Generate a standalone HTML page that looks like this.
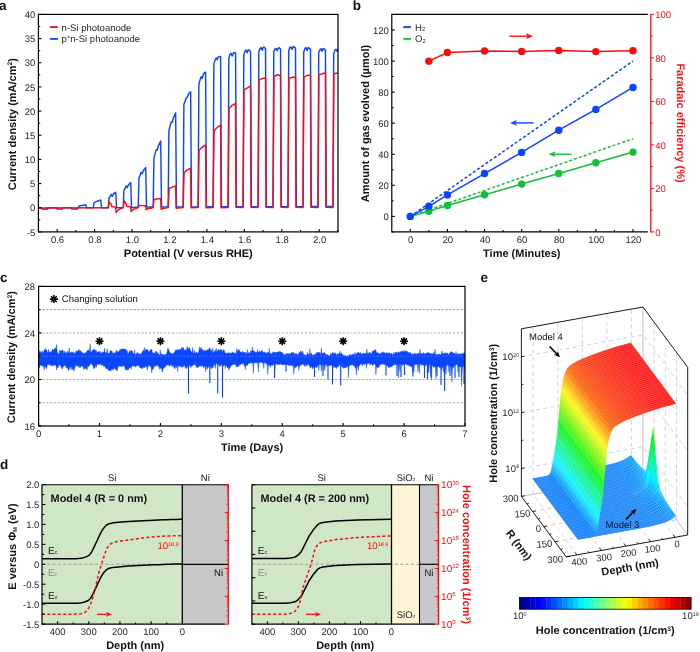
<!DOCTYPE html>
<html><head><meta charset="utf-8"><title>Figure</title>
<style>
html,body{margin:0;padding:0;background:#fff;}
body{width:700px;height:652px;overflow:hidden;font-family:"Liberation Sans",sans-serif;}
svg{display:block;font-family:"Liberation Sans",sans-serif;text-rendering:geometricPrecision;will-change:transform;}
</style></head><body>
<svg width="700" height="652" viewBox="0 0 700 652">
<rect x="0" y="0" width="700" height="652" fill="#fff"/>
<g id="panel-a">
<text x="-0.9" y="9.7" font-size="13.5" text-anchor="start" font-weight="bold" fill="#111">a</text>
<clipPath id="clipA"><rect x="38.4" y="14.4" width="299.6" height="217.5"/></clipPath>
<g clip-path="url(#clipA)" fill="none" stroke-linejoin="round" stroke-linecap="round">
<path d="M37.46 207.73 L41.21 207.73 L41.77 208.94 L47.76 208.94 L48.32 207.73 L56.19 207.73 L56.75 208.94 L62.74 208.94 L63.3 207.73 L71.17 207.73 L71.73 208.94 L77.72 208.94 L78.28 207.73 L78.28 207.73 L79.03 206.04 L80.16 205.75 L81.28 205.54 L82.4 205.35 L83.53 205.17 L84.65 205 L85.77 204.83 L86.62 207.73 L93.26 207.73 L94.01 202.9 L95.14 202.21 L96.26 201.7 L97.38 201.23 L98.51 200.8 L99.63 200.39 L100.75 200 L101.6 207.73 L108.24 207.73 L108.99 198.07 L110.12 196.68 L111.24 194.45 L112.36 196.43 L113.49 193.87 L114.61 193.05 L115.73 192.27 L116.58 207.73 L123.22 207.73 L123.97 190.33 L125.1 188.49 L126.22 185.91 L127.34 187.58 L128.47 184.74 L129.59 183.65 L130.71 182.6 L131.56 207.73 L138.2 206.99 L138.95 177.77 L140.08 175.35 L141.2 172.34 L142.32 173.63 L143.45 170.43 L144.57 168.99 L145.69 167.62 L146.54 206.99 L153.18 206.95 L153.93 157.95 L155.06 153.92 L156.18 149.72 L157.3 149.93 L158.43 145.72 L159.55 143.33 L160.67 141.03 L161.52 206.95 L168.16 206.91 L168.91 130.4 L170.04 126.25 L171.16 121.97 L172.28 122.1 L173.41 117.82 L174.53 115.36 L175.65 113 L176.5 206.91 L183.14 206.87 L183.89 104.24 L185.02 101.55 L186.14 98.03 L187.26 97.35 L188.39 94.3 L189.51 92.86 L190.63 91.83 L191.48 206.87 L198.12 206.83 L198.87 84.47 L200 80.07 L201.12 76.76 L202.24 78.39 L203.37 74.37 L204.49 72.72 L205.61 72.26 L206.46 206.83 L213.1 206.8 L213.85 64.14 L214.98 60.34 L216.1 57.96 L217.22 59.64 L218.35 56.87 L219.47 56.57 L220.59 56.62 L221.44 206.8 L228.08 206.76 L228.83 58.43 L229.96 54.26 L231.08 53.36 L232.2 55.89 L233.33 53 L234.45 52.54 L235.57 52.94 L236.42 206.76 L243.06 206.72 L243.81 54.89 L244.94 51.43 L246.06 49.97 L247.18 52.79 L248.31 49.81 L249.43 50.28 L250.55 51.4 L251.4 206.72 L258.04 206.68 L258.79 51.96 L259.92 48.53 L261.04 47.51 L262.16 50.24 L263.29 47.22 L264.41 47.34 L265.53 48.71 L266.38 206.68 L273.02 206.64 L273.77 51.76 L274.9 49.11 L276.02 48.41 L277.14 50.7 L278.27 48.12 L279.39 47.75 L280.51 49.18 L281.36 206.64 L288 206.6 L288.75 50.9 L289.88 47.33 L291 47.11 L292.12 49.43 L293.25 46.4 L294.37 47.14 L295.49 48 L296.34 206.6 L302.98 206.56 L303.73 52.15 L304.86 48.77 L305.98 47.53 L307.1 50.49 L308.23 47.58 L309.35 48.34 L310.47 49.22 L311.32 206.56 L317.96 206.53 L318.71 52.47 L319.84 49.84 L320.96 48.85 L322.08 51.15 L323.21 48.47 L324.33 49.12 L325.45 50.22 L326.3 206.53 L332.94 206.53 L333.69 54.06 L334.82 50.44 L335.94 49.19 L337.06 51.38 L338.19 48.88" stroke="#0a46ff" stroke-width="1.45" fill="none"/>
<path d="M37.46 207.97 L106.75 207.73 L108.24 207.73 L109.18 201.93 L110.49 203.38 L111.99 206.53 L115.55 207.25 L116.2 212.57 L117.98 210.15 L121.73 208.22 L123.22 207.49 L124.16 200.97 L125.47 202.66 L126.97 206.53 L130.53 206.77 L131.18 211.6 L132.96 209.67 L136.71 208.12 L138.2 207.49 L139.14 205.32 L140.45 205.47 L141.76 205.57 L143.07 205.65 L144.38 205.73 L145.69 205.8 L146.16 209.67 L147.94 208.7 L151.69 207.93 L153.18 207.49 L154.12 199.52 L155.43 199.2 L156.74 199.01 L158.05 198.84 L159.36 198.69 L160.67 198.55 L161.14 209.18 L162.92 208.46 L166.67 207.88 L168.16 207.49 L169.1 188.88 L170.41 187.94 L171.72 187.36 L173.03 186.86 L174.34 186.4 L175.65 185.98 L176.12 208.22 L177.9 207.97 L181.65 207.78 L183.14 207.49 L184.08 172.93 L185.39 171.37 L186.7 170.39 L188.01 169.55 L189.32 168.8 L190.63 168.1 L191.1 207.73 L198.12 207.49 L199.06 150.7 L200.37 148.82 L201.68 147.65 L202.99 146.64 L204.3 145.74 L205.61 144.9 L206.08 207.73 L213.1 207.49 L214.04 131.37 L215.35 129.33 L216.66 128.06 L217.97 126.97 L219.28 125.99 L220.59 125.08 L221.06 207.73 L228.08 207.49 L229.02 108.45 L230.33 107.32 L231.64 105.64 L232.95 104.98 L234.26 104.13 L235.57 103.36 L236.04 207.25 L243.06 207.49 L244 89.49 L245.31 89.13 L246.62 88.31 L247.93 87.56 L249.24 86.48 L250.55 86.9 L251.02 207.25 L258.04 207.49 L258.98 80.19 L260.29 79.45 L261.6 78.67 L262.91 78.41 L264.22 78.06 L265.53 78.46 L266 207.25 L273.02 207.49 L273.96 76.36 L275.27 75.96 L276.58 75.06 L277.89 74.72 L279.2 75.43 L280.51 75.19 L280.98 207.25 L288 207.49 L288.94 78.51 L290.25 78.04 L291.56 77.45 L292.87 77.08 L294.18 77.23 L295.49 77.33 L295.96 207.25 L302.98 207.49 L303.92 76.84 L305.23 76.43 L306.54 75.91 L307.85 75.21 L309.16 75.29 L310.47 75.28 L310.94 207.25 L317.96 207.49 L318.9 74.68 L320.21 74.14 L321.52 74.57 L322.83 73.34 L324.14 73.25 L325.45 72.93 L325.92 207.25 L332.94 207.49 L333.88 73.5 L335.19 73.5 L336.5 73.2 L337.81 73.3" stroke="#ff0a0a" stroke-width="1.45" fill="none"/>
</g>
<rect x="38.4" y="14.4" width="299.6" height="217.5" fill="none" stroke="#000" stroke-width="1.2"/>
<line x1="38.4" y1="231.9" x2="38.4" y2="230.1" stroke="#000" stroke-width="1.1"/>
<line x1="57.12" y1="231.9" x2="57.12" y2="228.9" stroke="#000" stroke-width="1.1"/>
<text x="57.52" y="242.7" font-size="9.5" text-anchor="middle" fill="#262626">0.6</text>
<line x1="75.85" y1="231.9" x2="75.85" y2="230.1" stroke="#000" stroke-width="1.1"/>
<line x1="94.58" y1="231.9" x2="94.58" y2="228.9" stroke="#000" stroke-width="1.1"/>
<text x="94.98" y="242.7" font-size="9.5" text-anchor="middle" fill="#262626">0.8</text>
<line x1="113.3" y1="231.9" x2="113.3" y2="230.1" stroke="#000" stroke-width="1.1"/>
<line x1="132.03" y1="231.9" x2="132.03" y2="228.9" stroke="#000" stroke-width="1.1"/>
<text x="132.43" y="242.7" font-size="9.5" text-anchor="middle" fill="#262626">1.0</text>
<line x1="150.75" y1="231.9" x2="150.75" y2="230.1" stroke="#000" stroke-width="1.1"/>
<line x1="169.48" y1="231.9" x2="169.48" y2="228.9" stroke="#000" stroke-width="1.1"/>
<text x="169.88" y="242.7" font-size="9.5" text-anchor="middle" fill="#262626">1.2</text>
<line x1="188.2" y1="231.9" x2="188.2" y2="230.1" stroke="#000" stroke-width="1.1"/>
<line x1="206.92" y1="231.9" x2="206.92" y2="228.9" stroke="#000" stroke-width="1.1"/>
<text x="207.32" y="242.7" font-size="9.5" text-anchor="middle" fill="#262626">1.4</text>
<line x1="225.65" y1="231.9" x2="225.65" y2="230.1" stroke="#000" stroke-width="1.1"/>
<line x1="244.38" y1="231.9" x2="244.38" y2="228.9" stroke="#000" stroke-width="1.1"/>
<text x="244.78" y="242.7" font-size="9.5" text-anchor="middle" fill="#262626">1.6</text>
<line x1="263.1" y1="231.9" x2="263.1" y2="230.1" stroke="#000" stroke-width="1.1"/>
<line x1="281.82" y1="231.9" x2="281.82" y2="228.9" stroke="#000" stroke-width="1.1"/>
<text x="282.22" y="242.7" font-size="9.5" text-anchor="middle" fill="#262626">1.8</text>
<line x1="300.55" y1="231.9" x2="300.55" y2="230.1" stroke="#000" stroke-width="1.1"/>
<line x1="319.27" y1="231.9" x2="319.27" y2="228.9" stroke="#000" stroke-width="1.1"/>
<text x="319.67" y="242.7" font-size="9.5" text-anchor="middle" fill="#262626">2.0</text>
<line x1="338" y1="231.9" x2="338" y2="230.1" stroke="#000" stroke-width="1.1"/>
<line x1="38.4" y1="231.9" x2="41.4" y2="231.9" stroke="#000" stroke-width="1.1"/>
<text x="35.4" y="235.6" font-size="9.5" text-anchor="end" fill="#262626">-5</text>
<line x1="38.4" y1="219.82" x2="40.2" y2="219.82" stroke="#000" stroke-width="1.1"/>
<line x1="38.4" y1="207.73" x2="41.4" y2="207.73" stroke="#000" stroke-width="1.1"/>
<text x="35.4" y="211.43" font-size="9.5" text-anchor="end" fill="#262626">0</text>
<line x1="38.4" y1="195.65" x2="40.2" y2="195.65" stroke="#000" stroke-width="1.1"/>
<line x1="38.4" y1="183.57" x2="41.4" y2="183.57" stroke="#000" stroke-width="1.1"/>
<text x="35.4" y="187.27" font-size="9.5" text-anchor="end" fill="#262626">5</text>
<line x1="38.4" y1="171.48" x2="40.2" y2="171.48" stroke="#000" stroke-width="1.1"/>
<line x1="38.4" y1="159.4" x2="41.4" y2="159.4" stroke="#000" stroke-width="1.1"/>
<text x="35.4" y="163.1" font-size="9.5" text-anchor="end" fill="#262626">10</text>
<line x1="38.4" y1="147.32" x2="40.2" y2="147.32" stroke="#000" stroke-width="1.1"/>
<line x1="38.4" y1="135.23" x2="41.4" y2="135.23" stroke="#000" stroke-width="1.1"/>
<text x="35.4" y="138.93" font-size="9.5" text-anchor="end" fill="#262626">15</text>
<line x1="38.4" y1="123.15" x2="40.2" y2="123.15" stroke="#000" stroke-width="1.1"/>
<line x1="38.4" y1="111.07" x2="41.4" y2="111.07" stroke="#000" stroke-width="1.1"/>
<text x="35.4" y="114.77" font-size="9.5" text-anchor="end" fill="#262626">20</text>
<line x1="38.4" y1="98.98" x2="40.2" y2="98.98" stroke="#000" stroke-width="1.1"/>
<line x1="38.4" y1="86.9" x2="41.4" y2="86.9" stroke="#000" stroke-width="1.1"/>
<text x="35.4" y="90.6" font-size="9.5" text-anchor="end" fill="#262626">25</text>
<line x1="38.4" y1="74.82" x2="40.2" y2="74.82" stroke="#000" stroke-width="1.1"/>
<line x1="38.4" y1="62.73" x2="41.4" y2="62.73" stroke="#000" stroke-width="1.1"/>
<text x="35.4" y="66.43" font-size="9.5" text-anchor="end" fill="#262626">30</text>
<line x1="38.4" y1="50.65" x2="40.2" y2="50.65" stroke="#000" stroke-width="1.1"/>
<line x1="38.4" y1="38.57" x2="41.4" y2="38.57" stroke="#000" stroke-width="1.1"/>
<text x="35.4" y="42.27" font-size="9.5" text-anchor="end" fill="#262626">35</text>
<line x1="38.4" y1="26.48" x2="40.2" y2="26.48" stroke="#000" stroke-width="1.1"/>
<line x1="38.4" y1="14.4" x2="41.4" y2="14.4" stroke="#000" stroke-width="1.1"/>
<text x="35.4" y="18.1" font-size="9.5" text-anchor="end" fill="#262626">40</text>
<text x="188.3" y="257.1" font-size="11" text-anchor="middle" font-weight="bold" fill="#111">Potential (V versus RHE)</text>
<text x="15.8" y="124.2" font-size="11" text-anchor="middle" font-weight="bold" fill="#111" transform="rotate(-90 15.8 124.2)">Current density (mA/cm<tspan font-size="60%" dy="-0.5em">2</tspan><tspan dy="0.30em">)</tspan></text>
<line x1="50.1" y1="27.1" x2="57.8" y2="27.1" stroke="#ff0a0a" stroke-width="1.9"/>
<line x1="50.1" y1="38.9" x2="57.8" y2="38.9" stroke="#0a46ff" stroke-width="1.9"/>
<text x="61.6" y="30.5" font-size="9.5" text-anchor="start" fill="#262626">n-Si photoanode</text>
<text x="61.6" y="42.3" font-size="9.5" text-anchor="start" fill="#262626">p<tspan font-size="62%" dy="-0.62em">+</tspan><tspan dy="0.385em">n-Si photoanode</tspan></text>
</g>
<g id="panel-b">
<text x="352.8" y="9.7" font-size="13.5" text-anchor="start" font-weight="bold" fill="#111">b</text>
<line x1="410.3" y1="216.4" x2="633" y2="61.07" stroke="#0a46ff" stroke-width="1.5" stroke-dasharray="3 2.1"/>
<line x1="410.3" y1="216.4" x2="633" y2="138.73" stroke="#12bf38" stroke-width="1.5" stroke-dasharray="3 2.1"/>
<path d="M410.3 216.4 L428.86 211.27 L447.42 205.53 L484.53 194.81 L521.65 184.09 L558.77 173.53 L595.88 162.81 L633 152.09" stroke="#12bf38" stroke-width="1.5" fill="none"/>
<circle cx="410.3" cy="216.4" r="3.7" fill="#12bf38"/>
<circle cx="428.86" cy="211.27" r="3.7" fill="#12bf38"/>
<circle cx="447.42" cy="205.53" r="3.7" fill="#12bf38"/>
<circle cx="484.53" cy="194.81" r="3.7" fill="#12bf38"/>
<circle cx="521.65" cy="184.09" r="3.7" fill="#12bf38"/>
<circle cx="558.77" cy="173.53" r="3.7" fill="#12bf38"/>
<circle cx="595.88" cy="162.81" r="3.7" fill="#12bf38"/>
<circle cx="633" cy="152.09" r="3.7" fill="#12bf38"/>
<path d="M410.3 216.4 L428.86 206.3 L447.42 194.96 L484.53 173.53 L521.65 152.4 L558.77 130.19 L595.88 109.38 L633 87.47" stroke="#0a46ff" stroke-width="1.5" fill="none"/>
<circle cx="410.3" cy="216.4" r="3.7" fill="#0a46ff"/>
<circle cx="428.86" cy="206.3" r="3.7" fill="#0a46ff"/>
<circle cx="447.42" cy="194.96" r="3.7" fill="#0a46ff"/>
<circle cx="484.53" cy="173.53" r="3.7" fill="#0a46ff"/>
<circle cx="521.65" cy="152.4" r="3.7" fill="#0a46ff"/>
<circle cx="558.77" cy="130.19" r="3.7" fill="#0a46ff"/>
<circle cx="595.88" cy="109.38" r="3.7" fill="#0a46ff"/>
<circle cx="633" cy="87.47" r="3.7" fill="#0a46ff"/>
<path d="M428.86 61.16 L447.42 52.46 L484.53 50.94 L521.65 51.38 L558.77 50.5 L595.88 51.59 L633 50.72" stroke="#ff0a0a" stroke-width="1.5" fill="none"/>
<circle cx="428.86" cy="61.16" r="3.7" fill="#ff0a0a"/>
<circle cx="447.42" cy="52.46" r="3.7" fill="#ff0a0a"/>
<circle cx="484.53" cy="50.94" r="3.7" fill="#ff0a0a"/>
<circle cx="521.65" cy="51.38" r="3.7" fill="#ff0a0a"/>
<circle cx="558.77" cy="50.5" r="3.7" fill="#ff0a0a"/>
<circle cx="595.88" cy="51.59" r="3.7" fill="#ff0a0a"/>
<circle cx="633" cy="50.72" r="3.7" fill="#ff0a0a"/>
<path d="M647.8 14.4 L391.8 14.4 L391.8 231.9 L647.8 231.9" stroke="#000" stroke-width="1.2" fill="none"/>
<line x1="650.8" y1="13.8" x2="650.8" y2="232.5" stroke="#ff0a0a" stroke-width="1.3"/>
<line x1="410.3" y1="231.9" x2="410.3" y2="228.9" stroke="#000" stroke-width="1.1"/>
<text x="410.7" y="242.7" font-size="9.5" text-anchor="middle" fill="#262626">0</text>
<line x1="428.86" y1="231.9" x2="428.86" y2="230.1" stroke="#000" stroke-width="1.1"/>
<line x1="447.42" y1="231.9" x2="447.42" y2="228.9" stroke="#000" stroke-width="1.1"/>
<text x="447.82" y="242.7" font-size="9.5" text-anchor="middle" fill="#262626">20</text>
<line x1="465.98" y1="231.9" x2="465.98" y2="230.1" stroke="#000" stroke-width="1.1"/>
<line x1="484.53" y1="231.9" x2="484.53" y2="228.9" stroke="#000" stroke-width="1.1"/>
<text x="484.93" y="242.7" font-size="9.5" text-anchor="middle" fill="#262626">40</text>
<line x1="503.09" y1="231.9" x2="503.09" y2="230.1" stroke="#000" stroke-width="1.1"/>
<line x1="521.65" y1="231.9" x2="521.65" y2="228.9" stroke="#000" stroke-width="1.1"/>
<text x="522.05" y="242.7" font-size="9.5" text-anchor="middle" fill="#262626">60</text>
<line x1="540.21" y1="231.9" x2="540.21" y2="230.1" stroke="#000" stroke-width="1.1"/>
<line x1="558.77" y1="231.9" x2="558.77" y2="228.9" stroke="#000" stroke-width="1.1"/>
<text x="559.17" y="242.7" font-size="9.5" text-anchor="middle" fill="#262626">80</text>
<line x1="577.33" y1="231.9" x2="577.33" y2="230.1" stroke="#000" stroke-width="1.1"/>
<line x1="595.88" y1="231.9" x2="595.88" y2="228.9" stroke="#000" stroke-width="1.1"/>
<text x="596.28" y="242.7" font-size="9.5" text-anchor="middle" fill="#262626">100</text>
<line x1="614.44" y1="231.9" x2="614.44" y2="230.1" stroke="#000" stroke-width="1.1"/>
<line x1="633" y1="231.9" x2="633" y2="228.9" stroke="#000" stroke-width="1.1"/>
<text x="633.4" y="242.7" font-size="9.5" text-anchor="middle" fill="#262626">120</text>
<line x1="391.8" y1="231.93" x2="393.6" y2="231.93" stroke="#000" stroke-width="1.1"/>
<line x1="391.8" y1="216.4" x2="394.8" y2="216.4" stroke="#000" stroke-width="1.1"/>
<text x="388.8" y="220.1" font-size="9.5" text-anchor="end" fill="#262626">0</text>
<line x1="391.8" y1="200.87" x2="393.6" y2="200.87" stroke="#000" stroke-width="1.1"/>
<line x1="391.8" y1="185.33" x2="394.8" y2="185.33" stroke="#000" stroke-width="1.1"/>
<text x="388.8" y="189.03" font-size="9.5" text-anchor="end" fill="#262626">20</text>
<line x1="391.8" y1="169.8" x2="393.6" y2="169.8" stroke="#000" stroke-width="1.1"/>
<line x1="391.8" y1="154.27" x2="394.8" y2="154.27" stroke="#000" stroke-width="1.1"/>
<text x="388.8" y="157.97" font-size="9.5" text-anchor="end" fill="#262626">40</text>
<line x1="391.8" y1="138.73" x2="393.6" y2="138.73" stroke="#000" stroke-width="1.1"/>
<line x1="391.8" y1="123.2" x2="394.8" y2="123.2" stroke="#000" stroke-width="1.1"/>
<text x="388.8" y="126.9" font-size="9.5" text-anchor="end" fill="#262626">60</text>
<line x1="391.8" y1="107.67" x2="393.6" y2="107.67" stroke="#000" stroke-width="1.1"/>
<line x1="391.8" y1="92.13" x2="394.8" y2="92.13" stroke="#000" stroke-width="1.1"/>
<text x="388.8" y="95.83" font-size="9.5" text-anchor="end" fill="#262626">80</text>
<line x1="391.8" y1="76.6" x2="393.6" y2="76.6" stroke="#000" stroke-width="1.1"/>
<line x1="391.8" y1="61.07" x2="394.8" y2="61.07" stroke="#000" stroke-width="1.1"/>
<text x="388.8" y="64.77" font-size="9.5" text-anchor="end" fill="#262626">100</text>
<line x1="391.8" y1="45.53" x2="393.6" y2="45.53" stroke="#000" stroke-width="1.1"/>
<line x1="391.8" y1="30" x2="394.8" y2="30" stroke="#000" stroke-width="1.1"/>
<text x="388.8" y="33.7" font-size="9.5" text-anchor="end" fill="#262626">120</text>
<line x1="391.8" y1="14.47" x2="393.6" y2="14.47" stroke="#000" stroke-width="1.1"/>
<line x1="650.8" y1="231.9" x2="654" y2="231.9" stroke="#ff0a0a" stroke-width="1"/>
<text x="655.3" y="235.6" font-size="9.5" text-anchor="start" fill="#ff0a0a">0</text>
<line x1="650.8" y1="210.15" x2="652.8" y2="210.15" stroke="#ff0a0a" stroke-width="1"/>
<line x1="650.8" y1="188.4" x2="654" y2="188.4" stroke="#ff0a0a" stroke-width="1"/>
<text x="655.3" y="192.1" font-size="9.5" text-anchor="start" fill="#ff0a0a">20</text>
<line x1="650.8" y1="166.65" x2="652.8" y2="166.65" stroke="#ff0a0a" stroke-width="1"/>
<line x1="650.8" y1="144.9" x2="654" y2="144.9" stroke="#ff0a0a" stroke-width="1"/>
<text x="655.3" y="148.6" font-size="9.5" text-anchor="start" fill="#ff0a0a">40</text>
<line x1="650.8" y1="123.15" x2="652.8" y2="123.15" stroke="#ff0a0a" stroke-width="1"/>
<line x1="650.8" y1="101.4" x2="654" y2="101.4" stroke="#ff0a0a" stroke-width="1"/>
<text x="655.3" y="105.1" font-size="9.5" text-anchor="start" fill="#ff0a0a">60</text>
<line x1="650.8" y1="79.65" x2="652.8" y2="79.65" stroke="#ff0a0a" stroke-width="1"/>
<line x1="650.8" y1="57.9" x2="654" y2="57.9" stroke="#ff0a0a" stroke-width="1"/>
<text x="655.3" y="61.6" font-size="9.5" text-anchor="start" fill="#ff0a0a">80</text>
<line x1="650.8" y1="36.15" x2="652.8" y2="36.15" stroke="#ff0a0a" stroke-width="1"/>
<line x1="650.8" y1="14.4" x2="654" y2="14.4" stroke="#ff0a0a" stroke-width="1"/>
<text x="655.3" y="18.1" font-size="9.5" text-anchor="start" fill="#ff0a0a">100</text>
<text x="521.8" y="257.1" font-size="11" text-anchor="middle" font-weight="bold" fill="#111">Time (Minutes)</text>
<text x="369.4" y="123.5" font-size="11" text-anchor="middle" font-weight="bold" fill="#111" transform="rotate(-90 369.4 123.5)">Amount of gas evolved (µmol)</text>
<text x="676.8" y="123" font-size="11" text-anchor="middle" font-weight="bold" fill="#ff0a0a" transform="rotate(90 676.8 123)">Faradaic efficiency (%)</text>
<line x1="403.3" y1="27.1" x2="410.9" y2="27.1" stroke="#0a46ff" stroke-width="1.9"/>
<line x1="403.3" y1="38.9" x2="410.9" y2="38.9" stroke="#12bf38" stroke-width="1.9"/>
<text x="415" y="30.6" font-size="9.5" text-anchor="start" fill="#262626">H<tspan font-size="60%" dy="0.1em">2</tspan></text>
<text x="415" y="42.4" font-size="9.5" text-anchor="start" fill="#262626">O<tspan font-size="60%" dy="0.1em">2</tspan></text>
<line x1="509.5" y1="36.2" x2="527.5" y2="36.2" stroke="#ff0a0a" stroke-width="1.4"/>
<path d="M533 36.2 L526 39.1 L527.6 36.2 L526 33.3Z" fill="#ff0a0a"/>
<line x1="533.5" y1="122.9" x2="515.5" y2="122.9" stroke="#0a46ff" stroke-width="1.4"/>
<path d="M510 122.9 L517 120 L515.4 122.9 L517 125.8Z" fill="#0a46ff"/>
<line x1="571.5" y1="154.2" x2="554" y2="154.2" stroke="#12bf38" stroke-width="1.4"/>
<path d="M548.5 154.2 L555.5 151.3 L553.9 154.2 L555.5 157.1Z" fill="#12bf38"/>
</g>
<g id="panel-c">
<text x="-0.1" y="281.6" font-size="13.5" text-anchor="start" font-weight="bold" fill="#111">c</text>
<line x1="38.6" y1="402.73" x2="465" y2="402.73" stroke="#adadad" stroke-width="1.1" stroke-dasharray="2.5 1.3"/>
<line x1="38.6" y1="379.47" x2="465" y2="379.47" stroke="#adadad" stroke-width="1.1" stroke-dasharray="2.5 1.3"/>
<line x1="38.6" y1="356.2" x2="465" y2="356.2" stroke="#adadad" stroke-width="1.1" stroke-dasharray="2.5 1.3"/>
<line x1="38.6" y1="332.93" x2="465" y2="332.93" stroke="#adadad" stroke-width="1.1" stroke-dasharray="2.5 1.3"/>
<line x1="38.6" y1="309.67" x2="465" y2="309.67" stroke="#adadad" stroke-width="1.1" stroke-dasharray="2.5 1.3"/>
<clipPath id="clipC"><rect x="38.6" y="286.4" width="426.4" height="139.6"/></clipPath>
<g clip-path="url(#clipC)">
<path d="M38.6 352.25 L39.1 352.05 L39.6 350.68 L40.1 351.36 L40.6 352.86 L41.1 351.58 L41.6 353.27 L42.1 352.79 L42.6 350.6 L43.1 353.07 L43.6 352.69 L44.11 350.41 L44.61 349.97 L45.11 348.48 L45.61 349.2 L46.11 350.56 L46.61 349.74 L47.11 351.77 L47.61 352.92 L48.11 351.61 L48.61 349.27 L49.11 352.28 L49.61 352.68 L50.11 351.5 L50.61 352.41 L51.11 351.79 L51.61 351.45 L52.11 349.42 L52.61 349.21 L53.11 350.26 L53.61 350.34 L54.11 349.36 L54.62 348.18 L55.12 348.38 L55.62 347.9 L56.12 348.39 L56.62 344.37 L57.12 351.93 L57.62 352.81 L58.12 353.4 L58.62 354 L59.12 353.67 L59.62 350.68 L60.12 350.72 L60.62 350.14 L61.12 351.31 L61.62 350.65 L62.12 350.42 L62.62 349.81 L63.12 350.26 L63.62 353.72 L64.12 352.43 L64.62 350.98 L65.12 352.11 L65.63 353.57 L66.13 353.38 L66.63 352.28 L67.13 350.93 L67.63 352.46 L68.13 352.92 L68.63 352.84 L69.13 347.9 L69.63 351.5 L70.13 352.84 L70.63 352.72 L71.13 352.95 L71.63 351.84 L72.13 352.64 L72.63 352.44 L73.13 351.74 L73.63 352.99 L74.13 352.53 L74.63 353.5 L75.13 353.43 L75.63 352.38 L76.14 350.73 L76.64 351.96 L77.14 351.03 L77.64 351.61 L78.14 350.56 L78.64 349.35 L79.14 349.83 L79.64 351.79 L80.14 350.12 L80.64 351.7 L81.14 352.48 L81.64 351.19 L82.14 352.06 L82.64 353.45 L83.14 352.89 L83.64 353.13 L84.14 353.7 L84.64 353.34 L85.14 353.56 L85.64 352.14 L86.14 353.56 L86.65 352 L87.15 350.89 L87.65 350.49 L88.15 349.38 L88.65 350.68 L89.15 351.36 L89.65 350.08 L90.15 343.77 L90.65 350.91 L91.15 352.23 L91.65 352.53 L92.15 350.78 L92.65 350.11 L93.15 349.76 L93.65 350.19 L94.15 349.41 L94.65 349.04 L95.15 349.87 L95.65 351.71 L96.15 349.86 L96.65 352.98 L97.15 351.45 L97.66 352.86 L98.16 352.01 L98.66 352 L99.16 351.33 L99.66 352.43 L100.16 351.28 L100.66 353.59 L101.16 353.78 L101.66 352.42 L102.16 352.66 L102.66 352.29 L103.16 352.1 L103.66 352.45 L104.16 351.21 L104.66 348.02 L105.16 353.27 L105.66 352.63 L106.16 352.86 L106.66 352.33 L107.16 348.51 L107.66 352.79 L108.17 353.75 L108.67 352.95 L109.17 354.07 L109.67 352.53 L110.17 350.26 L110.67 350.64 L111.17 350.95 L111.67 350.95 L112.17 351.57 L112.67 353.64 L113.17 352.57 L113.67 352.91 L114.17 352.98 L114.67 354.3 L115.17 352.4 L115.67 352.28 L116.17 350.28 L116.67 351.12 L117.17 350.97 L117.67 352.67 L118.17 351.82 L118.68 351.95 L119.18 350.72 L119.68 350.68 L120.18 349.41 L120.68 350.44 L121.18 348.63 L121.68 349.23 L122.18 348.88 L122.68 349.14 L123.18 349.03 L123.68 348.6 L124.18 349.36 L124.68 349.59 L125.18 348.99 L125.68 348.94 L126.18 349.83 L126.68 351.66 L127.18 350.63 L127.68 353.46 L128.18 353.89 L128.68 352.83 L129.18 352.06 L129.69 350.42 L130.19 351.34 L130.69 351.6 L131.19 350.3 L131.69 350.91 L132.19 350.48 L132.69 352.73 L133.19 352.96 L133.69 354.15 L134.19 353.28 L134.69 349.81 L135.19 354.83 L135.69 354.3 L136.19 353.95 L136.69 353.53 L137.19 352.02 L137.69 353.39 L138.19 354.09 L138.69 353.24 L139.19 354.09 L139.69 353.52 L140.2 354.46 L140.7 354.19 L141.2 353.58 L141.7 353.86 L142.2 351.57 L142.7 351.67 L143.2 350.65 L143.7 349.61 L144.2 352.55 L144.7 347.52 L145.2 349.49 L145.7 350.21 L146.2 349.86 L146.7 349.54 L147.2 349.35 L147.7 349.48 L148.2 350.96 L148.7 351.28 L149.2 351.91 L149.7 351.28 L150.2 349.77 L150.71 349.95 L151.21 349.52 L151.71 348.98 L152.21 351.73 L152.71 353.15 L153.21 353.14 L153.71 352.57 L154.21 353.38 L154.71 353.25 L155.21 353.45 L155.71 350.93 L156.21 351.08 L156.71 351.89 L157.21 353.86 L157.71 352.26 L158.21 353.95 L158.71 354.1 L159.21 355.12 L159.71 355.14 L160.21 349.53 L160.71 353.84 L161.22 354.22 L161.72 354.04 L162.22 353.8 L162.72 355.22 L163.22 355.11 L163.72 354.37 L164.22 354.76 L164.72 354.96 L165.22 354.69 L165.72 353.71 L166.22 354.46 L166.72 353.52 L167.22 351.01 L167.72 348.66 L168.22 348.3 L168.72 349.74 L169.22 351.28 L169.72 352.44 L170.22 352.35 L170.72 354.18 L171.22 353.07 L171.72 353.89 L172.23 353.78 L172.73 353.6 L173.23 353.73 L173.73 352.93 L174.23 352.24 L174.73 352.77 L175.23 350.68 L175.73 349.79 L176.23 350.55 L176.73 349.51 L177.23 349.47 L177.73 350.51 L178.23 350.32 L178.73 349.43 L179.23 350.13 L179.73 349.1 L180.23 350.07 L180.73 349.52 L181.23 348.38 L181.73 347.28 L182.23 348.28 L182.74 348.85 L183.24 347.05 L183.74 349 L184.24 349.87 L184.74 350.46 L185.24 349.43 L185.74 350.38 L186.24 350.4 L186.74 348.39 L187.24 346.41 L187.74 347.9 L188.24 348.59 L188.74 350.01 L189.24 347.58 L189.74 347.64 L190.24 350.21 L190.74 350.63 L191.24 352.05 L191.74 352.62 L192.24 351.35 L192.74 347.27 L193.25 353.66 L193.75 352.92 L194.25 352.75 L194.75 350.27 L195.25 352.95 L195.75 353.2 L196.25 352.6 L196.75 352.29 L197.25 352.58 L197.75 353.76 L198.25 353.24 L198.75 351.73 L199.25 346.68 L199.75 350.51 L200.25 349.07 L200.75 347.34 L201.25 347.7 L201.75 349.87 L202.25 349.71 L202.75 349.67 L203.25 351.35 L203.75 350.18 L204.26 351.66 L204.76 350.62 L205.26 349.67 L205.76 351.06 L206.26 351 L206.76 350.75 L207.26 350.08 L207.76 349.34 L208.26 349.41 L208.76 349.78 L209.26 348.67 L209.76 347.51 L210.26 348.63 L210.76 351.25 L211.26 349.69 L211.76 351.21 L212.26 353.84 L212.76 347.75 L213.26 352.21 L213.76 352.15 L214.26 351.15 L214.77 350.53 L215.27 351.69 L215.77 349.62 L216.27 348.24 L216.77 351.67 L217.27 351.25 L217.77 351.06 L218.27 349.17 L218.77 350.56 L219.27 349.69 L219.77 350.7 L220.27 350.45 L220.77 349.28 L221.27 349.22 L221.77 350.72 L222.27 350.67 L222.77 351.89 L223.27 350.12 L223.77 349.41 L224.27 350.6 L224.77 352.15 L225.28 353.07 L225.78 352.85 L226.28 353.24 L226.78 353.87 L227.28 353.62 L227.78 352.48 L228.28 352.77 L228.78 353.07 L229.28 352.52 L229.78 353.39 L230.28 353.12 L230.78 353.65 L231.28 352.83 L231.78 353.25 L232.28 351.86 L232.78 353.2 L233.28 352.61 L233.78 353.16 L234.28 352.62 L234.78 353.16 L235.28 353.53 L235.78 353.05 L236.29 353.82 L236.79 348.3 L237.29 351.85 L237.79 350.3 L238.29 349.71 L238.79 349.99 L239.29 349.63 L239.79 351.5 L240.29 351.77 L240.79 351.92 L241.29 352.3 L241.79 352.77 L242.29 351.48 L242.79 351.37 L243.29 352.5 L243.79 353.02 L244.29 352.36 L244.79 352.52 L245.29 352 L245.79 353.53 L246.29 353.9 L246.8 352.64 L247.3 349.28 L247.8 353.72 L248.3 352.9 L248.8 352.24 L249.3 353.33 L249.8 353.1 L250.3 352.51 L250.8 350.67 L251.3 351.58 L251.8 351.86 L252.3 346.76 L252.8 350.65 L253.3 350.31 L253.8 351.44 L254.3 351.75 L254.8 351.48 L255.3 351.98 L255.8 352.39 L256.3 352.6 L256.8 351.84 L257.31 351.93 L257.81 349.34 L258.31 352.57 L258.81 352.36 L259.31 351.74 L259.81 350.89 L260.31 351.88 L260.81 352.22 L261.31 351.12 L261.81 350.18 L262.31 350.81 L262.81 352.24 L263.31 352.6 L263.81 352.19 L264.31 351.91 L264.81 352.36 L265.31 352.68 L265.81 353.41 L266.31 352.64 L266.81 353.31 L267.31 352.16 L267.82 353 L268.32 352.59 L268.82 352.82 L269.32 348.23 L269.82 353.99 L270.32 352.87 L270.82 354.02 L271.32 353.91 L271.82 353.63 L272.32 352.82 L272.82 352.26 L273.32 352.29 L273.82 352.08 L274.32 352.59 L274.82 351.98 L275.32 352.18 L275.82 352.96 L276.32 352.85 L276.82 351.85 L277.32 352.29 L277.82 352.1 L278.32 351.62 L278.83 352.32 L279.33 351.33 L279.83 351.95 L280.33 351.83 L280.83 351.84 L281.33 352.27 L281.83 352.2 L282.33 352.48 L282.83 354.07 L283.33 353.29 L283.83 355.3 L284.33 355.06 L284.83 355.1 L285.33 354.25 L285.83 354.06 L286.33 354.16 L286.83 353.12 L287.33 353.96 L287.83 353.9 L288.33 353.9 L288.83 353.78 L289.34 354.04 L289.84 353.8 L290.34 353.87 L290.84 353.24 L291.34 352.94 L291.84 352.23 L292.34 352.95 L292.84 352.4 L293.34 352.37 L293.84 352.92 L294.34 353.57 L294.84 354.52 L295.34 354.13 L295.84 353.2 L296.34 354 L296.84 354.13 L297.34 353.89 L297.84 354.39 L298.34 354.65 L298.84 353.14 L299.34 352.67 L299.85 352.1 L300.35 351.7 L300.85 350.61 L301.35 352.55 L301.85 352.49 L302.35 352.86 L302.85 350.95 L303.35 354.03 L303.85 354.67 L304.35 354.47 L304.85 355.15 L305.35 355.4 L305.85 354.7 L306.35 355.43 L306.85 354.67 L307.35 352.28 L307.85 354.58 L308.35 354.02 L308.85 354.43 L309.35 354.75 L309.85 348.58 L310.35 353.13 L310.86 354.7 L311.36 352.96 L311.86 354.44 L312.36 355.18 L312.86 355.11 L313.36 355.28 L313.86 354.67 L314.36 354.56 L314.86 354.81 L315.36 354.5 L315.86 353.57 L316.36 354.01 L316.86 352.26 L317.36 352.07 L317.86 352.73 L318.36 352.14 L318.86 353.2 L319.36 353.15 L319.86 352.08 L320.36 353.73 L320.86 354.55 L321.37 347.94 L321.87 352.94 L322.37 353.69 L322.87 353.08 L323.37 353.02 L323.87 352.82 L324.37 352.43 L324.87 353.35 L325.37 353.66 L325.87 354.12 L326.37 354.82 L326.87 355.46 L327.37 354.43 L327.87 354.67 L328.37 355.51 L328.87 355.83 L329.37 355.62 L329.87 355.42 L330.37 355.32 L330.87 353.02 L331.37 354.75 L331.88 354.34 L332.38 353.33 L332.88 352.07 L333.38 353.06 L333.88 353.73 L334.38 353.54 L334.88 353.35 L335.38 352.51 L335.88 354.51 L336.38 355.14 L336.88 354.5 L337.38 353.65 L337.88 354.1 L338.38 354.21 L338.88 353.98 L339.38 353.91 L339.88 351.1 L340.38 354.28 L340.88 353.31 L341.38 352.85 L341.88 353.39 L342.38 354.81 L342.89 355.17 L343.39 354.86 L343.89 355.61 L344.39 355.54 L344.89 355.87 L345.39 355.5 L345.89 356.08 L346.39 356.22 L346.89 356.17 L347.39 356.05 L347.89 355.56 L348.39 356.16 L348.89 355.83 L349.39 354.57 L349.89 354.84 L350.39 354.72 L350.89 355.3 L351.39 354.72 L351.89 354.69 L352.39 354.4 L352.89 353.99 L353.4 354 L353.9 354.95 L354.4 355.09 L354.9 352.29 L355.4 354.84 L355.9 354.39 L356.4 353.24 L356.9 353.5 L357.4 353.47 L357.9 351.84 L358.4 352.64 L358.9 352.45 L359.4 353.04 L359.9 354.01 L360.4 352.23 L360.9 353.51 L361.4 354.11 L361.9 353.74 L362.4 353.63 L362.9 353.89 L363.4 353.3 L363.91 353.23 L364.41 353.54 L364.91 353.63 L365.41 353.28 L365.91 354.23 L366.41 352.87 L366.91 349.04 L367.41 353.41 L367.91 353.91 L368.41 353.47 L368.91 352.61 L369.41 352.36 L369.91 352.4 L370.41 353.37 L370.91 353.48 L371.41 353.64 L371.91 352.6 L372.41 351.43 L372.91 351.1 L373.41 350.98 L373.91 350.2 L374.42 350.81 L374.92 350.58 L375.42 349.33 L375.92 350.84 L376.42 352.43 L376.92 352.73 L377.42 352.61 L377.92 353.62 L378.42 352.85 L378.92 353.32 L379.42 353.74 L379.92 353.84 L380.42 353.75 L380.92 353.71 L381.42 352.76 L381.92 351.92 L382.42 352.59 L382.92 353.3 L383.42 352.58 L383.92 351.68 L384.42 352.85 L384.92 353.36 L385.43 353.53 L385.93 352.71 L386.43 353.01 L386.93 352.51 L387.43 353.71 L387.93 353.27 L388.43 352.71 L388.93 353.27 L389.43 352.75 L389.93 353.21 L390.43 354.81 L390.93 353.99 L391.43 353.01 L391.93 354.46 L392.43 354.25 L392.93 354.83 L393.43 353.78 L393.93 352.18 L394.43 353.69 L394.93 353.5 L395.43 352.28 L395.94 353.3 L396.44 352.07 L396.94 353.11 L397.44 353.55 L397.94 351.76 L398.44 351.53 L398.94 352.56 L399.44 352.56 L399.94 352.75 L400.44 351.72 L400.94 351.22 L401.44 352.12 L401.94 351.68 L402.44 351.55 L402.94 350.38 L403.44 351.54 L403.94 351.44 L404.44 351.38 L404.94 350.61 L405.44 351 L405.94 351.38 L406.45 351.22 L406.95 350.93 L407.45 351.79 L407.95 352.75 L408.45 352.34 L408.95 353.05 L409.45 352.57 L409.95 353.11 L410.45 352.6 L410.95 354.34 L411.45 354.45 L411.95 353.4 L412.45 354.07 L412.95 354.44 L413.45 354.57 L413.95 354.21 L414.45 352.92 L414.95 353.85 L415.45 353.83 L415.95 353.89 L416.45 354.44 L416.95 354.06 L417.46 353.06 L417.96 353.73 L418.46 353.22 L418.96 353.95 L419.46 353.53 L419.96 349 L420.46 353.73 L420.96 353.38 L421.46 353.75 L421.96 353.46 L422.46 353.83 L422.96 353.42 L423.46 352.51 L423.96 353.31 L424.46 353.78 L424.96 353.57 L425.46 353.73 L425.96 353.89 L426.46 352.74 L426.96 352.78 L427.46 352.63 L427.97 352.98 L428.47 352.79 L428.97 352.45 L429.47 353.1 L429.97 353.97 L430.47 353.98 L430.97 353.05 L431.47 353.9 L431.97 353.79 L432.47 354.18 L432.97 354.2 L433.47 352.63 L433.97 352.76 L434.47 354.16 L434.97 349.15 L435.47 354.65 L435.97 354.91 L436.47 354.22 L436.97 354.24 L437.47 354.66 L437.97 354.68 L438.48 353.82 L438.98 354.62 L439.48 354.36 L439.98 353.99 L440.48 354.45 L440.98 355.16 L441.48 353.81 L441.98 351.04 L442.48 353.31 L442.98 352.98 L443.48 353.54 L443.98 353.59 L444.48 353.63 L444.98 353.58 L445.48 352.33 L445.98 353.67 L446.48 353.56 L446.98 353.53 L447.48 352.79 L447.98 353.71 L448.48 354.69 L448.98 354.38 L449.49 353.54 L449.99 352.65 L450.49 352.14 L450.99 351.78 L451.49 351.7 L451.99 351.88 L452.49 352.97 L452.99 352.8 L453.49 353.18 L453.99 352.81 L454.49 353.31 L454.99 354.24 L455.49 354.55 L455.99 351.39 L456.49 354.57 L456.99 354.55 L457.49 353.3 L457.99 354.12 L458.49 354.29 L458.99 353.79 L459.49 353.9 L460 354.36 L460.5 354.1 L461 354.14 L461.5 353.83 L462 353.82 L462.5 352.99 L463 353.86 L463.5 353.89 L464 352.38 L464.5 353.53 L465 353.48 L465 371.46 L464.5 365.25 L464 366.37 L463.5 365.4 L463 366.88 L462.5 365.99 L462 375.52 L461.5 386.13 L461 366.45 L460.5 366.7 L460 366.65 L459.49 366.65 L458.99 366.9 L458.49 365.2 L457.99 372.32 L457.49 364.92 L456.99 364.42 L456.49 364.26 L455.99 364.95 L455.49 364.1 L454.99 365.7 L454.49 364.44 L453.99 366.25 L453.49 367.28 L452.99 367.91 L452.49 367.35 L451.99 382.11 L451.49 373.07 L450.99 366.69 L450.49 365.88 L449.99 366.09 L449.49 365.71 L448.98 372.38 L448.48 366.03 L447.98 364.46 L447.48 364.21 L446.98 365.93 L446.48 365.91 L445.98 374.57 L445.48 367.47 L444.98 365.2 L444.48 375.62 L443.98 366.59 L443.48 372.32 L442.98 367.74 L442.48 367.46 L441.98 367.17 L441.48 370.08 L440.98 367.74 L440.48 367.43 L439.98 368.05 L439.48 367.21 L438.98 367.28 L438.48 366.23 L437.97 366.03 L437.47 366.92 L436.97 367.04 L436.47 366.18 L435.97 378.86 L435.47 367.17 L434.97 366.98 L434.47 366.79 L433.97 366.72 L433.47 367.48 L432.97 366.41 L432.47 365.87 L431.97 364.65 L431.47 379.6 L430.97 376.04 L430.47 365.21 L429.97 364.11 L429.47 363.85 L428.97 371.1 L428.47 372.96 L427.97 364.29 L427.46 364.44 L426.96 365.67 L426.46 364.42 L425.96 364.35 L425.46 365.86 L424.96 364.45 L424.46 365.81 L423.96 364.89 L423.46 364.73 L422.96 365.62 L422.46 364.85 L421.96 364.59 L421.46 365.33 L420.96 364.18 L420.46 364.19 L419.96 363.74 L419.46 373.52 L418.96 363.45 L418.46 365.47 L417.96 371.95 L417.46 364.83 L416.95 364.22 L416.45 364.48 L415.95 364.92 L415.45 364.1 L414.95 364.71 L414.45 364.25 L413.95 372.18 L413.45 365.11 L412.95 365.62 L412.45 372.88 L411.95 366.42 L411.45 366.77 L410.95 366.54 L410.45 366.25 L409.95 366.57 L409.45 365.1 L408.95 365.43 L408.45 365.3 L407.95 365.77 L407.45 365.06 L406.95 364.43 L406.45 364.26 L405.94 364.11 L405.44 363.94 L404.94 364.23 L404.44 364.27 L403.94 364.32 L403.44 364.51 L402.94 364.47 L402.44 365.63 L401.94 363.74 L401.44 364.6 L400.94 363.97 L400.44 363.52 L399.94 371.39 L399.44 363.92 L398.94 364.65 L398.44 378.05 L397.94 365.01 L397.44 364.55 L396.94 363.92 L396.44 365.12 L395.94 363.72 L395.43 365.17 L394.93 363.51 L394.43 364.64 L393.93 364.06 L393.43 365.45 L392.93 364.95 L392.43 366 L391.93 366.42 L391.43 366.8 L390.93 367.32 L390.43 366.77 L389.93 366.48 L389.43 367.49 L388.93 367.28 L388.43 367.9 L387.93 365.54 L387.43 365.65 L386.93 366.25 L386.43 364.86 L385.93 365.16 L385.43 363.8 L384.92 365.13 L384.42 363.9 L383.92 363.59 L383.42 364.54 L382.92 364.44 L382.42 363.33 L381.92 363.59 L381.42 364.65 L380.92 364.44 L380.42 364.33 L379.92 364.49 L379.42 366.25 L378.92 367.14 L378.42 367.38 L377.92 367.56 L377.42 367.43 L376.92 367.25 L376.42 366.21 L375.92 374.51 L375.42 363.87 L374.92 364.57 L374.42 363.65 L373.91 364.43 L373.41 364.24 L372.91 365.73 L372.41 365.44 L371.91 364.47 L371.41 363.81 L370.91 363.82 L370.41 364.7 L369.91 365.1 L369.41 363.04 L368.91 363.28 L368.41 363.52 L367.91 363.67 L367.41 363.59 L366.91 363.49 L366.41 368.45 L365.91 363.98 L365.41 363.79 L364.91 363.43 L364.41 364.83 L363.91 363.83 L363.4 364.03 L362.9 364.52 L362.4 366.06 L361.9 364.55 L361.4 363.47 L360.9 363.91 L360.4 363.81 L359.9 365.42 L359.4 365.52 L358.9 364.87 L358.4 370.49 L357.9 365.98 L357.4 367.46 L356.9 366.55 L356.4 375.22 L355.9 367.97 L355.4 368.16 L354.9 366.94 L354.4 365.62 L353.9 365.42 L353.4 366.08 L352.89 365.07 L352.39 364.55 L351.89 364.54 L351.39 364.81 L350.89 365.45 L350.39 365.1 L349.89 365.49 L349.39 365.66 L348.89 365.96 L348.39 377.59 L347.89 365.57 L347.39 366.69 L346.89 365.88 L346.39 367.34 L345.89 367.25 L345.39 368.02 L344.89 368.09 L344.39 367.59 L343.89 368.43 L343.39 367.5 L342.89 367.3 L342.38 367.4 L341.88 365.29 L341.38 366.48 L340.88 365.24 L340.38 364.87 L339.88 364.62 L339.38 365 L338.88 365.65 L338.38 367.01 L337.88 366.58 L337.38 366.24 L336.88 367.39 L336.38 368.71 L335.88 367.61 L335.38 367.59 L334.88 366.96 L334.38 366.55 L333.88 367.82 L333.38 366.48 L332.88 365.02 L332.38 365.68 L331.88 365.5 L331.37 365.37 L330.87 364.9 L330.37 365.58 L329.87 365.81 L329.37 365.55 L328.87 364.7 L328.37 366.11 L327.87 366 L327.37 365.68 L326.87 366.3 L326.37 364.75 L325.87 364.36 L325.37 364.42 L324.87 370.37 L324.37 364.24 L323.87 370.02 L323.37 364.46 L322.87 364.56 L322.37 365 L321.87 364.6 L321.37 371.43 L320.86 364.48 L320.36 364.66 L319.86 364.25 L319.36 364.46 L318.86 370.6 L318.36 365.38 L317.86 365.49 L317.36 366.13 L316.86 368.02 L316.36 366.83 L315.86 366.75 L315.36 366.89 L314.86 367.83 L314.36 367.3 L313.86 366.99 L313.36 367.03 L312.86 368.95 L312.36 367.9 L311.86 367.19 L311.36 366.29 L310.86 367.5 L310.35 368.35 L309.85 366.22 L309.35 366.04 L308.85 365.12 L308.35 364.48 L307.85 364.11 L307.35 364.27 L306.85 366.39 L306.35 364.36 L305.85 366.22 L305.35 364.57 L304.85 364.59 L304.35 366.51 L303.85 363.96 L303.35 364.52 L302.85 364.3 L302.35 364.84 L301.85 364.51 L301.35 364.35 L300.85 365.6 L300.35 365.32 L299.85 365.38 L299.34 366.73 L298.84 370.35 L298.34 366.04 L297.84 365.69 L297.34 365.62 L296.84 366.35 L296.34 366.63 L295.84 367.5 L295.34 366.77 L294.84 368.51 L294.34 366 L293.84 373.98 L293.34 365.32 L292.84 365.63 L292.34 365.81 L291.84 365.65 L291.34 365.47 L290.84 365.45 L290.34 364.95 L289.84 364.96 L289.34 365.88 L288.83 365.73 L288.33 365.05 L287.83 364.9 L287.33 364.82 L286.83 364.49 L286.33 364.33 L285.83 364.59 L285.33 364.32 L284.83 364.68 L284.33 363.92 L283.83 365.18 L283.33 364.54 L282.83 364.51 L282.33 365.19 L281.83 364.14 L281.33 364.35 L280.83 364.44 L280.33 363.85 L279.83 363.99 L279.33 365.06 L278.83 363.96 L278.32 364.15 L277.82 364.51 L277.32 364.85 L276.82 364.16 L276.32 363.72 L275.82 363.91 L275.32 364.62 L274.82 369.66 L274.32 363.38 L273.82 363.62 L273.32 364.6 L272.82 365.98 L272.32 364.79 L271.82 365.24 L271.32 365.03 L270.82 365.35 L270.32 367.45 L269.82 365.82 L269.32 365.1 L268.82 364.78 L268.32 365.31 L267.82 374.46 L267.31 366.07 L266.81 364.2 L266.31 363.49 L265.81 363.27 L265.31 363.08 L264.81 362.39 L264.31 362.17 L263.81 368.59 L263.31 362.67 L262.81 363.53 L262.31 362.15 L261.81 362.03 L261.31 362.43 L260.81 362.14 L260.31 362.65 L259.81 362.33 L259.31 362.92 L258.81 361.98 L258.31 372.16 L257.81 364.06 L257.31 363.29 L256.8 362.45 L256.3 362.43 L255.8 363.31 L255.3 362.55 L254.8 362.9 L254.3 362.54 L253.8 363.21 L253.3 373.63 L252.8 362.96 L252.3 362.83 L251.8 363.34 L251.3 362.63 L250.8 362.57 L250.3 363.15 L249.8 363.1 L249.3 363.4 L248.8 363.26 L248.3 363.14 L247.8 365 L247.3 365.36 L246.8 364.92 L246.29 365.79 L245.79 365.05 L245.29 369.57 L244.79 364.04 L244.29 366.41 L243.79 363.72 L243.29 363.43 L242.79 363.15 L242.29 364 L241.79 363.8 L241.29 363.96 L240.79 364.41 L240.29 364.64 L239.79 363.87 L239.29 365.58 L238.79 364.75 L238.29 366.68 L237.79 366.49 L237.29 366.48 L236.79 367.12 L236.29 366.78 L235.78 365.09 L235.28 364.56 L234.78 363.87 L234.28 364.16 L233.78 364.81 L233.28 364.21 L232.78 364.67 L232.28 364.92 L231.78 365.35 L231.28 365.46 L230.78 366.03 L230.28 367.21 L229.78 368.18 L229.28 368.51 L228.78 370.42 L228.28 367.56 L227.78 367.15 L227.28 367.99 L226.78 366.1 L226.28 365.65 L225.78 364.83 L225.28 368.77 L224.77 365.02 L224.27 365.34 L223.77 365.8 L223.27 365.86 L222.77 366.77 L222.27 366.58 L221.77 364.8 L221.27 363.99 L220.77 365.95 L220.27 365.18 L219.77 366.38 L219.27 365.88 L218.77 364.09 L218.27 364.51 L217.77 364.4 L217.27 363.81 L216.77 363.25 L216.27 363.35 L215.77 364.74 L215.27 368.45 L214.77 364.42 L214.26 364.54 L213.76 364.88 L213.26 367.55 L212.76 366.24 L212.26 368.21 L211.76 368.24 L211.26 368.8 L210.76 367.41 L210.26 366.96 L209.76 366.44 L209.26 365.27 L208.76 366.07 L208.26 367.7 L207.76 366.91 L207.26 369.38 L206.76 366.75 L206.26 366.43 L205.76 371.88 L205.26 366.69 L204.76 366.29 L204.26 366.2 L203.75 367.69 L203.25 367 L202.75 366.19 L202.25 365.05 L201.75 366.3 L201.25 365.95 L200.75 365.51 L200.25 366.33 L199.75 366.17 L199.25 365.51 L198.75 366.96 L198.25 365.79 L197.75 367.66 L197.25 368.09 L196.75 366.22 L196.25 367.37 L195.75 365.89 L195.25 364.25 L194.75 363.98 L194.25 364.83 L193.75 365.09 L193.25 365.07 L192.74 365.1 L192.24 366.28 L191.74 366.23 L191.24 365.96 L190.74 367.77 L190.24 366.25 L189.74 365.7 L189.24 364.83 L188.74 364.62 L188.24 366.55 L187.74 366.83 L187.24 366.74 L186.74 368.79 L186.24 367.25 L185.74 366.94 L185.24 368.4 L184.74 365.5 L184.24 365.57 L183.74 364.92 L183.24 367.25 L182.74 366.47 L182.23 367.27 L181.73 366.15 L181.23 367.22 L180.73 366.91 L180.23 366.12 L179.73 366.26 L179.23 366.2 L178.73 365.42 L178.23 366.06 L177.73 371.75 L177.23 365.24 L176.73 367.81 L176.23 366.59 L175.73 365.51 L175.23 367.85 L174.73 369.14 L174.23 367.87 L173.73 367.21 L173.23 365.35 L172.73 365.36 L172.23 366.91 L171.72 365.1 L171.22 364.86 L170.72 365.29 L170.22 365.79 L169.72 365.53 L169.22 366.27 L168.72 365.54 L168.22 364.26 L167.72 365.05 L167.22 365.17 L166.72 365.35 L166.22 365.43 L165.72 365.85 L165.22 367.2 L164.72 367.36 L164.22 367.8 L163.72 368.54 L163.22 367.93 L162.72 370.6 L162.22 372.3 L161.72 368.78 L161.22 368.33 L160.71 367.74 L160.21 368.72 L159.71 369.32 L159.21 367.37 L158.71 366.86 L158.21 365.99 L157.71 365.31 L157.21 365.03 L156.71 365.4 L156.21 365.84 L155.71 365.56 L155.21 366.42 L154.71 365.11 L154.21 366.69 L153.71 367.52 L153.21 369.45 L152.71 368.98 L152.21 369.36 L151.71 372.88 L151.21 367.02 L150.71 366.95 L150.2 365.68 L149.7 366.09 L149.2 364.85 L148.7 364.78 L148.2 366.73 L147.7 366.67 L147.2 370.22 L146.7 367 L146.2 366.45 L145.7 366.49 L145.2 366.59 L144.7 366.93 L144.2 368.01 L143.7 366.27 L143.2 367.43 L142.7 367.9 L142.2 368.99 L141.7 368.21 L141.2 367.35 L140.7 368.15 L140.2 367.65 L139.69 367.42 L139.19 365.82 L138.69 365.32 L138.19 365.38 L137.69 365.95 L137.19 365.45 L136.69 365.59 L136.19 366.34 L135.69 367.18 L135.19 366.81 L134.69 365.84 L134.19 365.9 L133.69 366.58 L133.19 365.97 L132.69 365.68 L132.19 365.56 L131.69 366.62 L131.19 369.13 L130.69 367.71 L130.19 367.38 L129.69 367.96 L129.18 367.3 L128.68 369.95 L128.18 369.6 L127.68 369.72 L127.18 370.04 L126.68 370.29 L126.18 368.14 L125.68 369.94 L125.18 368.89 L124.68 366.21 L124.18 366.35 L123.68 365.32 L123.18 365.2 L122.68 366.65 L122.18 366.46 L121.68 366.21 L121.18 366.41 L120.68 366.31 L120.18 366.36 L119.68 365.86 L119.18 366.41 L118.68 366.4 L118.17 366.72 L117.67 368.6 L117.17 371.14 L116.67 369.38 L116.17 370.1 L115.67 369.08 L115.17 369.36 L114.67 367.95 L114.17 366.97 L113.67 369.95 L113.17 368.46 L112.67 370.1 L112.17 368.3 L111.67 368.91 L111.17 370.25 L110.67 371.45 L110.17 369.61 L109.67 370.47 L109.17 370.33 L108.67 370.56 L108.17 370.11 L107.66 369.09 L107.16 368.15 L106.66 367.98 L106.16 369.22 L105.66 367.45 L105.16 367.39 L104.66 365.9 L104.16 366.36 L103.66 366.39 L103.16 365.38 L102.66 364.6 L102.16 365.38 L101.66 363.71 L101.16 365.73 L100.66 363.86 L100.16 363.75 L99.66 364.3 L99.16 364.59 L98.66 364.16 L98.16 364.8 L97.66 364.18 L97.15 363.6 L96.65 366.11 L96.15 367.44 L95.65 365.06 L95.15 366.9 L94.65 368.32 L94.15 368.12 L93.65 368.61 L93.15 365.8 L92.65 363.73 L92.15 365.46 L91.65 364.35 L91.15 363.45 L90.65 363.85 L90.15 363.99 L89.65 365.52 L89.15 365.84 L88.65 366.84 L88.15 366.09 L87.65 365.74 L87.15 369.77 L86.65 369.5 L86.14 368.37 L85.64 368.83 L85.14 367.98 L84.64 369.12 L84.14 368.46 L83.64 369.49 L83.14 366.11 L82.64 366.39 L82.14 366 L81.64 365.79 L81.14 366.54 L80.64 367.4 L80.14 366.64 L79.64 367.82 L79.14 365.81 L78.64 366.27 L78.14 366.25 L77.64 366.25 L77.14 364.99 L76.64 365.74 L76.14 365.42 L75.63 365.46 L75.13 366.5 L74.63 368.43 L74.13 371.01 L73.63 370.02 L73.13 368.42 L72.63 370 L72.13 367.53 L71.63 367.12 L71.13 369.73 L70.63 367.5 L70.13 366.82 L69.63 367.76 L69.13 369.48 L68.63 370.57 L68.13 370.04 L67.63 368.17 L67.13 367.31 L66.63 368.34 L66.13 367.52 L65.63 366.15 L65.12 365.38 L64.62 365.43 L64.12 364.81 L63.62 366.67 L63.12 367.11 L62.62 367.57 L62.12 369.18 L61.62 368.55 L61.12 366.98 L60.62 365.81 L60.12 364.78 L59.62 365.54 L59.12 364.28 L58.62 364.91 L58.12 367.91 L57.62 367.14 L57.12 367.7 L56.62 370.22 L56.12 365.68 L55.62 365.37 L55.12 365.15 L54.62 365.27 L54.11 364.08 L53.61 366.05 L53.11 364.49 L52.61 366.11 L52.11 365.13 L51.61 365.86 L51.11 365.09 L50.61 364.98 L50.11 365.78 L49.61 363.96 L49.11 364.11 L48.61 364.47 L48.11 364.92 L47.61 364.11 L47.11 365.95 L46.61 368.59 L46.11 368.41 L45.61 367.04 L45.11 366.53 L44.61 366.84 L44.11 370.07 L43.6 366.07 L43.1 365.49 L42.6 366.57 L42.1 364.85 L41.6 365.89 L41.1 365.17 L40.6 364.95 L40.1 365.13 L39.6 367.26 L39.1 368.08 L38.6 368.13Z" fill="#0a46ff" stroke="#0a46ff" stroke-width="0.4" stroke-linejoin="round"/>
<line x1="188.5" y1="360" x2="188.5" y2="393.4" stroke="#0a46ff" stroke-width="1.15"/>
<line x1="209.8" y1="360" x2="209.8" y2="383" stroke="#0a46ff" stroke-width="1.15"/>
<line x1="217.7" y1="360" x2="217.7" y2="393.4" stroke="#0a46ff" stroke-width="1.15"/>
<line x1="222.5" y1="360" x2="222.5" y2="397.5" stroke="#0a46ff" stroke-width="1.15"/>
<line x1="274.6" y1="360" x2="274.6" y2="378" stroke="#0a46ff" stroke-width="1.15"/>
<line x1="286" y1="360" x2="286" y2="371.5" stroke="#0a46ff" stroke-width="1.15"/>
<line x1="314.5" y1="360" x2="314.5" y2="377" stroke="#0a46ff" stroke-width="1.15"/>
<line x1="323" y1="360" x2="323" y2="376" stroke="#0a46ff" stroke-width="1.15"/>
<line x1="328" y1="360" x2="328" y2="379.5" stroke="#0a46ff" stroke-width="1.15"/>
<line x1="332.5" y1="360" x2="332.5" y2="384.5" stroke="#0a46ff" stroke-width="1.15"/>
<line x1="340.7" y1="360" x2="340.7" y2="385.5" stroke="#0a46ff" stroke-width="1.15"/>
<line x1="386" y1="360" x2="386" y2="375.5" stroke="#0a46ff" stroke-width="1.15"/>
<line x1="397" y1="360" x2="397" y2="376" stroke="#0a46ff" stroke-width="1.15"/>
<line x1="401" y1="360" x2="401" y2="377" stroke="#0a46ff" stroke-width="1.15"/>
<line x1="404.5" y1="360" x2="404.5" y2="375" stroke="#0a46ff" stroke-width="1.15"/>
<line x1="413" y1="360" x2="413" y2="376.5" stroke="#0a46ff" stroke-width="1.15"/>
<line x1="424.5" y1="360" x2="424.5" y2="378" stroke="#0a46ff" stroke-width="1.15"/>
<line x1="427.5" y1="360" x2="427.5" y2="379" stroke="#0a46ff" stroke-width="1.15"/>
<line x1="431" y1="360" x2="431" y2="377.5" stroke="#0a46ff" stroke-width="1.15"/>
<line x1="437" y1="360" x2="437" y2="376" stroke="#0a46ff" stroke-width="1.15"/>
<line x1="441" y1="360" x2="441" y2="385" stroke="#0a46ff" stroke-width="1.15"/>
<line x1="444.6" y1="360" x2="444.6" y2="391" stroke="#0a46ff" stroke-width="1.15"/>
<line x1="450" y1="360" x2="450" y2="376" stroke="#0a46ff" stroke-width="1.15"/>
<line x1="455" y1="360" x2="455" y2="378" stroke="#0a46ff" stroke-width="1.15"/>
<line x1="459" y1="360" x2="459" y2="377" stroke="#0a46ff" stroke-width="1.15"/>
<line x1="464" y1="360" x2="464" y2="384" stroke="#0a46ff" stroke-width="1.15"/>
<line x1="38.6" y1="356.2" x2="465" y2="356.2" stroke="#c8d4ff" stroke-width="0.8" stroke-dasharray="2.5 1.3" stroke-opacity="0.35"/>
</g>
<path d="M95.51 341.2 L103.51 341.2M96.69 338.37 L102.34 344.03M99.51 337.2 L99.51 345.2M102.34 338.37 L96.69 344.03" stroke="#000" stroke-width="1.55" fill="none"/>
<circle cx="99.51" cy="341.2" r="1.9" fill="#000"/>
<path d="M156.43 341.2 L164.43 341.2M157.6 338.37 L163.26 344.03M160.43 337.2 L160.43 345.2M163.26 338.37 L157.6 344.03" stroke="#000" stroke-width="1.55" fill="none"/>
<circle cx="160.43" cy="341.2" r="1.9" fill="#000"/>
<path d="M217.34 341.2 L225.34 341.2M218.51 338.37 L224.17 344.03M221.34 337.2 L221.34 345.2M224.17 338.37 L218.51 344.03" stroke="#000" stroke-width="1.55" fill="none"/>
<circle cx="221.34" cy="341.2" r="1.9" fill="#000"/>
<path d="M278.26 341.2 L286.26 341.2M279.43 338.37 L285.09 344.03M282.26 337.2 L282.26 345.2M285.09 338.37 L279.43 344.03" stroke="#000" stroke-width="1.55" fill="none"/>
<circle cx="282.26" cy="341.2" r="1.9" fill="#000"/>
<path d="M339.17 341.2 L347.17 341.2M340.34 338.37 L346 344.03M343.17 337.2 L343.17 345.2M346 338.37 L340.34 344.03" stroke="#000" stroke-width="1.55" fill="none"/>
<circle cx="343.17" cy="341.2" r="1.9" fill="#000"/>
<path d="M400.09 341.2 L408.09 341.2M401.26 338.37 L406.91 344.03M404.09 337.2 L404.09 345.2M406.91 338.37 L401.26 344.03" stroke="#000" stroke-width="1.55" fill="none"/>
<circle cx="404.09" cy="341.2" r="1.9" fill="#000"/>
<path d="M49.9 299.1 L57.9 299.1M51.07 296.27 L56.73 301.93M53.9 295.1 L53.9 303.1M56.73 296.27 L51.07 301.93" stroke="#000" stroke-width="1.55" fill="none"/>
<circle cx="53.9" cy="299.1" r="1.9" fill="#000"/>
<text x="61.8" y="302.4" font-size="9.5" text-anchor="start" fill="#111">Changing solution</text>
<rect x="38.6" y="286.4" width="426.4" height="139.6" fill="none" stroke="#000" stroke-width="1.2"/>
<line x1="38.6" y1="426" x2="38.6" y2="423" stroke="#000" stroke-width="1.1"/>
<text x="38.6" y="437" font-size="9.5" text-anchor="middle" fill="#262626">0</text>
<line x1="69.06" y1="426" x2="69.06" y2="424.2" stroke="#000" stroke-width="1.1"/>
<line x1="99.51" y1="426" x2="99.51" y2="423" stroke="#000" stroke-width="1.1"/>
<text x="99.51" y="437" font-size="9.5" text-anchor="middle" fill="#262626">1</text>
<line x1="129.97" y1="426" x2="129.97" y2="424.2" stroke="#000" stroke-width="1.1"/>
<line x1="160.43" y1="426" x2="160.43" y2="423" stroke="#000" stroke-width="1.1"/>
<text x="160.43" y="437" font-size="9.5" text-anchor="middle" fill="#262626">2</text>
<line x1="190.89" y1="426" x2="190.89" y2="424.2" stroke="#000" stroke-width="1.1"/>
<line x1="221.34" y1="426" x2="221.34" y2="423" stroke="#000" stroke-width="1.1"/>
<text x="221.34" y="437" font-size="9.5" text-anchor="middle" fill="#262626">3</text>
<line x1="251.8" y1="426" x2="251.8" y2="424.2" stroke="#000" stroke-width="1.1"/>
<line x1="282.26" y1="426" x2="282.26" y2="423" stroke="#000" stroke-width="1.1"/>
<text x="282.26" y="437" font-size="9.5" text-anchor="middle" fill="#262626">4</text>
<line x1="312.71" y1="426" x2="312.71" y2="424.2" stroke="#000" stroke-width="1.1"/>
<line x1="343.17" y1="426" x2="343.17" y2="423" stroke="#000" stroke-width="1.1"/>
<text x="343.17" y="437" font-size="9.5" text-anchor="middle" fill="#262626">5</text>
<line x1="373.63" y1="426" x2="373.63" y2="424.2" stroke="#000" stroke-width="1.1"/>
<line x1="404.09" y1="426" x2="404.09" y2="423" stroke="#000" stroke-width="1.1"/>
<text x="404.09" y="437" font-size="9.5" text-anchor="middle" fill="#262626">6</text>
<line x1="434.54" y1="426" x2="434.54" y2="424.2" stroke="#000" stroke-width="1.1"/>
<line x1="465" y1="426" x2="465" y2="423" stroke="#000" stroke-width="1.1"/>
<text x="465" y="437" font-size="9.5" text-anchor="middle" fill="#262626">7</text>
<line x1="38.6" y1="426" x2="41.6" y2="426" stroke="#000" stroke-width="1.1"/>
<text x="35" y="429.7" font-size="9.5" text-anchor="end" fill="#262626">16</text>
<line x1="38.6" y1="402.73" x2="40.4" y2="402.73" stroke="#000" stroke-width="1.1"/>
<line x1="38.6" y1="379.47" x2="41.6" y2="379.47" stroke="#000" stroke-width="1.1"/>
<text x="35" y="383.17" font-size="9.5" text-anchor="end" fill="#262626">20</text>
<line x1="38.6" y1="356.2" x2="40.4" y2="356.2" stroke="#000" stroke-width="1.1"/>
<line x1="38.6" y1="332.93" x2="41.6" y2="332.93" stroke="#000" stroke-width="1.1"/>
<text x="35" y="336.63" font-size="9.5" text-anchor="end" fill="#262626">24</text>
<line x1="38.6" y1="309.67" x2="40.4" y2="309.67" stroke="#000" stroke-width="1.1"/>
<line x1="38.6" y1="286.4" x2="41.6" y2="286.4" stroke="#000" stroke-width="1.1"/>
<text x="35" y="290.1" font-size="9.5" text-anchor="end" fill="#262626">28</text>
<text x="252.1" y="451.1" font-size="11" text-anchor="middle" font-weight="bold" fill="#111">Time (Days)</text>
<text x="15.2" y="357.2" font-size="11" text-anchor="middle" font-weight="bold" fill="#111" transform="rotate(-90 15.2 357.2)">Current density (mA/cm<tspan font-size="60%" dy="-0.5em">2</tspan><tspan dy="0.30em">)</tspan></text>
</g>
<g id="panel-d">
<text x="-0.1" y="468.5" font-size="13.5" text-anchor="start" font-weight="bold" fill="#111">d</text>
<rect x="42" y="484.8" width="140.3" height="139.4" fill="#cfe7c6"/>
<rect x="182.3" y="484.8" width="46" height="139.4" fill="#c8c8c8"/>
<line x1="42" y1="564.3" x2="182.3" y2="564.3" stroke="#9b9b9b" stroke-width="1.1" stroke-dasharray="3 2.3"/>
<line x1="182.3" y1="564.3" x2="228.3" y2="564.3" stroke="#000" stroke-width="1.2"/>
<path d="M42 558.72 L44.05 558.72 L48.14 558.72 L54.28 558.72 L62.46 558.72 L68.89 558.71 L73.57 558.68 L76.49 558.63 L77.66 558.57 L78.83 558.47 L80 558.33 L81.17 558.15 L82.34 557.93 L83.51 557.65 L84.67 557.31 L85.84 556.9 L87.01 556.43 L88.05 555.9 L88.94 555.29 L89.7 554.61 L90.33 553.86 L90.93 553.03 L91.51 552.11 L92.08 551.1 L92.62 550 L93.19 548.86 L93.77 547.66 L94.38 546.42 L95 545.12 L95.63 543.8 L96.25 542.46 L96.87 541.09 L97.5 539.69 L98.12 538.32 L98.74 536.98 L99.37 535.66 L99.99 534.36 L100.59 533.17 L101.18 532.07 L101.74 531.08 L102.29 530.18 L102.86 529.32 L103.44 528.5 L104.04 527.71 L104.67 526.97 L105.29 526.29 L105.91 525.68 L106.54 525.14 L107.16 524.67 L107.86 524.27 L108.64 523.92 L109.5 523.63 L110.44 523.4 L111.37 523.19 L112.31 523 L113.24 522.83 L114.18 522.68 L115.79 522.49 L118.09 522.27 L121.07 522.01 L124.74 521.71 L128.79 521.42 L133.23 521.15 L138.07 520.89 L143.29 520.64 L148.37 520.41 L153.32 520.2 L158.14 520.01 L162.81 519.84 L167.1 519.7 L171 519.57 L174.51 519.47 L177.62 519.39 L179.96 519.33 L181.52 519.29 L182.3 519.27" stroke="#000" stroke-width="1.5" fill="none" stroke-linejoin="round"/>
<path d="M42 603.35 L44.05 603.35 L48.14 603.35 L54.28 603.35 L62.46 603.35 L68.89 603.34 L73.57 603.31 L76.49 603.26 L77.66 603.2 L78.83 603.1 L80 602.96 L81.17 602.79 L82.34 602.57 L83.51 602.28 L84.67 601.94 L85.84 601.53 L87.01 601.07 L88.05 600.53 L88.94 599.92 L89.7 599.24 L90.33 598.5 L90.93 597.66 L91.51 596.74 L92.08 595.73 L92.62 594.64 L93.19 593.49 L93.77 592.29 L94.38 591.05 L95 589.75 L95.63 588.43 L96.25 587.09 L96.87 585.72 L97.5 584.32 L98.12 582.95 L98.74 581.61 L99.37 580.29 L99.99 578.99 L100.59 577.8 L101.18 576.7 L101.74 575.71 L102.29 574.81 L102.86 573.95 L103.44 573.13 L104.04 572.34 L104.67 571.6 L105.29 570.92 L105.91 570.31 L106.54 569.77 L107.16 569.31 L107.86 568.9 L108.64 568.55 L109.5 568.26 L110.44 568.03 L111.37 567.82 L112.31 567.63 L113.24 567.46 L114.18 567.31 L115.79 567.13 L118.09 566.9 L121.07 566.64 L124.74 566.34 L128.79 566.06 L133.23 565.78 L138.07 565.52 L143.29 565.27 L148.37 565.04 L153.32 564.83 L158.14 564.64 L162.81 564.47 L167.1 564.33 L171 564.2 L174.51 564.1 L177.62 564.02 L179.96 563.96 L181.52 563.92 L182.3 563.9" stroke="#000" stroke-width="1.5" fill="none" stroke-linejoin="round"/>
<path d="M42 614.3 L44.31 614.3 L48.94 614.3 L55.88 614.3 L65.12 614.3 L72.38 614.22 L77.62 614.06 L80.88 613.81 L82.12 613.49 L83.28 613.08 L84.34 612.59 L85.31 612.03 L86.19 611.38 L87.08 610.42 L87.98 609.17 L88.91 607.62 L89.84 605.78 L90.78 603.58 L91.72 601.02 L92.66 598.12 L93.59 594.88 L94.53 591.34 L95.47 587.53 L96.41 583.44 L97.34 579.06 L98.22 575.27 L99.05 572.06 L99.82 569.42 L100.53 567.38 L101.34 564.94 L102.25 562.13 L103.25 558.94 L104.35 555.36 L105.38 552.34 L106.32 549.88 L107.2 547.97 L108 546.62 L108.88 545.47 L109.84 544.51 L110.89 543.74 L112.01 543.16 L113.31 542.65 L114.79 542.2 L116.44 541.81 L118.26 541.49 L120.19 541.16 L122.23 540.84 L124.38 540.51 L126.62 540.19 L129.56 539.78 L133.19 539.28 L137.5 538.69 L142.5 538.01 L147.19 537.44 L151.56 536.98 L155.62 536.62 L159.38 536.38 L163.27 536.16 L167.31 535.99 L171.49 535.85 L175.81 535.75 L179.06 535.68 L181.22 535.62 L182.3 535.6" stroke="#ff0a0a" stroke-width="1.5" fill="none" stroke-dasharray="3 2.3" stroke-linejoin="round"/>
<line x1="42" y1="484.8" x2="228.3" y2="484.8" stroke="#000" stroke-width="1.1"/>
<line x1="42" y1="624.2" x2="224.9" y2="624.2" stroke="#000" stroke-width="1.2"/>
<line x1="42" y1="484.4" x2="42" y2="624.8" stroke="#000" stroke-width="1.2"/>
<line x1="182.3" y1="484.8" x2="182.3" y2="624.2" stroke="#000" stroke-width="1.3"/>
<line x1="228.3" y1="484.4" x2="228.3" y2="624.6" stroke="#ff0a0a" stroke-width="1.3"/>
<line x1="224.7" y1="624.2" x2="228.3" y2="624.2" stroke="#ff0a0a" stroke-width="1"/>
<line x1="225.9" y1="615.81" x2="228.3" y2="615.81" stroke="#ff0a0a" stroke-width="0.6"/>
<line x1="226.6" y1="610.9" x2="228.3" y2="610.9" stroke="#ff0a0a" stroke-width="0.6"/>
<line x1="226.6" y1="607.41" x2="228.3" y2="607.41" stroke="#ff0a0a" stroke-width="0.6"/>
<line x1="226.6" y1="604.71" x2="228.3" y2="604.71" stroke="#ff0a0a" stroke-width="0.6"/>
<line x1="226.6" y1="602.51" x2="228.3" y2="602.51" stroke="#ff0a0a" stroke-width="0.6"/>
<line x1="226.6" y1="600.64" x2="228.3" y2="600.64" stroke="#ff0a0a" stroke-width="0.6"/>
<line x1="226.6" y1="599.02" x2="228.3" y2="599.02" stroke="#ff0a0a" stroke-width="0.6"/>
<line x1="226.6" y1="597.6" x2="228.3" y2="597.6" stroke="#ff0a0a" stroke-width="0.6"/>
<line x1="224.7" y1="596.32" x2="228.3" y2="596.32" stroke="#ff0a0a" stroke-width="1"/>
<line x1="225.9" y1="587.93" x2="228.3" y2="587.93" stroke="#ff0a0a" stroke-width="0.6"/>
<line x1="226.6" y1="583.02" x2="228.3" y2="583.02" stroke="#ff0a0a" stroke-width="0.6"/>
<line x1="226.6" y1="579.53" x2="228.3" y2="579.53" stroke="#ff0a0a" stroke-width="0.6"/>
<line x1="226.6" y1="576.83" x2="228.3" y2="576.83" stroke="#ff0a0a" stroke-width="0.6"/>
<line x1="226.6" y1="574.63" x2="228.3" y2="574.63" stroke="#ff0a0a" stroke-width="0.6"/>
<line x1="226.6" y1="572.76" x2="228.3" y2="572.76" stroke="#ff0a0a" stroke-width="0.6"/>
<line x1="226.6" y1="571.14" x2="228.3" y2="571.14" stroke="#ff0a0a" stroke-width="0.6"/>
<line x1="226.6" y1="569.72" x2="228.3" y2="569.72" stroke="#ff0a0a" stroke-width="0.6"/>
<line x1="224.7" y1="568.44" x2="228.3" y2="568.44" stroke="#ff0a0a" stroke-width="1"/>
<line x1="225.9" y1="560.05" x2="228.3" y2="560.05" stroke="#ff0a0a" stroke-width="0.6"/>
<line x1="226.6" y1="555.14" x2="228.3" y2="555.14" stroke="#ff0a0a" stroke-width="0.6"/>
<line x1="226.6" y1="551.65" x2="228.3" y2="551.65" stroke="#ff0a0a" stroke-width="0.6"/>
<line x1="226.6" y1="548.95" x2="228.3" y2="548.95" stroke="#ff0a0a" stroke-width="0.6"/>
<line x1="226.6" y1="546.75" x2="228.3" y2="546.75" stroke="#ff0a0a" stroke-width="0.6"/>
<line x1="226.6" y1="544.88" x2="228.3" y2="544.88" stroke="#ff0a0a" stroke-width="0.6"/>
<line x1="226.6" y1="543.26" x2="228.3" y2="543.26" stroke="#ff0a0a" stroke-width="0.6"/>
<line x1="226.6" y1="541.84" x2="228.3" y2="541.84" stroke="#ff0a0a" stroke-width="0.6"/>
<line x1="224.7" y1="540.56" x2="228.3" y2="540.56" stroke="#ff0a0a" stroke-width="1"/>
<line x1="225.9" y1="532.17" x2="228.3" y2="532.17" stroke="#ff0a0a" stroke-width="0.6"/>
<line x1="226.6" y1="527.26" x2="228.3" y2="527.26" stroke="#ff0a0a" stroke-width="0.6"/>
<line x1="226.6" y1="523.77" x2="228.3" y2="523.77" stroke="#ff0a0a" stroke-width="0.6"/>
<line x1="226.6" y1="521.07" x2="228.3" y2="521.07" stroke="#ff0a0a" stroke-width="0.6"/>
<line x1="226.6" y1="518.87" x2="228.3" y2="518.87" stroke="#ff0a0a" stroke-width="0.6"/>
<line x1="226.6" y1="517" x2="228.3" y2="517" stroke="#ff0a0a" stroke-width="0.6"/>
<line x1="226.6" y1="515.38" x2="228.3" y2="515.38" stroke="#ff0a0a" stroke-width="0.6"/>
<line x1="226.6" y1="513.96" x2="228.3" y2="513.96" stroke="#ff0a0a" stroke-width="0.6"/>
<line x1="224.7" y1="512.68" x2="228.3" y2="512.68" stroke="#ff0a0a" stroke-width="1"/>
<line x1="225.9" y1="504.29" x2="228.3" y2="504.29" stroke="#ff0a0a" stroke-width="0.6"/>
<line x1="226.6" y1="499.38" x2="228.3" y2="499.38" stroke="#ff0a0a" stroke-width="0.6"/>
<line x1="226.6" y1="495.89" x2="228.3" y2="495.89" stroke="#ff0a0a" stroke-width="0.6"/>
<line x1="226.6" y1="493.19" x2="228.3" y2="493.19" stroke="#ff0a0a" stroke-width="0.6"/>
<line x1="226.6" y1="490.99" x2="228.3" y2="490.99" stroke="#ff0a0a" stroke-width="0.6"/>
<line x1="226.6" y1="489.12" x2="228.3" y2="489.12" stroke="#ff0a0a" stroke-width="0.6"/>
<line x1="226.6" y1="487.5" x2="228.3" y2="487.5" stroke="#ff0a0a" stroke-width="0.6"/>
<line x1="226.6" y1="486.08" x2="228.3" y2="486.08" stroke="#ff0a0a" stroke-width="0.6"/>
<line x1="224.7" y1="484.8" x2="228.3" y2="484.8" stroke="#ff0a0a" stroke-width="1"/>
<text x="182.3" y="634.6" font-size="9.5" text-anchor="middle" fill="#262626">0</text>
<line x1="166.71" y1="624.2" x2="166.71" y2="622.4" stroke="#000" stroke-width="1.1"/>
<line x1="151.12" y1="624.2" x2="151.12" y2="621.2" stroke="#000" stroke-width="1.1"/>
<text x="151.12" y="634.6" font-size="9.5" text-anchor="middle" fill="#262626">100</text>
<line x1="135.53" y1="624.2" x2="135.53" y2="622.4" stroke="#000" stroke-width="1.1"/>
<line x1="119.94" y1="624.2" x2="119.94" y2="621.2" stroke="#000" stroke-width="1.1"/>
<text x="119.94" y="634.6" font-size="9.5" text-anchor="middle" fill="#262626">200</text>
<line x1="104.36" y1="624.2" x2="104.36" y2="622.4" stroke="#000" stroke-width="1.1"/>
<line x1="88.77" y1="624.2" x2="88.77" y2="621.2" stroke="#000" stroke-width="1.1"/>
<text x="88.77" y="634.6" font-size="9.5" text-anchor="middle" fill="#262626">300</text>
<line x1="73.18" y1="624.2" x2="73.18" y2="622.4" stroke="#000" stroke-width="1.1"/>
<line x1="57.59" y1="624.2" x2="57.59" y2="621.2" stroke="#000" stroke-width="1.1"/>
<text x="57.59" y="634.6" font-size="9.5" text-anchor="middle" fill="#262626">400</text>
<line x1="42" y1="484.6" x2="45.4" y2="484.6" stroke="#000" stroke-width="1.1"/>
<line x1="42" y1="504.52" x2="45.4" y2="504.52" stroke="#000" stroke-width="1.1"/>
<line x1="42" y1="524.45" x2="45.4" y2="524.45" stroke="#000" stroke-width="1.1"/>
<line x1="42" y1="544.38" x2="45.4" y2="544.38" stroke="#000" stroke-width="1.1"/>
<line x1="42" y1="564.3" x2="45.4" y2="564.3" stroke="#000" stroke-width="1.1"/>
<line x1="42" y1="584.22" x2="45.4" y2="584.22" stroke="#000" stroke-width="1.1"/>
<line x1="42" y1="604.15" x2="45.4" y2="604.15" stroke="#000" stroke-width="1.1"/>
<line x1="42" y1="624.07" x2="45.4" y2="624.07" stroke="#000" stroke-width="1.1"/>
<line x1="42" y1="494.56" x2="44.2" y2="494.56" stroke="#000" stroke-width="1.1"/>
<line x1="42" y1="514.49" x2="44.2" y2="514.49" stroke="#000" stroke-width="1.1"/>
<line x1="42" y1="534.41" x2="44.2" y2="534.41" stroke="#000" stroke-width="1.1"/>
<line x1="42" y1="554.34" x2="44.2" y2="554.34" stroke="#000" stroke-width="1.1"/>
<line x1="42" y1="574.26" x2="44.2" y2="574.26" stroke="#000" stroke-width="1.1"/>
<line x1="42" y1="594.19" x2="44.2" y2="594.19" stroke="#000" stroke-width="1.1"/>
<line x1="42" y1="614.11" x2="44.2" y2="614.11" stroke="#000" stroke-width="1.1"/>
<text x="39.4" y="488.3" font-size="9.5" text-anchor="end" fill="#262626">2.0</text>
<text x="39.4" y="508.22" font-size="9.5" text-anchor="end" fill="#262626">1.5</text>
<text x="39.4" y="528.15" font-size="9.5" text-anchor="end" fill="#262626">1.0</text>
<text x="39.4" y="548.08" font-size="9.5" text-anchor="end" fill="#262626">0.5</text>
<text x="39.4" y="568" font-size="9.5" text-anchor="end" fill="#262626">0</text>
<text x="39.4" y="587.92" font-size="9.5" text-anchor="end" fill="#262626">-0.5</text>
<text x="39.4" y="607.85" font-size="9.5" text-anchor="end" fill="#262626">-1.0</text>
<text x="39.4" y="627.77" font-size="9.5" text-anchor="end" fill="#262626">-1.5</text>
<text x="50.6" y="502.1" font-size="10.9" text-anchor="start" font-weight="bold" fill="#111">Model 4 (R = 0 nm)</text>
<text x="47.9" y="553.8" font-size="10" text-anchor="start" fill="#111">E<tspan font-size="56%" dy="0.05em">c</tspan></text>
<text x="47.9" y="575.5" font-size="10" text-anchor="start" fill="#8f8f8f">E<tspan font-size="46%" dy="0.05em">F</tspan></text>
<text x="47.9" y="598.9" font-size="10" text-anchor="start" fill="#111">E<tspan font-size="56%" dy="0.05em">v</tspan></text>
<text x="157.4" y="549.3" font-size="9.6" text-anchor="start" fill="#ff0a0a">10<tspan font-size="57%" dy="-0.62em">18.9</tspan></text>
<line x1="97" y1="614.3" x2="107.5" y2="614.3" stroke="#ff0a0a" stroke-width="1.3"/>
<path d="M112 614.3 L106 616.7 L107.6 614.3 L106 611.9Z" fill="#ff0a0a"/>
<text x="112.15" y="480.5" font-size="9.5" text-anchor="middle" fill="#111">Si</text>
<text x="135.15" y="649.3" font-size="11" text-anchor="middle" font-weight="bold" fill="#111">Depth (nm)</text>
<text x="205.3" y="480.5" font-size="9.5" text-anchor="middle" fill="#111">Ni</text>
<text x="218.6" y="576.3" font-size="9.5" text-anchor="middle" fill="#111">Ni</text>
<rect x="251.9" y="484.8" width="139.6" height="139.4" fill="#cfe7c6"/>
<rect x="391.5" y="484.8" width="28" height="139.4" fill="#fff5d9"/>
<rect x="419.5" y="484.8" width="19" height="139.4" fill="#c8c8c8"/>
<line x1="251.9" y1="564.3" x2="419.5" y2="564.3" stroke="#9b9b9b" stroke-width="1.1" stroke-dasharray="3 2.3"/>
<line x1="419.5" y1="564.3" x2="438.5" y2="564.3" stroke="#000" stroke-width="1.2"/>
<path d="M251.9 558.6 L285.4 558.52 L290.5 558.04 L295 557.13 L298.3 554.94 L301.4 551.43 L308.9 536.4 L313.5 529.63 L317.5 524.85 L319.8 523.25 L322.9 522.46 L335.7 520.98 L357.1 519.95 L391.5 519.31" stroke="#000" stroke-width="1.5" fill="none" stroke-linejoin="round"/>
<path d="M251.9 603.23 L285.4 603.15 L290.5 602.68 L295 601.76 L298.3 599.57 L301.4 596.06 L308.9 581.04 L313.5 574.26 L317.5 569.48 L319.8 567.89 L322.9 567.09 L335.7 565.62 L357.1 564.58 L391.5 563.94" stroke="#000" stroke-width="1.5" fill="none" stroke-linejoin="round"/>
<path d="M251.9 614.3 L285.4 614.2 L291 613.3 L295 611.4 L297.6 608 L299.7 602.9 L303.6 585.7 L311.1 564.3 L314.3 551.4 L315.8 547.6 L317.5 545 L319.8 543 L322.9 541.8 L335.7 539.6 L357.1 537.5 L391.5 535.9" stroke="#ff0a0a" stroke-width="1.5" fill="none" stroke-dasharray="3 2.3" stroke-linejoin="round"/>
<line x1="251.9" y1="484.8" x2="438.5" y2="484.8" stroke="#000" stroke-width="1.1"/>
<line x1="251.9" y1="624.2" x2="435.1" y2="624.2" stroke="#000" stroke-width="1.2"/>
<line x1="251.9" y1="484.4" x2="251.9" y2="624.8" stroke="#000" stroke-width="1.2"/>
<line x1="391.5" y1="484.8" x2="391.5" y2="624.2" stroke="#000" stroke-width="1.3"/>
<line x1="419.5" y1="484.8" x2="419.5" y2="624.2" stroke="#000" stroke-width="1.1"/>
<line x1="438.5" y1="484.4" x2="438.5" y2="624.6" stroke="#ff0a0a" stroke-width="1.3"/>
<line x1="434.9" y1="624.2" x2="438.5" y2="624.2" stroke="#ff0a0a" stroke-width="1"/>
<line x1="436.1" y1="615.81" x2="438.5" y2="615.81" stroke="#ff0a0a" stroke-width="0.6"/>
<line x1="436.8" y1="610.9" x2="438.5" y2="610.9" stroke="#ff0a0a" stroke-width="0.6"/>
<line x1="436.8" y1="607.41" x2="438.5" y2="607.41" stroke="#ff0a0a" stroke-width="0.6"/>
<line x1="436.8" y1="604.71" x2="438.5" y2="604.71" stroke="#ff0a0a" stroke-width="0.6"/>
<line x1="436.8" y1="602.51" x2="438.5" y2="602.51" stroke="#ff0a0a" stroke-width="0.6"/>
<line x1="436.8" y1="600.64" x2="438.5" y2="600.64" stroke="#ff0a0a" stroke-width="0.6"/>
<line x1="436.8" y1="599.02" x2="438.5" y2="599.02" stroke="#ff0a0a" stroke-width="0.6"/>
<line x1="436.8" y1="597.6" x2="438.5" y2="597.6" stroke="#ff0a0a" stroke-width="0.6"/>
<line x1="434.9" y1="596.32" x2="438.5" y2="596.32" stroke="#ff0a0a" stroke-width="1"/>
<line x1="436.1" y1="587.93" x2="438.5" y2="587.93" stroke="#ff0a0a" stroke-width="0.6"/>
<line x1="436.8" y1="583.02" x2="438.5" y2="583.02" stroke="#ff0a0a" stroke-width="0.6"/>
<line x1="436.8" y1="579.53" x2="438.5" y2="579.53" stroke="#ff0a0a" stroke-width="0.6"/>
<line x1="436.8" y1="576.83" x2="438.5" y2="576.83" stroke="#ff0a0a" stroke-width="0.6"/>
<line x1="436.8" y1="574.63" x2="438.5" y2="574.63" stroke="#ff0a0a" stroke-width="0.6"/>
<line x1="436.8" y1="572.76" x2="438.5" y2="572.76" stroke="#ff0a0a" stroke-width="0.6"/>
<line x1="436.8" y1="571.14" x2="438.5" y2="571.14" stroke="#ff0a0a" stroke-width="0.6"/>
<line x1="436.8" y1="569.72" x2="438.5" y2="569.72" stroke="#ff0a0a" stroke-width="0.6"/>
<line x1="434.9" y1="568.44" x2="438.5" y2="568.44" stroke="#ff0a0a" stroke-width="1"/>
<line x1="436.1" y1="560.05" x2="438.5" y2="560.05" stroke="#ff0a0a" stroke-width="0.6"/>
<line x1="436.8" y1="555.14" x2="438.5" y2="555.14" stroke="#ff0a0a" stroke-width="0.6"/>
<line x1="436.8" y1="551.65" x2="438.5" y2="551.65" stroke="#ff0a0a" stroke-width="0.6"/>
<line x1="436.8" y1="548.95" x2="438.5" y2="548.95" stroke="#ff0a0a" stroke-width="0.6"/>
<line x1="436.8" y1="546.75" x2="438.5" y2="546.75" stroke="#ff0a0a" stroke-width="0.6"/>
<line x1="436.8" y1="544.88" x2="438.5" y2="544.88" stroke="#ff0a0a" stroke-width="0.6"/>
<line x1="436.8" y1="543.26" x2="438.5" y2="543.26" stroke="#ff0a0a" stroke-width="0.6"/>
<line x1="436.8" y1="541.84" x2="438.5" y2="541.84" stroke="#ff0a0a" stroke-width="0.6"/>
<line x1="434.9" y1="540.56" x2="438.5" y2="540.56" stroke="#ff0a0a" stroke-width="1"/>
<line x1="436.1" y1="532.17" x2="438.5" y2="532.17" stroke="#ff0a0a" stroke-width="0.6"/>
<line x1="436.8" y1="527.26" x2="438.5" y2="527.26" stroke="#ff0a0a" stroke-width="0.6"/>
<line x1="436.8" y1="523.77" x2="438.5" y2="523.77" stroke="#ff0a0a" stroke-width="0.6"/>
<line x1="436.8" y1="521.07" x2="438.5" y2="521.07" stroke="#ff0a0a" stroke-width="0.6"/>
<line x1="436.8" y1="518.87" x2="438.5" y2="518.87" stroke="#ff0a0a" stroke-width="0.6"/>
<line x1="436.8" y1="517" x2="438.5" y2="517" stroke="#ff0a0a" stroke-width="0.6"/>
<line x1="436.8" y1="515.38" x2="438.5" y2="515.38" stroke="#ff0a0a" stroke-width="0.6"/>
<line x1="436.8" y1="513.96" x2="438.5" y2="513.96" stroke="#ff0a0a" stroke-width="0.6"/>
<line x1="434.9" y1="512.68" x2="438.5" y2="512.68" stroke="#ff0a0a" stroke-width="1"/>
<line x1="436.1" y1="504.29" x2="438.5" y2="504.29" stroke="#ff0a0a" stroke-width="0.6"/>
<line x1="436.8" y1="499.38" x2="438.5" y2="499.38" stroke="#ff0a0a" stroke-width="0.6"/>
<line x1="436.8" y1="495.89" x2="438.5" y2="495.89" stroke="#ff0a0a" stroke-width="0.6"/>
<line x1="436.8" y1="493.19" x2="438.5" y2="493.19" stroke="#ff0a0a" stroke-width="0.6"/>
<line x1="436.8" y1="490.99" x2="438.5" y2="490.99" stroke="#ff0a0a" stroke-width="0.6"/>
<line x1="436.8" y1="489.12" x2="438.5" y2="489.12" stroke="#ff0a0a" stroke-width="0.6"/>
<line x1="436.8" y1="487.5" x2="438.5" y2="487.5" stroke="#ff0a0a" stroke-width="0.6"/>
<line x1="436.8" y1="486.08" x2="438.5" y2="486.08" stroke="#ff0a0a" stroke-width="0.6"/>
<line x1="434.9" y1="484.8" x2="438.5" y2="484.8" stroke="#ff0a0a" stroke-width="1"/>
<text x="391.5" y="634.6" font-size="9.5" text-anchor="middle" fill="#262626">0</text>
<line x1="375.99" y1="624.2" x2="375.99" y2="622.4" stroke="#000" stroke-width="1.1"/>
<line x1="360.48" y1="624.2" x2="360.48" y2="621.2" stroke="#000" stroke-width="1.1"/>
<text x="360.48" y="634.6" font-size="9.5" text-anchor="middle" fill="#262626">100</text>
<line x1="344.97" y1="624.2" x2="344.97" y2="622.4" stroke="#000" stroke-width="1.1"/>
<line x1="329.46" y1="624.2" x2="329.46" y2="621.2" stroke="#000" stroke-width="1.1"/>
<text x="329.46" y="634.6" font-size="9.5" text-anchor="middle" fill="#262626">200</text>
<line x1="313.94" y1="624.2" x2="313.94" y2="622.4" stroke="#000" stroke-width="1.1"/>
<line x1="298.43" y1="624.2" x2="298.43" y2="621.2" stroke="#000" stroke-width="1.1"/>
<text x="298.43" y="634.6" font-size="9.5" text-anchor="middle" fill="#262626">300</text>
<line x1="282.92" y1="624.2" x2="282.92" y2="622.4" stroke="#000" stroke-width="1.1"/>
<line x1="267.41" y1="624.2" x2="267.41" y2="621.2" stroke="#000" stroke-width="1.1"/>
<text x="267.41" y="634.6" font-size="9.5" text-anchor="middle" fill="#262626">400</text>
<line x1="251.9" y1="484.8" x2="255.3" y2="484.8" stroke="#000" stroke-width="1.1"/>
<line x1="251.9" y1="508.03" x2="255.3" y2="508.03" stroke="#000" stroke-width="1.1"/>
<line x1="251.9" y1="531.27" x2="255.3" y2="531.27" stroke="#000" stroke-width="1.1"/>
<line x1="251.9" y1="554.5" x2="255.3" y2="554.5" stroke="#000" stroke-width="1.1"/>
<line x1="251.9" y1="577.73" x2="255.3" y2="577.73" stroke="#000" stroke-width="1.1"/>
<line x1="251.9" y1="600.97" x2="255.3" y2="600.97" stroke="#000" stroke-width="1.1"/>
<line x1="251.9" y1="624.2" x2="255.3" y2="624.2" stroke="#000" stroke-width="1.1"/>
<text x="260.5" y="502.1" font-size="10.9" text-anchor="start" font-weight="bold" fill="#111">Model 4 (R = 200 nm)</text>
<text x="257.8" y="553.8" font-size="10" text-anchor="start" fill="#111">E<tspan font-size="56%" dy="0.05em">c</tspan></text>
<text x="257.8" y="575.5" font-size="10" text-anchor="start" fill="#8f8f8f">E<tspan font-size="46%" dy="0.05em">F</tspan></text>
<text x="257.8" y="598.9" font-size="10" text-anchor="start" fill="#111">E<tspan font-size="56%" dy="0.05em">v</tspan></text>
<text x="367" y="549.3" font-size="9.6" text-anchor="start" fill="#ff0a0a">10<tspan font-size="57%" dy="-0.62em">18.9</tspan></text>
<line x1="306" y1="614.3" x2="316.5" y2="614.3" stroke="#ff0a0a" stroke-width="1.3"/>
<path d="M321 614.3 L315 616.7 L316.6 614.3 L315 611.9Z" fill="#ff0a0a"/>
<text x="321.7" y="480.5" font-size="9.5" text-anchor="middle" fill="#111">Si</text>
<text x="345.2" y="649.3" font-size="11" text-anchor="middle" font-weight="bold" fill="#111">Depth (nm)</text>
<text x="406" y="480.5" font-size="9.5" text-anchor="middle" fill="#111">SiO<tspan font-size="50%" dy="0.05em">2</tspan></text>
<text x="428.9" y="480.5" font-size="9.5" text-anchor="middle" fill="#111">Ni</text>
<text x="428.9" y="576.3" font-size="9.5" text-anchor="middle" fill="#111">Ni</text>
<text x="406" y="617.6" font-size="9.5" text-anchor="middle" fill="#111">SiO<tspan font-size="50%" dy="0.05em">2</tspan></text>
<text x="441.1" y="627.8" font-size="10" text-anchor="start" fill="#ff0a0a">10<tspan font-size="60%" dy="-0.62em">0</tspan></text>
<text x="441.1" y="599.92" font-size="10" text-anchor="start" fill="#ff0a0a">10<tspan font-size="60%" dy="-0.62em">6</tspan></text>
<text x="441.1" y="572.04" font-size="10" text-anchor="start" fill="#ff0a0a">10<tspan font-size="60%" dy="-0.62em">12</tspan></text>
<text x="441.1" y="544.16" font-size="10" text-anchor="start" fill="#ff0a0a">10<tspan font-size="60%" dy="-0.62em">18</tspan></text>
<text x="441.1" y="516.28" font-size="10" text-anchor="start" fill="#ff0a0a">10<tspan font-size="60%" dy="-0.62em">24</tspan></text>
<text x="441.1" y="488.4" font-size="10" text-anchor="start" fill="#ff0a0a">10<tspan font-size="60%" dy="-0.62em">30</tspan></text>
<text x="462.6" y="554.5" font-size="11" text-anchor="middle" font-weight="bold" fill="#ff0a0a" transform="rotate(90 462.6 554.5)">Hole concentration (1/cm<tspan font-size="60%" dy="-0.5em">3</tspan><tspan dy="0.30em">)</tspan></text>
<text x="16.3" y="546.5" font-size="11" text-anchor="middle" font-weight="bold" fill="#111" transform="rotate(-90 16.3 546.5)">E versus Φ<tspan font-size="50%" dy="0.08em">M</tspan><tspan dy="-0.04em"> (eV)</tspan></text>
</g>
<g id="panel-e">
<text x="480.5" y="281.8" font-size="13.5" text-anchor="start" font-weight="bold" fill="#111">e</text>
<line x1="521.4" y1="496.4" x2="642.9" y2="474.6" stroke="#8e8e8e" stroke-width="0.55"/>
<line x1="642.9" y1="474.6" x2="687.7" y2="535" stroke="#8e8e8e" stroke-width="0.55"/>
<line x1="642.9" y1="474.6" x2="642.9" y2="307" stroke="#8e8e8e" stroke-width="0.55"/>
<line x1="533.2" y1="494.28" x2="533.2" y2="326.68" stroke="#c2c2c2" stroke-width="0.7" stroke-dasharray="4.2 3.2"/>
<line x1="576.8" y1="554.9" x2="533.2" y2="494.28" stroke="#c2c2c2" stroke-width="0.7" stroke-dasharray="4.2 3.2"/>
<line x1="557.75" y1="489.88" x2="557.75" y2="322.28" stroke="#c2c2c2" stroke-width="0.7" stroke-dasharray="4.2 3.2"/>
<line x1="601.35" y1="550.49" x2="557.75" y2="489.88" stroke="#c2c2c2" stroke-width="0.7" stroke-dasharray="4.2 3.2"/>
<line x1="582.3" y1="485.47" x2="582.3" y2="317.87" stroke="#c2c2c2" stroke-width="0.7" stroke-dasharray="4.2 3.2"/>
<line x1="625.9" y1="546.09" x2="582.3" y2="485.47" stroke="#c2c2c2" stroke-width="0.7" stroke-dasharray="4.2 3.2"/>
<line x1="606.85" y1="481.07" x2="606.85" y2="313.47" stroke="#c2c2c2" stroke-width="0.7" stroke-dasharray="4.2 3.2"/>
<line x1="650.45" y1="541.68" x2="606.85" y2="481.07" stroke="#c2c2c2" stroke-width="0.7" stroke-dasharray="4.2 3.2"/>
<line x1="631.4" y1="476.66" x2="631.4" y2="309.06" stroke="#c2c2c2" stroke-width="0.7" stroke-dasharray="4.2 3.2"/>
<line x1="675" y1="537.28" x2="631.4" y2="476.66" stroke="#c2c2c2" stroke-width="0.7" stroke-dasharray="4.2 3.2"/>
<line x1="676.5" y1="519.9" x2="676.5" y2="352.3" stroke="#c2c2c2" stroke-width="0.7" stroke-dasharray="4.2 3.2"/>
<line x1="555" y1="541.7" x2="676.5" y2="519.9" stroke="#c2c2c2" stroke-width="0.7" stroke-dasharray="4.2 3.2"/>
<line x1="665.3" y1="504.8" x2="665.3" y2="337.2" stroke="#c2c2c2" stroke-width="0.7" stroke-dasharray="4.2 3.2"/>
<line x1="543.8" y1="526.6" x2="665.3" y2="504.8" stroke="#c2c2c2" stroke-width="0.7" stroke-dasharray="4.2 3.2"/>
<line x1="654.1" y1="489.7" x2="654.1" y2="322.1" stroke="#c2c2c2" stroke-width="0.7" stroke-dasharray="4.2 3.2"/>
<line x1="532.6" y1="511.5" x2="654.1" y2="489.7" stroke="#c2c2c2" stroke-width="0.7" stroke-dasharray="4.2 3.2"/>
<path d="M521.4 468.47 L642.9 446.67 L687.7 507.07" stroke="#c2c2c2" stroke-width="0.7" fill="none" stroke-dasharray="4.2 3.2"/>
<path d="M521.4 412.6 L642.9 390.8 L687.7 451.2" stroke="#c2c2c2" stroke-width="0.7" fill="none" stroke-dasharray="4.2 3.2"/>
<path d="M521.4 356.73 L642.9 334.93 L687.7 395.33" stroke="#c2c2c2" stroke-width="0.7" fill="none" stroke-dasharray="4.2 3.2"/>
<path d="M630.64 455.61 L630.8 455.47 L675.6 515.87 L675.44 516.01Z" fill="#05a3fc" stroke="#05a3fc" stroke-width="0.7"/>
<path d="M629.52 456.53 L630.64 455.61 L675.44 516.01 L674.32 516.93Z" fill="#05a0fc" stroke="#05a0fc" stroke-width="0.7"/>
<path d="M628.4 457.35 L629.52 456.53 L674.32 516.93 L673.2 517.75Z" fill="#059bfc" stroke="#059bfc" stroke-width="0.7"/>
<path d="M627.28 458.1 L628.4 457.35 L673.2 517.75 L672.08 518.5Z" fill="#0597fc" stroke="#0597fc" stroke-width="0.7"/>
<path d="M626.16 458.79 L627.28 458.1 L672.08 518.5 L670.96 519.19Z" fill="#0593fc" stroke="#0593fc" stroke-width="0.7"/>
<path d="M625.04 459.41 L626.16 458.79 L670.96 519.19 L669.84 519.81Z" fill="#058ffc" stroke="#058ffc" stroke-width="0.7"/>
<path d="M623.92 459.98 L625.04 459.41 L669.84 519.81 L668.72 520.38Z" fill="#058cfc" stroke="#058cfc" stroke-width="0.7"/>
<path d="M622.8 460.5 L623.92 459.98 L668.72 520.38 L667.6 520.9Z" fill="#058afc" stroke="#058afc" stroke-width="0.7"/>
<path d="M621.68 460.99 L622.8 460.5 L667.6 520.9 L666.48 521.39Z" fill="#0588fc" stroke="#0588fc" stroke-width="0.7"/>
<path d="M620.56 461.44 L621.68 460.99 L666.48 521.39 L665.36 521.84Z" fill="#0586fc" stroke="#0586fc" stroke-width="0.7"/>
<path d="M619.44 461.86 L620.56 461.44 L665.36 521.84 L664.24 522.26Z" fill="#0584fc" stroke="#0584fc" stroke-width="0.7"/>
<path d="M618.32 462.25 L619.44 461.86 L664.24 522.26 L663.12 522.65Z" fill="#0582fc" stroke="#0582fc" stroke-width="0.7"/>
<path d="M617.2 462.62 L618.32 462.25 L663.12 522.65 L662 523.02Z" fill="#0581fc" stroke="#0581fc" stroke-width="0.7"/>
<path d="M616.08 462.97 L617.2 462.62 L662 523.02 L660.88 523.37Z" fill="#0580fc" stroke="#0580fc" stroke-width="0.7"/>
<path d="M614.96 463.3 L616.08 462.97 L660.88 523.37 L659.76 523.7Z" fill="#057ffc" stroke="#057ffc" stroke-width="0.7"/>
<path d="M613.84 463.61 L614.96 463.3 L659.76 523.7 L658.64 524.01Z" fill="#057efc" stroke="#057efc" stroke-width="0.7"/>
<path d="M612.72 463.91 L613.84 463.61 L658.64 524.01 L657.52 524.31Z" fill="#057dfc" stroke="#057dfc" stroke-width="0.7"/>
<path d="M611.6 464.2 L612.72 463.91 L657.52 524.31 L656.4 524.6Z" fill="#057cfc" stroke="#057cfc" stroke-width="0.7"/>
<path d="M610.48 464.48 L611.6 464.2 L656.4 524.6 L655.28 524.88Z" fill="#057cfc" stroke="#057cfc" stroke-width="0.7"/>
<path d="M609.36 464.74 L610.48 464.48 L655.28 524.88 L654.16 525.14Z" fill="#057bfc" stroke="#057bfc" stroke-width="0.7"/>
<path d="M608.24 465 L609.36 464.74 L654.16 525.14 L653.04 525.4Z" fill="#057bfc" stroke="#057bfc" stroke-width="0.7"/>
<path d="M607.12 465.26 L608.24 465 L653.04 525.4 L651.92 525.66Z" fill="#057afc" stroke="#057afc" stroke-width="0.7"/>
<path d="M606 465.5 L607.12 465.26 L651.92 525.66 L650.8 525.9Z" fill="#057afc" stroke="#057afc" stroke-width="0.7"/>
<path d="M604.88 465.74 L606 465.5 L650.8 525.9 L649.68 526.14Z" fill="#057afc" stroke="#057afc" stroke-width="0.7"/>
<path d="M603.76 465.98 L604.88 465.74 L649.68 526.14 L648.56 526.38Z" fill="#0579fc" stroke="#0579fc" stroke-width="0.7"/>
<path d="M602.64 466.21 L603.76 465.98 L648.56 526.38 L647.44 526.61Z" fill="#0579fc" stroke="#0579fc" stroke-width="0.7"/>
<path d="M601.52 466.44 L602.64 466.21 L647.44 526.61 L646.32 526.84Z" fill="#0579fc" stroke="#0579fc" stroke-width="0.7"/>
<path d="M600.4 466.66 L601.52 466.44 L646.32 526.84 L645.2 527.06Z" fill="#0579fc" stroke="#0579fc" stroke-width="0.7"/>
<path d="M599.28 466.88 L600.4 466.66 L645.2 527.06 L644.08 527.28Z" fill="#0579fc" stroke="#0579fc" stroke-width="0.7"/>
<path d="M598.16 467.1 L599.28 466.88 L644.08 527.28 L642.96 527.5Z" fill="#0578fc" stroke="#0578fc" stroke-width="0.7"/>
<path d="M597.04 467.32 L598.16 467.1 L642.96 527.5 L641.84 527.72Z" fill="#0578fc" stroke="#0578fc" stroke-width="0.7"/>
<path d="M595.92 467.53 L597.04 467.32 L641.84 527.72 L640.72 527.93Z" fill="#0578fc" stroke="#0578fc" stroke-width="0.7"/>
<path d="M594.8 467.74 L595.92 467.53 L640.72 527.93 L639.6 528.14Z" fill="#0578fc" stroke="#0578fc" stroke-width="0.7"/>
<path d="M593.68 467.96 L594.8 467.74 L639.6 528.14 L638.48 528.36Z" fill="#0578fc" stroke="#0578fc" stroke-width="0.7"/>
<path d="M592.56 468.17 L593.68 467.96 L638.48 528.36 L637.36 528.57Z" fill="#0578fc" stroke="#0578fc" stroke-width="0.7"/>
<path d="M591.44 468.38 L592.56 468.17 L637.36 528.57 L636.24 528.78Z" fill="#0578fc" stroke="#0578fc" stroke-width="0.7"/>
<path d="M590.32 468.58 L591.44 468.38 L636.24 528.78 L635.12 528.98Z" fill="#0578fc" stroke="#0578fc" stroke-width="0.7"/>
<path d="M589.2 468.79 L590.32 468.58 L635.12 528.98 L634 529.19Z" fill="#0578fc" stroke="#0578fc" stroke-width="0.7"/>
<path d="M588.08 469 L589.2 468.79 L634 529.19 L632.88 529.4Z" fill="#0578fc" stroke="#0578fc" stroke-width="0.7"/>
<path d="M586.96 469.2 L588.08 469 L632.88 529.4 L631.76 529.6Z" fill="#0578fc" stroke="#0578fc" stroke-width="0.7"/>
<path d="M585.84 469.41 L586.96 469.2 L631.76 529.6 L630.64 529.81Z" fill="#0578fc" stroke="#0578fc" stroke-width="0.7"/>
<path d="M584.72 469.61 L585.84 469.41 L630.64 529.81 L629.52 530.01Z" fill="#0578fc" stroke="#0578fc" stroke-width="0.7"/>
<path d="M583.6 469.82 L584.72 469.61 L629.52 530.01 L628.4 530.22Z" fill="#0578fc" stroke="#0578fc" stroke-width="0.7"/>
<path d="M582.48 470.02 L583.6 469.82 L628.4 530.22 L627.28 530.42Z" fill="#0578fc" stroke="#0578fc" stroke-width="0.7"/>
<path d="M581.36 470.22 L582.48 470.02 L627.28 530.42 L626.16 530.62Z" fill="#0578fc" stroke="#0578fc" stroke-width="0.7"/>
<path d="M580.24 470.43 L581.36 470.22 L626.16 530.62 L625.04 530.83Z" fill="#0578fc" stroke="#0578fc" stroke-width="0.7"/>
<path d="M579.12 470.63 L580.24 470.43 L625.04 530.83 L623.92 531.03Z" fill="#0578fc" stroke="#0578fc" stroke-width="0.7"/>
<path d="M578 470.83 L579.12 470.63 L623.92 531.03 L622.8 531.23Z" fill="#0578fc" stroke="#0578fc" stroke-width="0.7"/>
<path d="M576.88 471.04 L578 470.83 L622.8 531.23 L621.68 531.44Z" fill="#0578fc" stroke="#0578fc" stroke-width="0.7"/>
<path d="M575.76 471.24 L576.88 471.04 L621.68 531.44 L620.56 531.64Z" fill="#0578fc" stroke="#0578fc" stroke-width="0.7"/>
<path d="M574.64 471.44 L575.76 471.24 L620.56 531.64 L619.44 531.84Z" fill="#0577fc" stroke="#0577fc" stroke-width="0.7"/>
<path d="M573.52 471.64 L574.64 471.44 L619.44 531.84 L618.32 532.04Z" fill="#0577fc" stroke="#0577fc" stroke-width="0.7"/>
<path d="M572.4 471.84 L573.52 471.64 L618.32 532.04 L617.2 532.24Z" fill="#0577fc" stroke="#0577fc" stroke-width="0.7"/>
<path d="M571.28 472.04 L572.4 471.84 L617.2 532.24 L616.08 532.44Z" fill="#0577fc" stroke="#0577fc" stroke-width="0.7"/>
<path d="M570.16 472.25 L571.28 472.04 L616.08 532.44 L614.96 532.65Z" fill="#0577fc" stroke="#0577fc" stroke-width="0.7"/>
<path d="M569.04 472.45 L570.16 472.25 L614.96 532.65 L613.84 532.85Z" fill="#0577fc" stroke="#0577fc" stroke-width="0.7"/>
<path d="M567.92 472.65 L569.04 472.45 L613.84 532.85 L612.72 533.05Z" fill="#0577fc" stroke="#0577fc" stroke-width="0.7"/>
<path d="M566.8 472.85 L567.92 472.65 L612.72 533.05 L611.6 533.25Z" fill="#0577fc" stroke="#0577fc" stroke-width="0.7"/>
<path d="M565.68 473.05 L566.8 472.85 L611.6 533.25 L610.48 533.45Z" fill="#0577fc" stroke="#0577fc" stroke-width="0.7"/>
<path d="M564.56 473.25 L565.68 473.05 L610.48 533.45 L609.36 533.65Z" fill="#0577fc" stroke="#0577fc" stroke-width="0.7"/>
<path d="M563.44 473.45 L564.56 473.25 L609.36 533.65 L608.24 533.85Z" fill="#0577fc" stroke="#0577fc" stroke-width="0.7"/>
<path d="M562.32 473.66 L563.44 473.45 L608.24 533.85 L607.12 534.06Z" fill="#0577fc" stroke="#0577fc" stroke-width="0.7"/>
<path d="M561.2 473.86 L562.32 473.66 L607.12 534.06 L606 534.26Z" fill="#0577fc" stroke="#0577fc" stroke-width="0.7"/>
<path d="M560.08 474.06 L561.2 473.86 L606 534.26 L604.88 534.46Z" fill="#0577fc" stroke="#0577fc" stroke-width="0.7"/>
<path d="M558.96 474.26 L560.08 474.06 L604.88 534.46 L603.76 534.66Z" fill="#0577fc" stroke="#0577fc" stroke-width="0.7"/>
<path d="M557.84 474.46 L558.96 474.26 L603.76 534.66 L602.64 534.86Z" fill="#0577fc" stroke="#0577fc" stroke-width="0.7"/>
<path d="M556.72 474.66 L557.84 474.46 L602.64 534.86 L601.52 535.06Z" fill="#0577fc" stroke="#0577fc" stroke-width="0.7"/>
<path d="M555.6 474.86 L556.72 474.66 L601.52 535.06 L600.4 535.26Z" fill="#0577fc" stroke="#0577fc" stroke-width="0.7"/>
<path d="M554.48 475.06 L555.6 474.86 L600.4 535.26 L599.28 535.46Z" fill="#0577fc" stroke="#0577fc" stroke-width="0.7"/>
<path d="M553.36 475.26 L554.48 475.06 L599.28 535.46 L598.16 535.66Z" fill="#0577fc" stroke="#0577fc" stroke-width="0.7"/>
<path d="M552.24 475.47 L553.36 475.26 L598.16 535.66 L597.04 535.87Z" fill="#0577fc" stroke="#0577fc" stroke-width="0.7"/>
<path d="M551.12 475.67 L552.24 475.47 L597.04 535.87 L595.92 536.07Z" fill="#0577fc" stroke="#0577fc" stroke-width="0.7"/>
<path d="M550 475.87 L551.12 475.67 L595.92 536.07 L594.8 536.27Z" fill="#0577fc" stroke="#0577fc" stroke-width="0.7"/>
<path d="M548.88 476.07 L550 475.87 L594.8 536.27 L593.68 536.47Z" fill="#0577fc" stroke="#0577fc" stroke-width="0.7"/>
<path d="M547.76 476.27 L548.88 476.07 L593.68 536.47 L592.56 536.67Z" fill="#0577fc" stroke="#0577fc" stroke-width="0.7"/>
<path d="M546.64 476.47 L547.76 476.27 L592.56 536.67 L591.44 536.87Z" fill="#0577fc" stroke="#0577fc" stroke-width="0.7"/>
<path d="M545.52 476.67 L546.64 476.47 L591.44 536.87 L590.32 537.07Z" fill="#0577fc" stroke="#0577fc" stroke-width="0.7"/>
<path d="M544.4 476.87 L545.52 476.67 L590.32 537.07 L589.2 537.27Z" fill="#0577fc" stroke="#0577fc" stroke-width="0.7"/>
<path d="M543.28 477.07 L544.4 476.87 L589.2 537.27 L588.08 537.47Z" fill="#0577fc" stroke="#0577fc" stroke-width="0.7"/>
<path d="M542.16 477.27 L543.28 477.07 L588.08 537.47 L586.96 537.67Z" fill="#0577fc" stroke="#0577fc" stroke-width="0.7"/>
<path d="M541.04 477.48 L542.16 477.27 L586.96 537.67 L585.84 537.88Z" fill="#0577fc" stroke="#0577fc" stroke-width="0.7"/>
<path d="M539.92 477.68 L541.04 477.48 L585.84 537.88 L584.72 538.08Z" fill="#0577fc" stroke="#0577fc" stroke-width="0.7"/>
<path d="M538.8 477.88 L539.92 477.68 L584.72 538.08 L583.6 538.28Z" fill="#0577fc" stroke="#0577fc" stroke-width="0.7"/>
<path d="M537.68 478.08 L538.8 477.88 L583.6 538.28 L582.48 538.48Z" fill="#0577fc" stroke="#0577fc" stroke-width="0.7"/>
<path d="M536.56 478.28 L537.68 478.08 L582.48 538.48 L581.36 538.68Z" fill="#0577fc" stroke="#0577fc" stroke-width="0.7"/>
<path d="M535.44 478.48 L536.56 478.28 L581.36 538.68 L580.24 538.88Z" fill="#0577fc" stroke="#0577fc" stroke-width="0.7"/>
<path d="M534.32 478.68 L535.44 478.48 L580.24 538.88 L579.12 539.08Z" fill="#0577fc" stroke="#0577fc" stroke-width="0.7"/>
<path d="M533.2 478.88 L534.32 478.68 L579.12 539.08 L578 539.28Z" fill="#0577fc" stroke="#0577fc" stroke-width="0.7"/>
<defs><path id="pf3" d="M578 539.28 L579.6 539 L581.2 538.71 L582.8 538.42 L584.4 538.13 L586 537.85 L587.6 537.56 L589.2 537.27 L590.8 536.99 L592.4 536.7 L594 536.41 L595.6 536.12 L597.2 535.84 L598.8 535.55 L600.4 535.26 L602 534.98 L603.6 534.69 L605.2 534.4 L606.8 534.11 L608.4 533.83 L610 533.54 L611.6 533.25 L613.2 532.96 L614.8 532.68 L616.4 532.39 L618 532.1 L619.6 531.81 L621.2 531.52 L622.8 531.23 L624.4 530.94 L626 530.65 L627.6 530.36 L629.2 530.07 L630.8 529.78 L632.4 529.49 L634 529.19 L635.6 528.89 L637.2 528.6 L638.8 528.3 L640.4 527.99 L642 527.69 L643.6 527.38 L645.2 527.06 L646.8 526.74 L648.4 526.41 L650 526.07 L651.6 525.73 L653.2 525.37 L654.8 524.99 L656.4 524.6 L658 524.18 L659.6 523.74 L661.2 523.27 L662.8 522.76 L664.4 522.2 L666 521.59 L667.6 520.9 L669.2 520.14 L670.8 519.28 L672.4 518.3 L674 517.17 L675.6 515.87"/></defs>
<g stroke="#fff" stroke-opacity="0.42" stroke-width="0.5" fill="none">
<use href="#pf3" transform="translate(-0 -0)"/>
<use href="#pf3" transform="translate(-1.18 -1.59)"/>
<use href="#pf3" transform="translate(-2.36 -3.18)"/>
<use href="#pf3" transform="translate(-3.54 -4.77)"/>
<use href="#pf3" transform="translate(-4.72 -6.36)"/>
<use href="#pf3" transform="translate(-5.89 -7.95)"/>
<use href="#pf3" transform="translate(-7.07 -9.54)"/>
<use href="#pf3" transform="translate(-8.25 -11.13)"/>
<use href="#pf3" transform="translate(-9.43 -12.72)"/>
<use href="#pf3" transform="translate(-10.61 -14.31)"/>
<use href="#pf3" transform="translate(-11.79 -15.89)"/>
<use href="#pf3" transform="translate(-12.97 -17.48)"/>
<use href="#pf3" transform="translate(-14.15 -19.07)"/>
<use href="#pf3" transform="translate(-15.33 -20.66)"/>
<use href="#pf3" transform="translate(-16.51 -22.25)"/>
<use href="#pf3" transform="translate(-17.68 -23.84)"/>
<use href="#pf3" transform="translate(-18.86 -25.43)"/>
<use href="#pf3" transform="translate(-20.04 -27.02)"/>
<use href="#pf3" transform="translate(-21.22 -28.61)"/>
<use href="#pf3" transform="translate(-22.4 -30.2)"/>
<use href="#pf3" transform="translate(-23.58 -31.79)"/>
<use href="#pf3" transform="translate(-24.76 -33.38)"/>
<use href="#pf3" transform="translate(-25.94 -34.97)"/>
<use href="#pf3" transform="translate(-27.12 -36.56)"/>
<use href="#pf3" transform="translate(-28.29 -38.15)"/>
<use href="#pf3" transform="translate(-29.47 -39.74)"/>
<use href="#pf3" transform="translate(-30.65 -41.33)"/>
<use href="#pf3" transform="translate(-31.83 -42.92)"/>
<use href="#pf3" transform="translate(-33.01 -44.51)"/>
<use href="#pf3" transform="translate(-34.19 -46.09)"/>
<use href="#pf3" transform="translate(-35.37 -47.68)"/>
<use href="#pf3" transform="translate(-36.55 -49.27)"/>
<use href="#pf3" transform="translate(-37.73 -50.86)"/>
<use href="#pf3" transform="translate(-38.91 -52.45)"/>
<use href="#pf3" transform="translate(-40.08 -54.04)"/>
<use href="#pf3" transform="translate(-41.26 -55.63)"/>
<use href="#pf3" transform="translate(-42.44 -57.22)"/>
<use href="#pf3" transform="translate(-43.62 -58.81)"/>
<use href="#pf3" transform="translate(-44.8 -60.4)"/>
<path d="M578 539.28 L533.2 478.88M579.99 538.93 L535.19 478.53M581.98 538.57 L537.18 478.17M583.98 538.21 L539.18 477.81M585.97 537.85 L541.17 477.45M587.96 537.5 L543.16 477.1M589.95 537.14 L545.15 476.74M591.94 536.78 L547.14 476.38M593.93 536.42 L549.13 476.02M595.93 536.07 L551.13 475.67M597.92 535.71 L553.12 475.31M599.91 535.35 L555.11 474.95M601.9 534.99 L557.1 474.59M603.89 534.64 L559.09 474.24M605.89 534.28 L561.09 473.88M607.88 533.92 L563.08 473.52M609.87 533.56 L565.07 473.16M611.86 533.2 L567.06 472.8M613.85 532.85 L569.05 472.45M615.84 532.49 L571.04 472.09M617.84 532.13 L573.04 471.73M619.83 531.77 L575.03 471.37M621.82 531.41 L577.02 471.01M623.81 531.05 L579.01 470.65M625.8 530.69 L581 470.29M627.8 530.33 L583 469.93M629.79 529.96 L584.99 469.56M631.78 529.6 L586.98 469.2M633.77 529.23 L588.97 468.83M635.76 528.86 L590.96 468.46M637.76 528.49 L592.96 468.09M639.75 528.12 L594.95 467.72M641.74 527.74 L596.94 467.34M643.73 527.35 L598.93 466.95M645.72 526.96 L600.92 466.56M647.71 526.55 L602.91 466.15M649.71 526.14 L604.91 465.74M651.7 525.71 L606.9 465.31M653.69 525.25 L608.89 464.85M655.68 524.78 L610.88 464.38M657.67 524.27 L612.87 463.87M659.67 523.73 L614.87 463.33M661.66 523.13 L616.86 462.73M663.65 522.47 L618.85 462.07M665.64 521.73 L620.84 461.33M667.63 520.89 L622.83 460.49M669.62 519.92 L624.82 459.52M671.62 518.79 L626.82 458.39M673.61 517.46 L628.81 457.06M675.6 515.87 L630.8 455.47" stroke-opacity="0.3"/>
</g>
<g stroke-width="0.35" stroke-linejoin="round">
<path d="M635.28 460.69 L634.66 461.29 L636.49 463.47 L637.12 462.85Z" fill="#05a9fc" stroke="#fff" stroke-opacity="0.42"/>
<path d="M634.66 461.29 L633.69 462.13 L635.52 464.35 L636.49 463.47Z" fill="#05a4fc" stroke="#fff" stroke-opacity="0.42"/>
<path d="M633.69 462.13 L632.53 463.04 L634.37 465.29 L635.52 464.35Z" fill="#059ffc" stroke="#fff" stroke-opacity="0.42"/>
<path d="M632.53 463.04 L631.23 463.96 L633.06 466.23 L634.37 465.29Z" fill="#059afc" stroke="#fff" stroke-opacity="0.42"/>
<path d="M631.23 463.96 L629.8 464.84 L631.64 467.14 L633.06 466.23Z" fill="#0595fc" stroke="#fff" stroke-opacity="0.42"/>
<path d="M629.8 464.84 L628.27 465.68 L630.11 468 L631.64 467.14Z" fill="#0590fc" stroke="#fff" stroke-opacity="0.42"/>
<path d="M628.27 465.68 L626.65 466.47 L628.49 468.82 L630.11 468Z" fill="#058cfc" stroke="#fff" stroke-opacity="0.42"/>
<path d="M626.65 466.47 L624.94 467.22 L626.78 469.59 L628.49 468.82Z" fill="#0589fc" stroke="#fff" stroke-opacity="0.42"/>
<path d="M624.94 467.22 L623.16 467.91 L625 470.3 L626.78 469.59Z" fill="#0586fc" stroke="#fff" stroke-opacity="0.42"/>
<path d="M637.12 462.85 L636.49 463.47 L638.27 465.48 L638.9 464.83Z" fill="#05acfc" stroke="#fff" stroke-opacity="0.42"/>
<path d="M636.49 463.47 L635.52 464.35 L637.31 466.4 L638.27 465.48Z" fill="#05a7fc" stroke="#fff" stroke-opacity="0.42"/>
<path d="M635.52 464.35 L634.37 465.29 L636.15 467.38 L637.31 466.4Z" fill="#05a1fc" stroke="#fff" stroke-opacity="0.42"/>
<path d="M634.37 465.29 L633.06 466.23 L634.84 468.36 L636.15 467.38Z" fill="#059cfc" stroke="#fff" stroke-opacity="0.42"/>
<path d="M633.06 466.23 L631.64 467.14 L633.42 469.31 L634.84 468.36Z" fill="#0597fc" stroke="#fff" stroke-opacity="0.42"/>
<path d="M631.64 467.14 L630.11 468 L631.89 470.21 L633.42 469.31Z" fill="#0592fc" stroke="#fff" stroke-opacity="0.42"/>
<path d="M630.11 468 L628.49 468.82 L630.27 471.06 L631.89 470.21Z" fill="#058efc" stroke="#fff" stroke-opacity="0.42"/>
<path d="M628.49 468.82 L626.78 469.59 L628.56 471.86 L630.27 471.06Z" fill="#058afc" stroke="#fff" stroke-opacity="0.42"/>
<path d="M626.78 469.59 L625 470.3 L626.78 472.6 L628.56 471.86Z" fill="#0586fc" stroke="#fff" stroke-opacity="0.42"/>
<path d="M625 470.3 L623.15 470.97 L624.93 473.29 L626.78 472.6Z" fill="#0584fc" stroke="#fff" stroke-opacity="0.42"/>
<path d="M638.9 464.83 L638.27 465.48 L640 467.29 L640.62 466.6Z" fill="#05affc" stroke="#fff" stroke-opacity="0.42"/>
<path d="M638.27 465.48 L637.31 466.4 L639.03 468.26 L640 467.29Z" fill="#05aafc" stroke="#fff" stroke-opacity="0.42"/>
<path d="M637.31 466.4 L636.15 467.38 L637.88 469.3 L639.03 468.26Z" fill="#05a4fc" stroke="#fff" stroke-opacity="0.42"/>
<path d="M636.15 467.38 L634.84 468.36 L636.57 470.33 L637.88 469.3Z" fill="#059efc" stroke="#fff" stroke-opacity="0.42"/>
<path d="M634.84 468.36 L633.42 469.31 L635.15 471.33 L636.57 470.33Z" fill="#0599fc" stroke="#fff" stroke-opacity="0.42"/>
<path d="M633.42 469.31 L631.89 470.21 L633.62 472.28 L635.15 471.33Z" fill="#0594fc" stroke="#fff" stroke-opacity="0.42"/>
<path d="M631.89 470.21 L630.27 471.06 L631.99 473.18 L633.62 472.28Z" fill="#058ffc" stroke="#fff" stroke-opacity="0.42"/>
<path d="M630.27 471.06 L628.56 471.86 L630.29 474.02 L631.99 473.18Z" fill="#058bfc" stroke="#fff" stroke-opacity="0.42"/>
<path d="M628.56 471.86 L626.78 472.6 L628.51 474.8 L630.29 474.02Z" fill="#0587fc" stroke="#fff" stroke-opacity="0.42"/>
<path d="M626.78 472.6 L624.93 473.29 L626.66 475.52 L628.51 474.8Z" fill="#0584fc" stroke="#fff" stroke-opacity="0.42"/>
<path d="M640.62 466.6 L640 467.29 L641.67 468.86 L642.29 468.11Z" fill="#05b4fc" stroke="#fff" stroke-opacity="0.42"/>
<path d="M640 467.29 L639.03 468.26 L640.7 469.9 L641.67 468.86Z" fill="#05aefc" stroke="#fff" stroke-opacity="0.42"/>
<path d="M639.03 468.26 L637.88 469.3 L639.54 471.01 L640.7 469.9Z" fill="#05a8fc" stroke="#fff" stroke-opacity="0.42"/>
<path d="M637.88 469.3 L636.57 470.33 L638.24 472.12 L639.54 471.01Z" fill="#05a2fc" stroke="#fff" stroke-opacity="0.42"/>
<path d="M636.57 470.33 L635.15 471.33 L636.81 473.19 L638.24 472.12Z" fill="#059cfc" stroke="#fff" stroke-opacity="0.42"/>
<path d="M635.15 471.33 L633.62 472.28 L635.28 474.21 L636.81 473.19Z" fill="#0596fc" stroke="#fff" stroke-opacity="0.42"/>
<path d="M633.62 472.28 L631.99 473.18 L633.66 475.17 L635.28 474.21Z" fill="#0591fc" stroke="#fff" stroke-opacity="0.42"/>
<path d="M631.99 473.18 L630.29 474.02 L631.96 476.07 L633.66 475.17Z" fill="#058dfc" stroke="#fff" stroke-opacity="0.42"/>
<path d="M630.29 474.02 L628.51 474.8 L630.18 476.9 L631.96 476.07Z" fill="#0589fc" stroke="#fff" stroke-opacity="0.42"/>
<path d="M628.51 474.8 L626.66 475.52 L628.32 477.66 L630.18 476.9Z" fill="#0585fc" stroke="#fff" stroke-opacity="0.42"/>
<path d="M626.66 475.52 L624.74 476.2 L626.41 478.37 L628.32 477.66Z" fill="#0582fc" stroke="#fff" stroke-opacity="0.42"/>
<path d="M642.29 468.11 L641.67 468.86 L643.27 470.14 L643.9 469.33Z" fill="#05bafc" stroke="#fff" stroke-opacity="0.42"/>
<path d="M641.67 468.86 L640.7 469.9 L642.31 471.28 L643.27 470.14Z" fill="#05b4fc" stroke="#fff" stroke-opacity="0.42"/>
<path d="M640.7 469.9 L639.54 471.01 L641.15 472.49 L642.31 471.28Z" fill="#05adfc" stroke="#fff" stroke-opacity="0.42"/>
<path d="M639.54 471.01 L638.24 472.12 L639.84 473.7 L641.15 472.49Z" fill="#05a6fc" stroke="#fff" stroke-opacity="0.42"/>
<path d="M638.24 472.12 L636.81 473.19 L638.42 474.87 L639.84 473.7Z" fill="#059ffc" stroke="#fff" stroke-opacity="0.42"/>
<path d="M636.81 473.19 L635.28 474.21 L636.89 475.99 L638.42 474.87Z" fill="#0599fc" stroke="#fff" stroke-opacity="0.42"/>
<path d="M635.28 474.21 L633.66 475.17 L635.27 477.04 L636.89 475.99Z" fill="#0593fc" stroke="#fff" stroke-opacity="0.42"/>
<path d="M633.66 475.17 L631.96 476.07 L633.56 478 L635.27 477.04Z" fill="#058efc" stroke="#fff" stroke-opacity="0.42"/>
<path d="M631.96 476.07 L630.18 476.9 L631.78 478.89 L633.56 478Z" fill="#058afc" stroke="#fff" stroke-opacity="0.42"/>
<path d="M630.18 476.9 L628.32 477.66 L629.93 479.7 L631.78 478.89Z" fill="#0586fc" stroke="#fff" stroke-opacity="0.42"/>
<path d="M628.32 477.66 L626.41 478.37 L628.01 480.44 L629.93 479.7Z" fill="#0583fc" stroke="#fff" stroke-opacity="0.42"/>
<path d="M626.41 478.37 L624.43 479.02 L626.03 481.12 L628.01 480.44Z" fill="#0581fc" stroke="#fff" stroke-opacity="0.42"/>
<path d="M643.9 469.33 L643.27 470.14 L644.81 471.1 L645.43 470.21Z" fill="#05c1fc" stroke="#fff" stroke-opacity="0.42"/>
<path d="M643.27 470.14 L642.31 471.28 L643.84 472.36 L644.81 471.1Z" fill="#05bbfc" stroke="#fff" stroke-opacity="0.42"/>
<path d="M642.31 471.28 L641.15 472.49 L642.68 473.71 L643.84 472.36Z" fill="#05b3fc" stroke="#fff" stroke-opacity="0.42"/>
<path d="M641.15 472.49 L639.84 473.7 L641.38 475.05 L642.68 473.71Z" fill="#05abfc" stroke="#fff" stroke-opacity="0.42"/>
<path d="M639.84 473.7 L638.42 474.87 L639.95 476.36 L641.38 475.05Z" fill="#05a4fc" stroke="#fff" stroke-opacity="0.42"/>
<path d="M638.42 474.87 L636.89 475.99 L638.42 477.61 L639.95 476.36Z" fill="#059dfc" stroke="#fff" stroke-opacity="0.42"/>
<path d="M636.89 475.99 L635.27 477.04 L636.8 478.77 L638.42 477.61Z" fill="#0596fc" stroke="#fff" stroke-opacity="0.42"/>
<path d="M635.27 477.04 L633.56 478 L635.1 479.82 L636.8 478.77Z" fill="#0590fc" stroke="#fff" stroke-opacity="0.42"/>
<path d="M633.56 478 L631.78 478.89 L633.31 480.78 L635.1 479.82Z" fill="#058cfc" stroke="#fff" stroke-opacity="0.42"/>
<path d="M631.78 478.89 L629.93 479.7 L631.46 481.65 L633.31 480.78Z" fill="#0587fc" stroke="#fff" stroke-opacity="0.42"/>
<path d="M629.93 479.7 L628.01 480.44 L629.54 482.43 L631.46 481.65Z" fill="#0584fc" stroke="#fff" stroke-opacity="0.42"/>
<path d="M628.01 480.44 L626.03 481.12 L627.56 483.13 L629.54 482.43Z" fill="#0581fc" stroke="#fff" stroke-opacity="0.42"/>
<path d="M645.43 470.21 L644.81 471.1 L646.27 471.69 L646.89 470.69Z" fill="#05cbfc" stroke="#fff" stroke-opacity="0.42"/>
<path d="M644.81 471.1 L643.84 472.36 L645.3 473.1 L646.27 471.69Z" fill="#05c4fc" stroke="#fff" stroke-opacity="0.42"/>
<path d="M643.84 472.36 L642.68 473.71 L644.14 474.63 L645.3 473.1Z" fill="#05bbfc" stroke="#fff" stroke-opacity="0.42"/>
<path d="M642.68 473.71 L641.38 475.05 L642.84 476.17 L644.14 474.63Z" fill="#05b2fc" stroke="#fff" stroke-opacity="0.42"/>
<path d="M641.38 475.05 L639.95 476.36 L641.41 477.67 L642.84 476.17Z" fill="#05a9fc" stroke="#fff" stroke-opacity="0.42"/>
<path d="M639.95 476.36 L638.42 477.61 L639.88 479.07 L641.41 477.67Z" fill="#05a1fc" stroke="#fff" stroke-opacity="0.42"/>
<path d="M638.42 477.61 L636.8 478.77 L638.26 480.37 L639.88 479.07Z" fill="#0599fc" stroke="#fff" stroke-opacity="0.42"/>
<path d="M636.8 478.77 L635.1 479.82 L636.55 481.53 L638.26 480.37Z" fill="#0593fc" stroke="#fff" stroke-opacity="0.42"/>
<path d="M635.1 479.82 L633.31 480.78 L634.77 482.57 L636.55 481.53Z" fill="#058dfc" stroke="#fff" stroke-opacity="0.42"/>
<path d="M633.31 480.78 L631.46 481.65 L632.92 483.49 L634.77 482.57Z" fill="#0589fc" stroke="#fff" stroke-opacity="0.42"/>
<path d="M631.46 481.65 L629.54 482.43 L631 484.31 L632.92 483.49Z" fill="#0585fc" stroke="#fff" stroke-opacity="0.42"/>
<path d="M629.54 482.43 L627.56 483.13 L629.02 485.04 L631 484.31Z" fill="#0582fc" stroke="#fff" stroke-opacity="0.42"/>
<path d="M646.89 470.69 L646.27 471.69 L647.64 470.31 L648.27 468.96Z" fill="#05ddfc" stroke="#05ddfc"/>
<path d="M646.27 471.69 L645.3 473.1 L646.68 473.14 L647.64 470.31Z" fill="#05d2fc" stroke="#05d2fc"/>
<path d="M645.3 473.1 L644.14 474.63 L645.52 475.26 L646.68 473.14Z" fill="#05c5fc" stroke="#fff" stroke-opacity="0.42"/>
<path d="M644.14 474.63 L642.84 476.17 L644.21 477.06 L645.52 475.26Z" fill="#05b9fc" stroke="#fff" stroke-opacity="0.42"/>
<path d="M642.84 476.17 L641.41 477.67 L642.79 478.79 L644.21 477.06Z" fill="#05affc" stroke="#fff" stroke-opacity="0.42"/>
<path d="M641.41 477.67 L639.88 479.07 L641.26 480.41 L642.79 478.79Z" fill="#05a5fc" stroke="#fff" stroke-opacity="0.42"/>
<path d="M639.88 479.07 L638.26 480.37 L639.64 481.86 L641.26 480.41Z" fill="#059cfc" stroke="#fff" stroke-opacity="0.42"/>
<path d="M638.26 480.37 L636.55 481.53 L637.93 483.14 L639.64 481.86Z" fill="#0595fc" stroke="#fff" stroke-opacity="0.42"/>
<path d="M636.55 481.53 L634.77 482.57 L636.15 484.26 L637.93 483.14Z" fill="#058ffc" stroke="#fff" stroke-opacity="0.42"/>
<path d="M634.77 482.57 L632.92 483.49 L634.3 485.24 L636.15 484.26Z" fill="#058afc" stroke="#fff" stroke-opacity="0.42"/>
<path d="M632.92 483.49 L631 484.31 L632.38 486.1 L634.3 485.24Z" fill="#0585fc" stroke="#fff" stroke-opacity="0.42"/>
<path d="M631 484.31 L629.02 485.04 L630.4 486.85 L632.38 486.1Z" fill="#0582fc" stroke="#fff" stroke-opacity="0.42"/>
<path d="M629.02 485.04 L626.98 485.7 L628.36 487.53 L630.4 486.85Z" fill="#0580fc" stroke="#fff" stroke-opacity="0.42"/>
<path d="M648.27 468.96 L647.64 470.31 L648.93 460.98 L649.55 459.4Z" fill="#05f4e4" stroke="#05f4e4"/>
<path d="M647.64 470.31 L646.68 473.14 L647.96 464.47 L648.93 460.98Z" fill="#05f4f5" stroke="#05f4f5"/>
<path d="M646.68 473.14 L645.52 475.26 L646.8 470.03 L647.96 464.47Z" fill="#05ebfc" stroke="#05ebfc"/>
<path d="M645.52 475.26 L644.21 477.06 L645.5 477.47 L646.8 470.03Z" fill="#05cdfc" stroke="#05cdfc"/>
<path d="M644.21 477.06 L642.79 478.79 L644.07 479.79 L645.5 477.47Z" fill="#05b6fc" stroke="#fff" stroke-opacity="0.42"/>
<path d="M642.79 478.79 L641.26 480.41 L642.54 481.63 L644.07 479.79Z" fill="#05aafc" stroke="#fff" stroke-opacity="0.42"/>
<path d="M641.26 480.41 L639.64 481.86 L640.92 483.25 L642.54 481.63Z" fill="#05a0fc" stroke="#fff" stroke-opacity="0.42"/>
<path d="M639.64 481.86 L637.93 483.14 L639.21 484.65 L640.92 483.25Z" fill="#0597fc" stroke="#fff" stroke-opacity="0.42"/>
<path d="M637.93 483.14 L636.15 484.26 L637.43 485.85 L639.21 484.65Z" fill="#0590fc" stroke="#fff" stroke-opacity="0.42"/>
<path d="M636.15 484.26 L634.3 485.24 L635.58 486.87 L637.43 485.85Z" fill="#058bfc" stroke="#fff" stroke-opacity="0.42"/>
<path d="M634.3 485.24 L632.38 486.1 L633.66 487.76 L635.58 486.87Z" fill="#0586fc" stroke="#fff" stroke-opacity="0.42"/>
<path d="M632.38 486.1 L630.4 486.85 L631.68 488.54 L633.66 487.76Z" fill="#0583fc" stroke="#fff" stroke-opacity="0.42"/>
<path d="M630.4 486.85 L628.36 487.53 L629.64 489.23 L631.68 488.54Z" fill="#0580fc" stroke="#fff" stroke-opacity="0.42"/>
<path d="M649.55 459.4 L648.93 460.98 L650.1 452.08 L650.72 450.16Z" fill="#05f493" stroke="#05f493"/>
<path d="M648.93 460.98 L647.96 464.47 L649.13 456.6 L650.1 452.08Z" fill="#05f4a7" stroke="#05f4a7"/>
<path d="M647.96 464.47 L646.8 470.03 L647.98 463.69 L649.13 456.6Z" fill="#05f4cd" stroke="#05f4cd"/>
<path d="M646.8 470.03 L645.5 477.47 L646.67 472.67 L647.98 463.69Z" fill="#05f7fc" stroke="#05f7fc"/>
<path d="M645.5 477.47 L644.07 479.79 L645.24 480.7 L646.67 472.67Z" fill="#05c7fc" stroke="#05c7fc"/>
<path d="M644.07 479.79 L642.54 481.63 L643.72 482.77 L645.24 480.7Z" fill="#05aefc" stroke="#fff" stroke-opacity="0.42"/>
<path d="M642.54 481.63 L640.92 483.25 L642.09 484.55 L643.72 482.77Z" fill="#05a3fc" stroke="#fff" stroke-opacity="0.42"/>
<path d="M640.92 483.25 L639.21 484.65 L640.39 486.05 L642.09 484.55Z" fill="#0599fc" stroke="#fff" stroke-opacity="0.42"/>
<path d="M639.21 484.65 L637.43 485.85 L638.61 487.31 L640.39 486.05Z" fill="#0591fc" stroke="#fff" stroke-opacity="0.42"/>
<path d="M637.43 485.85 L635.58 486.87 L636.76 488.38 L638.61 487.31Z" fill="#058bfc" stroke="#fff" stroke-opacity="0.42"/>
<path d="M635.58 486.87 L633.66 487.76 L634.84 489.3 L636.76 488.38Z" fill="#0587fc" stroke="#fff" stroke-opacity="0.42"/>
<path d="M633.66 487.76 L631.68 488.54 L632.86 490.1 L634.84 489.3Z" fill="#0583fc" stroke="#fff" stroke-opacity="0.42"/>
<path d="M631.68 488.54 L629.64 489.23 L630.82 490.8 L632.86 490.1Z" fill="#0580fc" stroke="#fff" stroke-opacity="0.42"/>
<path d="M650.72 450.16 L650.1 452.08 L651.14 443.97 L651.77 441.48Z" fill="#05f447" stroke="#05f447"/>
<path d="M650.1 452.08 L649.13 456.6 L650.18 450.21 L651.14 443.97Z" fill="#05f462" stroke="#05f462"/>
<path d="M649.13 456.6 L647.98 463.69 L649.02 459.24 L650.18 450.21Z" fill="#05f493" stroke="#05f493"/>
<path d="M647.98 463.69 L646.67 472.67 L647.71 469.74 L649.02 459.24Z" fill="#05f4d3" stroke="#05f4d3"/>
<path d="M646.67 472.67 L645.24 480.7 L646.29 481 L647.71 469.74Z" fill="#05defc" stroke="#05defc"/>
<path d="M645.24 480.7 L643.72 482.77 L644.76 483.84 L646.29 481Z" fill="#05b3fc" stroke="#fff" stroke-opacity="0.42"/>
<path d="M643.72 482.77 L642.09 484.55 L643.14 485.74 L644.76 483.84Z" fill="#05a5fc" stroke="#fff" stroke-opacity="0.42"/>
<path d="M642.09 484.55 L640.39 486.05 L641.43 487.32 L643.14 485.74Z" fill="#059bfc" stroke="#fff" stroke-opacity="0.42"/>
<path d="M640.39 486.05 L638.61 487.31 L639.65 488.63 L641.43 487.32Z" fill="#0592fc" stroke="#fff" stroke-opacity="0.42"/>
<path d="M638.61 487.31 L636.76 488.38 L637.8 489.74 L639.65 488.63Z" fill="#058cfc" stroke="#fff" stroke-opacity="0.42"/>
<path d="M636.76 488.38 L634.84 489.3 L635.88 490.68 L637.8 489.74Z" fill="#0587fc" stroke="#fff" stroke-opacity="0.42"/>
<path d="M634.84 489.3 L632.86 490.1 L633.9 491.48 L635.88 490.68Z" fill="#0583fc" stroke="#fff" stroke-opacity="0.42"/>
<path d="M632.86 490.1 L630.82 490.8 L631.86 492.19 L633.9 491.48Z" fill="#0580fc" stroke="#fff" stroke-opacity="0.42"/>
<path d="M651.77 441.48 L651.14 443.97 L652.01 437.65 L652.64 433.84Z" fill="#05f405" stroke="#05f405"/>
<path d="M651.14 443.97 L650.18 450.21 L651.05 446.47 L652.01 437.65Z" fill="#05f42b" stroke="#05f42b"/>
<path d="M650.18 450.21 L649.02 459.24 L649.89 457.21 L651.05 446.47Z" fill="#05f46a" stroke="#05f46a"/>
<path d="M649.02 459.24 L647.71 469.74 L648.58 468.71 L649.89 457.21Z" fill="#05f4b6" stroke="#05f4b6"/>
<path d="M647.71 469.74 L646.29 481 L647.16 480.58 L648.58 468.71Z" fill="#05effc" stroke="#05effc"/>
<path d="M646.29 481 L644.76 483.84 L645.63 484.79 L647.16 480.58Z" fill="#05b9fc" stroke="#fff" stroke-opacity="0.42"/>
<path d="M644.76 483.84 L643.14 485.74 L644.01 486.77 L645.63 484.79Z" fill="#05a7fc" stroke="#fff" stroke-opacity="0.42"/>
<path d="M643.14 485.74 L641.43 487.32 L642.3 488.4 L644.01 486.77Z" fill="#059cfc" stroke="#fff" stroke-opacity="0.42"/>
<path d="M641.43 487.32 L639.65 488.63 L640.52 489.75 L642.3 488.4Z" fill="#0593fc" stroke="#fff" stroke-opacity="0.42"/>
<path d="M639.65 488.63 L637.8 489.74 L638.67 490.88 L640.52 489.75Z" fill="#058cfc" stroke="#fff" stroke-opacity="0.42"/>
<path d="M637.8 489.74 L635.88 490.68 L636.75 491.83 L638.67 490.88Z" fill="#0587fc" stroke="#fff" stroke-opacity="0.42"/>
<path d="M635.88 490.68 L633.9 491.48 L634.77 492.64 L636.75 491.83Z" fill="#0583fc" stroke="#fff" stroke-opacity="0.42"/>
<path d="M633.9 491.48 L631.86 492.19 L632.73 493.36 L634.77 492.64Z" fill="#0580fc" stroke="#fff" stroke-opacity="0.42"/>
<path d="M652.64 433.84 L652.01 437.65 L652.58 435.67 L653.2 428.67Z" fill="#34f405" stroke="#34f405"/>
<path d="M652.01 437.65 L651.05 446.47 L651.61 445.83 L652.58 435.67Z" fill="#05f40c" stroke="#05f40c"/>
<path d="M651.05 446.47 L649.89 457.21 L650.45 457.1 L651.61 445.83Z" fill="#05f457" stroke="#05f457"/>
<path d="M649.89 457.21 L648.58 468.71 L649.15 468.88 L650.45 457.1Z" fill="#05f4aa" stroke="#05f4aa"/>
<path d="M648.58 468.71 L647.16 480.58 L647.72 480.93 L649.15 468.88Z" fill="#05f8fc" stroke="#05f8fc"/>
<path d="M647.16 480.58 L645.63 484.79 L646.19 485.43 L647.72 480.93Z" fill="#05bdfc" stroke="#fff" stroke-opacity="0.42"/>
<path d="M645.63 484.79 L644.01 486.77 L644.57 487.45 L646.19 485.43Z" fill="#05a8fc" stroke="#fff" stroke-opacity="0.42"/>
<path d="M644.01 486.77 L642.3 488.4 L642.86 489.12 L644.57 487.45Z" fill="#059cfc" stroke="#fff" stroke-opacity="0.42"/>
<path d="M642.3 488.4 L640.52 489.75 L641.08 490.48 L642.86 489.12Z" fill="#0594fc" stroke="#fff" stroke-opacity="0.42"/>
<path d="M640.52 489.75 L638.67 490.88 L639.23 491.62 L641.08 490.48Z" fill="#058dfc" stroke="#fff" stroke-opacity="0.42"/>
<path d="M638.67 490.88 L636.75 491.83 L637.31 492.58 L639.23 491.62Z" fill="#0587fc" stroke="#fff" stroke-opacity="0.42"/>
<path d="M636.75 491.83 L634.77 492.64 L635.33 493.4 L637.31 492.58Z" fill="#0583fc" stroke="#fff" stroke-opacity="0.42"/>
<path d="M634.77 492.64 L632.73 493.36 L633.29 494.11 L635.33 493.4Z" fill="#0580fc" stroke="#fff" stroke-opacity="0.42"/>
<path d="M653.2 428.67 L652.58 435.67 L653.14 439.16 L653.76 435.35Z" fill="#34f405" stroke="#34f405"/>
<path d="M652.58 435.67 L651.61 445.83 L652.17 447.99 L653.14 439.16Z" fill="#05f40c" stroke="#05f40c"/>
<path d="M651.61 445.83 L650.45 457.1 L651.01 458.73 L652.17 447.99Z" fill="#05f457" stroke="#05f457"/>
<path d="M650.45 457.1 L649.15 468.88 L649.71 470.23 L651.01 458.73Z" fill="#05f4aa" stroke="#05f4aa"/>
<path d="M649.15 468.88 L647.72 480.93 L648.28 482.09 L649.71 470.23Z" fill="#05f8fc" stroke="#05f8fc"/>
<path d="M647.72 480.93 L646.19 485.43 L646.75 486.3 L648.28 482.09Z" fill="#05bdfc" stroke="#fff" stroke-opacity="0.42"/>
<path d="M646.19 485.43 L644.57 487.45 L645.13 488.28 L646.75 486.3Z" fill="#05a8fc" stroke="#fff" stroke-opacity="0.42"/>
<path d="M644.57 487.45 L642.86 489.12 L643.43 489.92 L645.13 488.28Z" fill="#059cfc" stroke="#fff" stroke-opacity="0.42"/>
<path d="M642.86 489.12 L641.08 490.48 L641.65 491.27 L643.43 489.92Z" fill="#0594fc" stroke="#fff" stroke-opacity="0.42"/>
<path d="M641.08 490.48 L639.23 491.62 L639.79 492.39 L641.65 491.27Z" fill="#058dfc" stroke="#fff" stroke-opacity="0.42"/>
<path d="M639.23 491.62 L637.31 492.58 L637.88 493.34 L639.79 492.39Z" fill="#0587fc" stroke="#fff" stroke-opacity="0.42"/>
<path d="M637.31 492.58 L635.33 493.4 L635.9 494.16 L637.88 493.34Z" fill="#0583fc" stroke="#fff" stroke-opacity="0.42"/>
<path d="M635.33 493.4 L633.29 494.11 L633.86 494.87 L635.9 494.16Z" fill="#0580fc" stroke="#fff" stroke-opacity="0.42"/>
<path d="M653.76 435.35 L653.14 439.16 L654.01 447.83 L654.63 445.34Z" fill="#05f405" stroke="#05f405"/>
<path d="M653.14 439.16 L652.17 447.99 L653.04 454.07 L654.01 447.83Z" fill="#05f42b" stroke="#05f42b"/>
<path d="M652.17 447.99 L651.01 458.73 L651.88 463.1 L653.04 454.07Z" fill="#05f46a" stroke="#05f46a"/>
<path d="M651.01 458.73 L649.71 470.23 L650.58 473.6 L651.88 463.1Z" fill="#05f4b6" stroke="#05f4b6"/>
<path d="M649.71 470.23 L648.28 482.09 L649.15 484.86 L650.58 473.6Z" fill="#05effc" stroke="#05effc"/>
<path d="M648.28 482.09 L646.75 486.3 L647.62 487.7 L649.15 484.86Z" fill="#05b9fc" stroke="#fff" stroke-opacity="0.42"/>
<path d="M646.75 486.3 L645.13 488.28 L646 489.6 L647.62 487.7Z" fill="#05a7fc" stroke="#fff" stroke-opacity="0.42"/>
<path d="M645.13 488.28 L643.43 489.92 L644.3 491.18 L646 489.6Z" fill="#059cfc" stroke="#fff" stroke-opacity="0.42"/>
<path d="M643.43 489.92 L641.65 491.27 L642.52 492.49 L644.3 491.18Z" fill="#0593fc" stroke="#fff" stroke-opacity="0.42"/>
<path d="M641.65 491.27 L639.79 492.39 L640.66 493.6 L642.52 492.49Z" fill="#058cfc" stroke="#fff" stroke-opacity="0.42"/>
<path d="M639.79 492.39 L637.88 493.34 L638.75 494.54 L640.66 493.6Z" fill="#0587fc" stroke="#fff" stroke-opacity="0.42"/>
<path d="M637.88 493.34 L635.9 494.16 L636.77 495.34 L638.75 494.54Z" fill="#0583fc" stroke="#fff" stroke-opacity="0.42"/>
<path d="M635.9 494.16 L633.86 494.87 L634.73 496.05 L636.77 495.34Z" fill="#0580fc" stroke="#fff" stroke-opacity="0.42"/>
<path d="M654.63 445.34 L654.01 447.83 L655.05 458.76 L655.68 456.84Z" fill="#05f447" stroke="#05f447"/>
<path d="M654.01 447.83 L653.04 454.07 L654.08 463.28 L655.05 458.76Z" fill="#05f462" stroke="#05f462"/>
<path d="M653.04 454.07 L651.88 463.1 L652.93 470.36 L654.08 463.28Z" fill="#05f493" stroke="#05f493"/>
<path d="M651.88 463.1 L650.58 473.6 L651.62 479.35 L652.93 470.36Z" fill="#05f4d3" stroke="#05f4d3"/>
<path d="M650.58 473.6 L649.15 484.86 L650.2 487.38 L651.62 479.35Z" fill="#05defc" stroke="#05defc"/>
<path d="M649.15 484.86 L647.62 487.7 L648.67 489.45 L650.2 487.38Z" fill="#05b3fc" stroke="#fff" stroke-opacity="0.42"/>
<path d="M647.62 487.7 L646 489.6 L647.04 491.22 L648.67 489.45Z" fill="#05a5fc" stroke="#fff" stroke-opacity="0.42"/>
<path d="M646 489.6 L644.3 491.18 L645.34 492.72 L647.04 491.22Z" fill="#059bfc" stroke="#fff" stroke-opacity="0.42"/>
<path d="M644.3 491.18 L642.52 492.49 L643.56 493.99 L645.34 492.72Z" fill="#0592fc" stroke="#fff" stroke-opacity="0.42"/>
<path d="M642.52 492.49 L640.66 493.6 L641.71 495.06 L643.56 493.99Z" fill="#058cfc" stroke="#fff" stroke-opacity="0.42"/>
<path d="M640.66 493.6 L638.75 494.54 L639.79 495.98 L641.71 495.06Z" fill="#0587fc" stroke="#fff" stroke-opacity="0.42"/>
<path d="M638.75 494.54 L636.77 495.34 L637.81 496.77 L639.79 495.98Z" fill="#0583fc" stroke="#fff" stroke-opacity="0.42"/>
<path d="M636.77 495.34 L634.73 496.05 L635.77 497.47 L637.81 496.77Z" fill="#0580fc" stroke="#fff" stroke-opacity="0.42"/>
<path d="M655.68 456.84 L655.05 458.76 L656.23 470.83 L656.85 469.24Z" fill="#05f493" stroke="#05f493"/>
<path d="M655.05 458.76 L654.08 463.28 L655.26 474.31 L656.23 470.83Z" fill="#05f4a7" stroke="#05f4a7"/>
<path d="M654.08 463.28 L652.93 470.36 L654.1 479.87 L655.26 474.31Z" fill="#05f4cd" stroke="#05f4cd"/>
<path d="M652.93 470.36 L651.62 479.35 L652.8 487.31 L654.1 479.87Z" fill="#05f7fc" stroke="#05f7fc"/>
<path d="M651.62 479.35 L650.2 487.38 L651.37 489.63 L652.8 487.31Z" fill="#05c7fc" stroke="#05c7fc"/>
<path d="M650.2 487.38 L648.67 489.45 L649.84 491.47 L651.37 489.63Z" fill="#05aefc" stroke="#fff" stroke-opacity="0.42"/>
<path d="M648.67 489.45 L647.04 491.22 L648.22 493.09 L649.84 491.47Z" fill="#05a3fc" stroke="#fff" stroke-opacity="0.42"/>
<path d="M647.04 491.22 L645.34 492.72 L646.51 494.49 L648.22 493.09Z" fill="#0599fc" stroke="#fff" stroke-opacity="0.42"/>
<path d="M645.34 492.72 L643.56 493.99 L644.73 495.69 L646.51 494.49Z" fill="#0591fc" stroke="#fff" stroke-opacity="0.42"/>
<path d="M643.56 493.99 L641.71 495.06 L642.88 496.72 L644.73 495.69Z" fill="#058bfc" stroke="#fff" stroke-opacity="0.42"/>
<path d="M641.71 495.06 L639.79 495.98 L640.96 497.61 L642.88 496.72Z" fill="#0587fc" stroke="#fff" stroke-opacity="0.42"/>
<path d="M639.79 495.98 L637.81 496.77 L638.98 498.38 L640.96 497.61Z" fill="#0583fc" stroke="#fff" stroke-opacity="0.42"/>
<path d="M637.81 496.77 L635.77 497.47 L636.94 499.08 L638.98 498.38Z" fill="#0580fc" stroke="#fff" stroke-opacity="0.42"/>
<path d="M656.85 469.24 L656.23 470.83 L657.51 483.61 L658.13 482.26Z" fill="#05f4e4" stroke="#05f4e4"/>
<path d="M656.23 470.83 L655.26 474.31 L656.54 486.44 L657.51 483.61Z" fill="#05f4f5" stroke="#05f4f5"/>
<path d="M655.26 474.31 L654.1 479.87 L655.38 488.56 L656.54 486.44Z" fill="#05ebfc" stroke="#05ebfc"/>
<path d="M654.1 479.87 L652.8 487.31 L654.08 490.36 L655.38 488.56Z" fill="#05cdfc" stroke="#05cdfc"/>
<path d="M652.8 487.31 L651.37 489.63 L652.65 492.1 L654.08 490.36Z" fill="#05b6fc" stroke="#fff" stroke-opacity="0.42"/>
<path d="M651.37 489.63 L649.84 491.47 L651.12 493.71 L652.65 492.1Z" fill="#05aafc" stroke="#fff" stroke-opacity="0.42"/>
<path d="M649.84 491.47 L648.22 493.09 L649.5 495.16 L651.12 493.71Z" fill="#05a0fc" stroke="#fff" stroke-opacity="0.42"/>
<path d="M648.22 493.09 L646.51 494.49 L647.8 496.44 L649.5 495.16Z" fill="#0597fc" stroke="#fff" stroke-opacity="0.42"/>
<path d="M646.51 494.49 L644.73 495.69 L646.02 497.56 L647.8 496.44Z" fill="#0590fc" stroke="#fff" stroke-opacity="0.42"/>
<path d="M644.73 495.69 L642.88 496.72 L644.16 498.54 L646.02 497.56Z" fill="#058bfc" stroke="#fff" stroke-opacity="0.42"/>
<path d="M642.88 496.72 L640.96 497.61 L642.25 499.4 L644.16 498.54Z" fill="#0586fc" stroke="#fff" stroke-opacity="0.42"/>
<path d="M640.96 497.61 L638.98 498.38 L640.27 500.15 L642.25 499.4Z" fill="#0583fc" stroke="#fff" stroke-opacity="0.42"/>
<path d="M638.98 498.38 L636.94 499.08 L638.23 500.83 L640.27 500.15Z" fill="#0580fc" stroke="#fff" stroke-opacity="0.42"/>
<path d="M658.13 482.26 L657.51 483.61 L658.89 488.7 L659.51 487.71Z" fill="#05ddfc" stroke="#05ddfc"/>
<path d="M657.51 483.61 L656.54 486.44 L657.92 490.12 L658.89 488.7Z" fill="#05d2fc" stroke="#05d2fc"/>
<path d="M656.54 486.44 L655.38 488.56 L656.76 491.64 L657.92 490.12Z" fill="#05c5fc" stroke="#fff" stroke-opacity="0.42"/>
<path d="M655.38 488.56 L654.08 490.36 L655.46 493.18 L656.76 491.64Z" fill="#05b9fc" stroke="#fff" stroke-opacity="0.42"/>
<path d="M654.08 490.36 L652.65 492.1 L654.03 494.68 L655.46 493.18Z" fill="#05affc" stroke="#fff" stroke-opacity="0.42"/>
<path d="M652.65 492.1 L651.12 493.71 L652.5 496.09 L654.03 494.68Z" fill="#05a5fc" stroke="#fff" stroke-opacity="0.42"/>
<path d="M651.12 493.71 L649.5 495.16 L650.88 497.38 L652.5 496.09Z" fill="#059cfc" stroke="#fff" stroke-opacity="0.42"/>
<path d="M649.5 495.16 L647.8 496.44 L649.17 498.55 L650.88 497.38Z" fill="#0595fc" stroke="#fff" stroke-opacity="0.42"/>
<path d="M647.8 496.44 L646.02 497.56 L647.39 499.59 L649.17 498.55Z" fill="#058ffc" stroke="#fff" stroke-opacity="0.42"/>
<path d="M646.02 497.56 L644.16 498.54 L645.54 500.51 L647.39 499.59Z" fill="#058afc" stroke="#fff" stroke-opacity="0.42"/>
<path d="M644.16 498.54 L642.25 499.4 L643.62 501.33 L645.54 500.51Z" fill="#0585fc" stroke="#fff" stroke-opacity="0.42"/>
<path d="M642.25 499.4 L640.27 500.15 L641.64 502.06 L643.62 501.33Z" fill="#0582fc" stroke="#fff" stroke-opacity="0.42"/>
<path d="M640.27 500.15 L638.23 500.83 L639.6 502.72 L641.64 502.06Z" fill="#0580fc" stroke="#fff" stroke-opacity="0.42"/>
<path d="M659.51 487.71 L658.89 488.7 L660.35 492.05 L660.97 491.16Z" fill="#05cbfc" stroke="#fff" stroke-opacity="0.42"/>
<path d="M658.89 488.7 L657.92 490.12 L659.38 493.31 L660.35 492.05Z" fill="#05c4fc" stroke="#fff" stroke-opacity="0.42"/>
<path d="M657.92 490.12 L656.76 491.64 L658.22 494.66 L659.38 493.31Z" fill="#05bbfc" stroke="#fff" stroke-opacity="0.42"/>
<path d="M656.76 491.64 L655.46 493.18 L656.92 496 L658.22 494.66Z" fill="#05b2fc" stroke="#fff" stroke-opacity="0.42"/>
<path d="M655.46 493.18 L654.03 494.68 L655.49 497.31 L656.92 496Z" fill="#05a9fc" stroke="#fff" stroke-opacity="0.42"/>
<path d="M654.03 494.68 L652.5 496.09 L653.96 498.56 L655.49 497.31Z" fill="#05a1fc" stroke="#fff" stroke-opacity="0.42"/>
<path d="M652.5 496.09 L650.88 497.38 L652.34 499.72 L653.96 498.56Z" fill="#0599fc" stroke="#fff" stroke-opacity="0.42"/>
<path d="M650.88 497.38 L649.17 498.55 L650.63 500.77 L652.34 499.72Z" fill="#0593fc" stroke="#fff" stroke-opacity="0.42"/>
<path d="M649.17 498.55 L647.39 499.59 L648.85 501.73 L650.63 500.77Z" fill="#058dfc" stroke="#fff" stroke-opacity="0.42"/>
<path d="M647.39 499.59 L645.54 500.51 L647 502.6 L648.85 501.73Z" fill="#0589fc" stroke="#fff" stroke-opacity="0.42"/>
<path d="M645.54 500.51 L643.62 501.33 L645.08 503.38 L647 502.6Z" fill="#0585fc" stroke="#fff" stroke-opacity="0.42"/>
<path d="M643.62 501.33 L641.64 502.06 L643.1 504.08 L645.08 503.38Z" fill="#0582fc" stroke="#fff" stroke-opacity="0.42"/>
<path d="M660.97 491.16 L660.35 492.05 L661.88 495.23 L662.5 494.42Z" fill="#05c1fc" stroke="#fff" stroke-opacity="0.42"/>
<path d="M660.35 492.05 L659.38 493.31 L660.91 496.37 L661.88 495.23Z" fill="#05bbfc" stroke="#fff" stroke-opacity="0.42"/>
<path d="M659.38 493.31 L658.22 494.66 L659.75 497.58 L660.91 496.37Z" fill="#05b3fc" stroke="#fff" stroke-opacity="0.42"/>
<path d="M658.22 494.66 L656.92 496 L658.45 498.79 L659.75 497.58Z" fill="#05abfc" stroke="#fff" stroke-opacity="0.42"/>
<path d="M656.92 496 L655.49 497.31 L657.02 499.96 L658.45 498.79Z" fill="#05a4fc" stroke="#fff" stroke-opacity="0.42"/>
<path d="M655.49 497.31 L653.96 498.56 L655.5 501.08 L657.02 499.96Z" fill="#059dfc" stroke="#fff" stroke-opacity="0.42"/>
<path d="M653.96 498.56 L652.34 499.72 L653.87 502.12 L655.5 501.08Z" fill="#0596fc" stroke="#fff" stroke-opacity="0.42"/>
<path d="M652.34 499.72 L650.63 500.77 L652.17 503.09 L653.87 502.12Z" fill="#0590fc" stroke="#fff" stroke-opacity="0.42"/>
<path d="M650.63 500.77 L648.85 501.73 L650.39 503.98 L652.17 503.09Z" fill="#058cfc" stroke="#fff" stroke-opacity="0.42"/>
<path d="M648.85 501.73 L647 502.6 L648.54 504.79 L650.39 503.98Z" fill="#0587fc" stroke="#fff" stroke-opacity="0.42"/>
<path d="M647 502.6 L645.08 503.38 L646.62 505.53 L648.54 504.79Z" fill="#0584fc" stroke="#fff" stroke-opacity="0.42"/>
<path d="M645.08 503.38 L643.1 504.08 L644.64 506.21 L646.62 505.53Z" fill="#0581fc" stroke="#fff" stroke-opacity="0.42"/>
<path d="M662.5 494.42 L661.88 495.23 L663.48 498.27 L664.11 497.53Z" fill="#05bafc" stroke="#fff" stroke-opacity="0.42"/>
<path d="M661.88 495.23 L660.91 496.37 L662.52 499.31 L663.48 498.27Z" fill="#05b4fc" stroke="#fff" stroke-opacity="0.42"/>
<path d="M660.91 496.37 L659.75 497.58 L661.36 500.43 L662.52 499.31Z" fill="#05adfc" stroke="#fff" stroke-opacity="0.42"/>
<path d="M659.75 497.58 L658.45 498.79 L660.05 501.53 L661.36 500.43Z" fill="#05a6fc" stroke="#fff" stroke-opacity="0.42"/>
<path d="M658.45 498.79 L657.02 499.96 L658.63 502.61 L660.05 501.53Z" fill="#059ffc" stroke="#fff" stroke-opacity="0.42"/>
<path d="M657.02 499.96 L655.5 501.08 L657.1 503.63 L658.63 502.61Z" fill="#0599fc" stroke="#fff" stroke-opacity="0.42"/>
<path d="M655.5 501.08 L653.87 502.12 L655.48 504.59 L657.1 503.63Z" fill="#0593fc" stroke="#fff" stroke-opacity="0.42"/>
<path d="M653.87 502.12 L652.17 503.09 L653.77 505.48 L655.48 504.59Z" fill="#058efc" stroke="#fff" stroke-opacity="0.42"/>
<path d="M652.17 503.09 L650.39 503.98 L651.99 506.31 L653.77 505.48Z" fill="#058afc" stroke="#fff" stroke-opacity="0.42"/>
<path d="M650.39 503.98 L648.54 504.79 L650.14 507.07 L651.99 506.31Z" fill="#0586fc" stroke="#fff" stroke-opacity="0.42"/>
<path d="M648.54 504.79 L646.62 505.53 L648.22 507.78 L650.14 507.07Z" fill="#0583fc" stroke="#fff" stroke-opacity="0.42"/>
<path d="M646.62 505.53 L644.64 506.21 L646.24 508.43 L648.22 507.78Z" fill="#0581fc" stroke="#fff" stroke-opacity="0.42"/>
<path d="M664.11 497.53 L663.48 498.27 L665.15 501.2 L665.78 500.51Z" fill="#05b4fc" stroke="#fff" stroke-opacity="0.42"/>
<path d="M663.48 498.27 L662.52 499.31 L664.18 502.17 L665.15 501.2Z" fill="#05aefc" stroke="#fff" stroke-opacity="0.42"/>
<path d="M662.52 499.31 L661.36 500.43 L663.03 503.21 L664.18 502.17Z" fill="#05a8fc" stroke="#fff" stroke-opacity="0.42"/>
<path d="M661.36 500.43 L660.05 501.53 L661.72 504.24 L663.03 503.21Z" fill="#05a2fc" stroke="#fff" stroke-opacity="0.42"/>
<path d="M660.05 501.53 L658.63 502.61 L660.3 505.24 L661.72 504.24Z" fill="#059cfc" stroke="#fff" stroke-opacity="0.42"/>
<path d="M658.63 502.61 L657.1 503.63 L658.77 506.19 L660.3 505.24Z" fill="#0596fc" stroke="#fff" stroke-opacity="0.42"/>
<path d="M657.1 503.63 L655.48 504.59 L657.14 507.09 L658.77 506.19Z" fill="#0591fc" stroke="#fff" stroke-opacity="0.42"/>
<path d="M655.48 504.59 L653.77 505.48 L655.44 507.93 L657.14 507.09Z" fill="#058dfc" stroke="#fff" stroke-opacity="0.42"/>
<path d="M653.77 505.48 L651.99 506.31 L653.66 508.71 L655.44 507.93Z" fill="#0589fc" stroke="#fff" stroke-opacity="0.42"/>
<path d="M651.99 506.31 L650.14 507.07 L651.81 509.43 L653.66 508.71Z" fill="#0585fc" stroke="#fff" stroke-opacity="0.42"/>
<path d="M650.14 507.07 L648.22 507.78 L649.89 510.11 L651.81 509.43Z" fill="#0582fc" stroke="#fff" stroke-opacity="0.42"/>
<path d="M665.78 500.51 L665.15 501.2 L666.88 504.04 L667.5 503.39Z" fill="#05affc" stroke="#fff" stroke-opacity="0.42"/>
<path d="M665.15 501.2 L664.18 502.17 L665.91 504.96 L666.88 504.04Z" fill="#05aafc" stroke="#fff" stroke-opacity="0.42"/>
<path d="M664.18 502.17 L663.03 503.21 L664.75 505.95 L665.91 504.96Z" fill="#05a4fc" stroke="#fff" stroke-opacity="0.42"/>
<path d="M663.03 503.21 L661.72 504.24 L663.45 506.93 L664.75 505.95Z" fill="#059efc" stroke="#fff" stroke-opacity="0.42"/>
<path d="M661.72 504.24 L660.3 505.24 L662.02 507.87 L663.45 506.93Z" fill="#0599fc" stroke="#fff" stroke-opacity="0.42"/>
<path d="M660.3 505.24 L658.77 506.19 L660.49 508.77 L662.02 507.87Z" fill="#0594fc" stroke="#fff" stroke-opacity="0.42"/>
<path d="M658.77 506.19 L657.14 507.09 L658.87 509.62 L660.49 508.77Z" fill="#058ffc" stroke="#fff" stroke-opacity="0.42"/>
<path d="M657.14 507.09 L655.44 507.93 L657.17 510.42 L658.87 509.62Z" fill="#058bfc" stroke="#fff" stroke-opacity="0.42"/>
<path d="M655.44 507.93 L653.66 508.71 L655.39 511.16 L657.17 510.42Z" fill="#0587fc" stroke="#fff" stroke-opacity="0.42"/>
<path d="M653.66 508.71 L651.81 509.43 L653.53 511.86 L655.39 511.16Z" fill="#0584fc" stroke="#fff" stroke-opacity="0.42"/>
<path d="M667.5 503.39 L666.88 504.04 L668.66 506.84 L669.28 506.22Z" fill="#05acfc" stroke="#fff" stroke-opacity="0.42"/>
<path d="M666.88 504.04 L665.91 504.96 L667.69 507.72 L668.66 506.84Z" fill="#05a7fc" stroke="#fff" stroke-opacity="0.42"/>
<path d="M665.91 504.96 L664.75 505.95 L666.53 508.66 L667.69 507.72Z" fill="#05a1fc" stroke="#fff" stroke-opacity="0.42"/>
<path d="M664.75 505.95 L663.45 506.93 L665.23 509.6 L666.53 508.66Z" fill="#059cfc" stroke="#fff" stroke-opacity="0.42"/>
<path d="M663.45 506.93 L662.02 507.87 L663.8 510.51 L665.23 509.6Z" fill="#0597fc" stroke="#fff" stroke-opacity="0.42"/>
<path d="M662.02 507.87 L660.49 508.77 L662.28 511.38 L663.8 510.51Z" fill="#0592fc" stroke="#fff" stroke-opacity="0.42"/>
<path d="M660.49 508.77 L658.87 509.62 L660.65 512.19 L662.28 511.38Z" fill="#058efc" stroke="#fff" stroke-opacity="0.42"/>
<path d="M658.87 509.62 L657.17 510.42 L658.95 512.96 L660.65 512.19Z" fill="#058afc" stroke="#fff" stroke-opacity="0.42"/>
<path d="M657.17 510.42 L655.39 511.16 L657.17 513.67 L658.95 512.96Z" fill="#0586fc" stroke="#fff" stroke-opacity="0.42"/>
<path d="M655.39 511.16 L653.53 511.86 L655.32 514.34 L657.17 513.67Z" fill="#0584fc" stroke="#fff" stroke-opacity="0.42"/>
<path d="M669.28 506.22 L668.66 506.84 L670.5 509.61 L671.12 509.01Z" fill="#05a9fc" stroke="#fff" stroke-opacity="0.42"/>
<path d="M668.66 506.84 L667.69 507.72 L669.53 510.45 L670.5 509.61Z" fill="#05a4fc" stroke="#fff" stroke-opacity="0.42"/>
<path d="M667.69 507.72 L666.53 508.66 L668.37 511.36 L669.53 510.45Z" fill="#059ffc" stroke="#fff" stroke-opacity="0.42"/>
<path d="M666.53 508.66 L665.23 509.6 L667.07 512.28 L668.37 511.36Z" fill="#059afc" stroke="#fff" stroke-opacity="0.42"/>
<path d="M665.23 509.6 L663.8 510.51 L665.64 513.16 L667.07 512.28Z" fill="#0595fc" stroke="#fff" stroke-opacity="0.42"/>
<path d="M663.8 510.51 L662.28 511.38 L664.11 514 L665.64 513.16Z" fill="#0590fc" stroke="#fff" stroke-opacity="0.42"/>
<path d="M662.28 511.38 L660.65 512.19 L662.49 514.79 L664.11 514Z" fill="#058cfc" stroke="#fff" stroke-opacity="0.42"/>
<path d="M660.65 512.19 L658.95 512.96 L660.78 515.54 L662.49 514.79Z" fill="#0589fc" stroke="#fff" stroke-opacity="0.42"/>
<path d="M658.95 512.96 L657.17 513.67 L659 516.23 L660.78 515.54Z" fill="#0586fc" stroke="#fff" stroke-opacity="0.42"/>
</g>
<path d="M630.07 343.36 L630.8 343.17 L675.6 403.57 L674.87 403.76Z" fill="#fc0505" stroke="#fc0505" stroke-width="0.7"/>
<path d="M629.29 343.57 L630.07 343.36 L674.87 403.76 L674.09 403.97Z" fill="#fc0505" stroke="#fc0505" stroke-width="0.7"/>
<path d="M628.51 343.77 L629.29 343.57 L674.09 403.97 L673.31 404.17Z" fill="#fc0505" stroke="#fc0505" stroke-width="0.7"/>
<path d="M627.72 343.98 L628.51 343.77 L673.31 404.17 L672.52 404.38Z" fill="#fc0505" stroke="#fc0505" stroke-width="0.7"/>
<path d="M626.94 344.19 L627.72 343.98 L672.52 404.38 L671.74 404.59Z" fill="#fc0505" stroke="#fc0505" stroke-width="0.7"/>
<path d="M626.15 344.39 L626.94 344.19 L671.74 404.59 L670.95 404.79Z" fill="#fc0505" stroke="#fc0505" stroke-width="0.7"/>
<path d="M625.37 344.6 L626.15 344.39 L670.95 404.79 L670.17 405Z" fill="#fc0505" stroke="#fc0505" stroke-width="0.7"/>
<path d="M624.59 344.8 L625.37 344.6 L670.17 405 L669.39 405.2Z" fill="#fc0505" stroke="#fc0505" stroke-width="0.7"/>
<path d="M623.8 345.01 L624.59 344.8 L669.39 405.2 L668.6 405.41Z" fill="#fc0505" stroke="#fc0505" stroke-width="0.7"/>
<path d="M623.02 345.22 L623.8 345.01 L668.6 405.41 L667.82 405.62Z" fill="#fc0505" stroke="#fc0505" stroke-width="0.7"/>
<path d="M622.23 345.42 L623.02 345.22 L667.82 405.62 L667.03 405.82Z" fill="#fc0505" stroke="#fc0505" stroke-width="0.7"/>
<path d="M621.45 345.63 L622.23 345.42 L667.03 405.82 L666.25 406.03Z" fill="#fc0505" stroke="#fc0505" stroke-width="0.7"/>
<path d="M620.67 345.83 L621.45 345.63 L666.25 406.03 L665.47 406.23Z" fill="#fc0505" stroke="#fc0505" stroke-width="0.7"/>
<path d="M619.88 346.04 L620.67 345.83 L665.47 406.23 L664.68 406.44Z" fill="#fc0505" stroke="#fc0505" stroke-width="0.7"/>
<path d="M619.1 346.25 L619.88 346.04 L664.68 406.44 L663.9 406.65Z" fill="#fc0505" stroke="#fc0505" stroke-width="0.7"/>
<path d="M618.31 346.47 L619.1 346.25 L663.9 406.65 L663.11 406.87Z" fill="#fc0505" stroke="#fc0505" stroke-width="0.7"/>
<path d="M617.53 346.71 L618.31 346.47 L663.11 406.87 L662.33 407.11Z" fill="#fc0605" stroke="#fc0605" stroke-width="0.7"/>
<path d="M616.75 346.95 L617.53 346.71 L662.33 407.11 L661.55 407.35Z" fill="#fc0705" stroke="#fc0705" stroke-width="0.7"/>
<path d="M615.96 347.19 L616.75 346.95 L661.55 407.35 L660.76 407.59Z" fill="#fc0805" stroke="#fc0805" stroke-width="0.7"/>
<path d="M615.18 347.43 L615.96 347.19 L660.76 407.59 L659.98 407.83Z" fill="#fc0805" stroke="#fc0805" stroke-width="0.7"/>
<path d="M614.39 347.67 L615.18 347.43 L659.98 407.83 L659.19 408.07Z" fill="#fc0905" stroke="#fc0905" stroke-width="0.7"/>
<path d="M613.61 347.9 L614.39 347.67 L659.19 408.07 L658.41 408.3Z" fill="#fc0a05" stroke="#fc0a05" stroke-width="0.7"/>
<path d="M612.83 348.15 L613.61 347.9 L658.41 408.3 L657.63 408.55Z" fill="#fc0a05" stroke="#fc0a05" stroke-width="0.7"/>
<path d="M612.04 348.41 L612.83 348.15 L657.63 408.55 L656.84 408.81Z" fill="#fc0b05" stroke="#fc0b05" stroke-width="0.7"/>
<path d="M611.26 348.67 L612.04 348.41 L656.84 408.81 L656.06 409.07Z" fill="#fc0c05" stroke="#fc0c05" stroke-width="0.7"/>
<path d="M610.47 348.92 L611.26 348.67 L656.06 409.07 L655.27 409.32Z" fill="#fc0d05" stroke="#fc0d05" stroke-width="0.7"/>
<path d="M609.69 349.18 L610.47 348.92 L655.27 409.32 L654.49 409.58Z" fill="#fc0e05" stroke="#fc0e05" stroke-width="0.7"/>
<path d="M608.91 349.44 L609.69 349.18 L654.49 409.58 L653.71 409.84Z" fill="#fc0f05" stroke="#fc0f05" stroke-width="0.7"/>
<path d="M608.12 349.7 L608.91 349.44 L653.71 409.84 L652.92 410.1Z" fill="#fc1005" stroke="#fc1005" stroke-width="0.7"/>
<path d="M607.34 349.96 L608.12 349.7 L652.92 410.1 L652.14 410.36Z" fill="#fc1105" stroke="#fc1105" stroke-width="0.7"/>
<path d="M606.55 350.21 L607.34 349.96 L652.14 410.36 L651.35 410.61Z" fill="#fc1105" stroke="#fc1105" stroke-width="0.7"/>
<path d="M605.77 350.47 L606.55 350.21 L651.35 410.61 L650.57 410.87Z" fill="#fc1205" stroke="#fc1205" stroke-width="0.7"/>
<path d="M604.99 350.73 L605.77 350.47 L650.57 410.87 L649.79 411.13Z" fill="#fc1305" stroke="#fc1305" stroke-width="0.7"/>
<path d="M604.2 350.99 L604.99 350.73 L649.79 411.13 L649 411.39Z" fill="#fc1405" stroke="#fc1405" stroke-width="0.7"/>
<path d="M603.42 351.25 L604.2 350.99 L649 411.39 L648.22 411.65Z" fill="#fc1505" stroke="#fc1505" stroke-width="0.7"/>
<path d="M602.63 351.51 L603.42 351.25 L648.22 411.65 L647.43 411.91Z" fill="#fc1605" stroke="#fc1605" stroke-width="0.7"/>
<path d="M601.85 351.77 L602.63 351.51 L647.43 411.91 L646.65 412.17Z" fill="#fc1705" stroke="#fc1705" stroke-width="0.7"/>
<path d="M601.07 352.03 L601.85 351.77 L646.65 412.17 L645.87 412.43Z" fill="#fc1805" stroke="#fc1805" stroke-width="0.7"/>
<path d="M600.28 352.31 L601.07 352.03 L645.87 412.43 L645.08 412.71Z" fill="#fc1905" stroke="#fc1905" stroke-width="0.7"/>
<path d="M599.5 352.58 L600.28 352.31 L645.08 412.71 L644.3 412.98Z" fill="#fc1a05" stroke="#fc1a05" stroke-width="0.7"/>
<path d="M598.71 352.86 L599.5 352.58 L644.3 412.98 L643.51 413.26Z" fill="#fc1b05" stroke="#fc1b05" stroke-width="0.7"/>
<path d="M597.93 353.14 L598.71 352.86 L643.51 413.26 L642.73 413.54Z" fill="#fc1c05" stroke="#fc1c05" stroke-width="0.7"/>
<path d="M597.15 353.41 L597.93 353.14 L642.73 413.54 L641.95 413.81Z" fill="#fc1d05" stroke="#fc1d05" stroke-width="0.7"/>
<path d="M596.36 353.69 L597.15 353.41 L641.95 413.81 L641.16 414.09Z" fill="#fc1e05" stroke="#fc1e05" stroke-width="0.7"/>
<path d="M595.58 353.97 L596.36 353.69 L641.16 414.09 L640.38 414.37Z" fill="#fc1f05" stroke="#fc1f05" stroke-width="0.7"/>
<path d="M594.79 354.25 L595.58 353.97 L640.38 414.37 L639.59 414.65Z" fill="#fc2005" stroke="#fc2005" stroke-width="0.7"/>
<path d="M594.01 354.53 L594.79 354.25 L639.59 414.65 L638.81 414.93Z" fill="#fc2105" stroke="#fc2105" stroke-width="0.7"/>
<path d="M593.23 354.82 L594.01 354.53 L638.81 414.93 L638.03 415.22Z" fill="#fc2205" stroke="#fc2205" stroke-width="0.7"/>
<path d="M592.44 355.12 L593.23 354.82 L638.03 415.22 L637.24 415.52Z" fill="#fc2305" stroke="#fc2305" stroke-width="0.7"/>
<path d="M591.66 355.41 L592.44 355.12 L637.24 415.52 L636.46 415.81Z" fill="#fc2405" stroke="#fc2405" stroke-width="0.7"/>
<path d="M590.87 355.71 L591.66 355.41 L636.46 415.81 L635.67 416.11Z" fill="#fc2505" stroke="#fc2505" stroke-width="0.7"/>
<path d="M590.09 356 L590.87 355.71 L635.67 416.11 L634.89 416.4Z" fill="#fc2605" stroke="#fc2605" stroke-width="0.7"/>
<path d="M589.31 356.29 L590.09 356 L634.89 416.4 L634.11 416.69Z" fill="#fc2805" stroke="#fc2805" stroke-width="0.7"/>
<path d="M588.52 356.61 L589.31 356.29 L634.11 416.69 L633.32 417.01Z" fill="#fc2905" stroke="#fc2905" stroke-width="0.7"/>
<path d="M587.74 356.93 L588.52 356.61 L633.32 417.01 L632.54 417.33Z" fill="#fc2a05" stroke="#fc2a05" stroke-width="0.7"/>
<path d="M586.95 357.25 L587.74 356.93 L632.54 417.33 L631.75 417.65Z" fill="#fc2b05" stroke="#fc2b05" stroke-width="0.7"/>
<path d="M586.17 357.57 L586.95 357.25 L631.75 417.65 L630.97 417.97Z" fill="#fc2d05" stroke="#fc2d05" stroke-width="0.7"/>
<path d="M585.39 357.89 L586.17 357.57 L630.97 417.97 L630.19 418.29Z" fill="#fc2e05" stroke="#fc2e05" stroke-width="0.7"/>
<path d="M584.6 358.21 L585.39 357.89 L630.19 418.29 L629.4 418.61Z" fill="#fc2f05" stroke="#fc2f05" stroke-width="0.7"/>
<path d="M583.82 358.53 L584.6 358.21 L629.4 418.61 L628.62 418.93Z" fill="#fc3105" stroke="#fc3105" stroke-width="0.7"/>
<path d="M583.03 358.86 L583.82 358.53 L628.62 418.93 L627.83 419.26Z" fill="#fc3205" stroke="#fc3205" stroke-width="0.7"/>
<path d="M582.25 359.2 L583.03 358.86 L627.83 419.26 L627.05 419.6Z" fill="#fc3405" stroke="#fc3405" stroke-width="0.7"/>
<path d="M581.47 359.54 L582.25 359.2 L627.05 419.6 L626.27 419.94Z" fill="#fc3505" stroke="#fc3505" stroke-width="0.7"/>
<path d="M580.68 359.88 L581.47 359.54 L626.27 419.94 L625.48 420.28Z" fill="#fc3705" stroke="#fc3705" stroke-width="0.7"/>
<path d="M579.9 360.23 L580.68 359.88 L625.48 420.28 L624.7 420.63Z" fill="#fc3805" stroke="#fc3805" stroke-width="0.7"/>
<path d="M579.11 360.57 L579.9 360.23 L624.7 420.63 L623.91 420.97Z" fill="#fc3a05" stroke="#fc3a05" stroke-width="0.7"/>
<path d="M578.33 360.97 L579.11 360.57 L623.91 420.97 L623.13 421.37Z" fill="#fc3b05" stroke="#fc3b05" stroke-width="0.7"/>
<path d="M577.55 361.38 L578.33 360.97 L623.13 421.37 L622.35 421.78Z" fill="#fc3d05" stroke="#fc3d05" stroke-width="0.7"/>
<path d="M576.76 361.78 L577.55 361.38 L622.35 421.78 L621.56 422.18Z" fill="#fc3f05" stroke="#fc3f05" stroke-width="0.7"/>
<path d="M575.98 362.18 L576.76 361.78 L621.56 422.18 L620.78 422.58Z" fill="#fc4105" stroke="#fc4105" stroke-width="0.7"/>
<path d="M575.19 362.64 L575.98 362.18 L620.78 422.58 L619.99 423.04Z" fill="#fc4305" stroke="#fc4305" stroke-width="0.7"/>
<path d="M574.41 363.1 L575.19 362.64 L619.99 423.04 L619.21 423.5Z" fill="#fc4605" stroke="#fc4605" stroke-width="0.7"/>
<path d="M573.63 363.56 L574.41 363.1 L619.21 423.5 L618.43 423.96Z" fill="#fc4805" stroke="#fc4805" stroke-width="0.7"/>
<path d="M572.84 364.04 L573.63 363.56 L618.43 423.96 L617.64 424.44Z" fill="#fc4b05" stroke="#fc4b05" stroke-width="0.7"/>
<path d="M572.06 364.56 L572.84 364.04 L617.64 424.44 L616.86 424.96Z" fill="#fc4d05" stroke="#fc4d05" stroke-width="0.7"/>
<path d="M571.27 365.08 L572.06 364.56 L616.86 424.96 L616.07 425.48Z" fill="#fc5005" stroke="#fc5005" stroke-width="0.7"/>
<path d="M570.49 365.6 L571.27 365.08 L616.07 425.48 L615.29 426Z" fill="#fc5305" stroke="#fc5305" stroke-width="0.7"/>
<path d="M569.71 366.25 L570.49 365.6 L615.29 426 L614.51 426.65Z" fill="#fc5605" stroke="#fc5605" stroke-width="0.7"/>
<path d="M568.92 366.89 L569.71 366.25 L614.51 426.65 L613.72 427.29Z" fill="#fc5a05" stroke="#fc5a05" stroke-width="0.7"/>
<path d="M568.37 367.54 L568.92 366.89 L613.72 427.29 L613.17 427.94Z" fill="#fc5e05" stroke="#fc5e05" stroke-width="0.7"/>
<path d="M567.83 368.23 L568.37 367.54 L613.17 427.94 L612.63 428.63Z" fill="#fc6205" stroke="#fc6205" stroke-width="0.7"/>
<path d="M567.28 369.15 L567.83 368.23 L612.63 428.63 L612.08 429.55Z" fill="#fc6705" stroke="#fc6705" stroke-width="0.7"/>
<path d="M566.89 369.83 L567.28 369.15 L612.08 429.55 L611.69 430.23Z" fill="#fc6d05" stroke="#fc6d05" stroke-width="0.7"/>
<path d="M566.51 370.61 L566.89 369.83 L611.69 430.23 L611.31 431.01Z" fill="#fc7205" stroke="#fc7205" stroke-width="0.7"/>
<path d="M566.12 371.48 L566.51 370.61 L611.31 431.01 L610.92 431.88Z" fill="#fc7705" stroke="#fc7705" stroke-width="0.7"/>
<path d="M565.74 372.34 L566.12 371.48 L610.92 431.88 L610.54 432.74Z" fill="#fc7d05" stroke="#fc7d05" stroke-width="0.7"/>
<path d="M565.36 373.33 L565.74 372.34 L610.54 432.74 L610.16 433.73Z" fill="#fc8405" stroke="#fc8405" stroke-width="0.7"/>
<path d="M565.09 374.16 L565.36 373.33 L610.16 433.73 L609.89 434.56Z" fill="#fc8a05" stroke="#fc8a05" stroke-width="0.7"/>
<path d="M564.82 374.99 L565.09 374.16 L609.89 434.56 L609.62 435.39Z" fill="#fc9005" stroke="#fc9005" stroke-width="0.7"/>
<path d="M564.55 375.82 L564.82 374.99 L609.62 435.39 L609.35 436.22Z" fill="#fc9605" stroke="#fc9605" stroke-width="0.7"/>
<path d="M564.28 376.76 L564.55 375.82 L609.35 436.22 L609.08 437.16Z" fill="#fc9c05" stroke="#fc9c05" stroke-width="0.7"/>
<path d="M564.09 377.51 L564.28 376.76 L609.08 437.16 L608.89 437.91Z" fill="#fca205" stroke="#fca205" stroke-width="0.7"/>
<path d="M563.9 378.26 L564.09 377.51 L608.89 437.91 L608.7 438.66Z" fill="#fca705" stroke="#fca705" stroke-width="0.7"/>
<path d="M563.72 379.01 L563.9 378.26 L608.7 438.66 L608.52 439.41Z" fill="#fcad05" stroke="#fcad05" stroke-width="0.7"/>
<path d="M563.53 379.76 L563.72 379.01 L608.52 439.41 L608.33 440.16Z" fill="#fcb205" stroke="#fcb205" stroke-width="0.7"/>
<path d="M563.34 380.59 L563.53 379.76 L608.33 440.16 L608.14 440.99Z" fill="#fcb805" stroke="#fcb805" stroke-width="0.7"/>
<path d="M563.15 381.58 L563.34 380.59 L608.14 440.99 L607.95 441.98Z" fill="#fcbe05" stroke="#fcbe05" stroke-width="0.7"/>
<path d="M562.96 382.57 L563.15 381.58 L607.95 441.98 L607.76 442.97Z" fill="#fcc505" stroke="#fcc505" stroke-width="0.7"/>
<path d="M562.77 383.57 L562.96 382.57 L607.76 442.97 L607.57 443.97Z" fill="#fccc05" stroke="#fccc05" stroke-width="0.7"/>
<path d="M562.59 384.56 L562.77 383.57 L607.57 443.97 L607.39 444.96Z" fill="#fcd405" stroke="#fcd405" stroke-width="0.7"/>
<path d="M562.4 385.56 L562.59 384.56 L607.39 444.96 L607.2 445.96Z" fill="#fcdb05" stroke="#fcdb05" stroke-width="0.7"/>
<path d="M562.27 386.57 L562.4 385.56 L607.2 445.96 L607.07 446.97Z" fill="#fce205" stroke="#fce205" stroke-width="0.7"/>
<path d="M562.13 387.58 L562.27 386.57 L607.07 446.97 L606.93 447.98Z" fill="#fce905" stroke="#fce905" stroke-width="0.7"/>
<path d="M562 388.6 L562.13 387.58 L606.93 447.98 L606.8 449Z" fill="#fcf105" stroke="#fcf105" stroke-width="0.7"/>
<path d="M561.87 389.61 L562 388.6 L606.8 449 L606.67 450.01Z" fill="#fcf805" stroke="#fcf805" stroke-width="0.7"/>
<path d="M561.74 390.62 L561.87 389.61 L606.67 450.01 L606.54 451.02Z" fill="#f8f405" stroke="#f8f405" stroke-width="0.7"/>
<path d="M561.61 391.63 L561.74 390.62 L606.54 451.02 L606.41 452.03Z" fill="#f1f405" stroke="#f1f405" stroke-width="0.7"/>
<path d="M561.48 392.64 L561.61 391.63 L606.41 452.03 L606.28 453.04Z" fill="#eaf405" stroke="#eaf405" stroke-width="0.7"/>
<path d="M561.34 393.66 L561.48 392.64 L606.28 453.04 L606.14 454.06Z" fill="#e2f405" stroke="#e2f405" stroke-width="0.7"/>
<path d="M561.21 394.67 L561.34 393.66 L606.14 454.06 L606.01 455.07Z" fill="#dbf405" stroke="#dbf405" stroke-width="0.7"/>
<path d="M561.08 395.68 L561.21 394.67 L606.01 455.07 L605.88 456.08Z" fill="#d4f405" stroke="#d4f405" stroke-width="0.7"/>
<path d="M560.99 396.44 L561.08 395.68 L605.88 456.08 L605.79 456.84Z" fill="#cdf405" stroke="#cdf405" stroke-width="0.7"/>
<path d="M560.92 397.22 L560.99 396.44 L605.79 456.84 L605.72 457.62Z" fill="#c7f405" stroke="#c7f405" stroke-width="0.7"/>
<path d="M560.86 398 L560.92 397.22 L605.72 457.62 L605.66 458.4Z" fill="#c2f405" stroke="#c2f405" stroke-width="0.7"/>
<path d="M560.79 398.78 L560.86 398 L605.66 458.4 L605.59 459.18Z" fill="#bcf405" stroke="#bcf405" stroke-width="0.7"/>
<path d="M560.73 399.56 L560.79 398.78 L605.59 459.18 L605.53 459.96Z" fill="#b6f405" stroke="#b6f405" stroke-width="0.7"/>
<path d="M560.66 400.33 L560.73 399.56 L605.53 459.96 L605.46 460.73Z" fill="#b1f405" stroke="#b1f405" stroke-width="0.7"/>
<path d="M560.6 401.11 L560.66 400.33 L605.46 460.73 L605.4 461.51Z" fill="#abf405" stroke="#abf405" stroke-width="0.7"/>
<path d="M560.54 401.89 L560.6 401.11 L605.4 461.51 L605.34 462.29Z" fill="#a5f405" stroke="#a5f405" stroke-width="0.7"/>
<path d="M560.47 402.67 L560.54 401.89 L605.34 462.29 L605.27 463.07Z" fill="#9ff405" stroke="#9ff405" stroke-width="0.7"/>
<path d="M560.41 403.45 L560.47 402.67 L605.27 463.07 L605.21 463.85Z" fill="#9af405" stroke="#9af405" stroke-width="0.7"/>
<path d="M560.34 404.22 L560.41 403.45 L605.21 463.85 L605.14 464.62Z" fill="#94f405" stroke="#94f405" stroke-width="0.7"/>
<path d="M560.28 405 L560.34 404.22 L605.14 464.62 L605.08 465.4Z" fill="#8ef405" stroke="#8ef405" stroke-width="0.7"/>
<path d="M560.21 405.78 L560.28 405 L605.08 465.4 L605.01 466.18Z" fill="#89f405" stroke="#89f405" stroke-width="0.7"/>
<path d="M560.15 406.56 L560.21 405.78 L605.01 466.18 L604.95 466.96Z" fill="#83f405" stroke="#83f405" stroke-width="0.7"/>
<path d="M560.08 407.34 L560.15 406.56 L604.95 466.96 L604.88 467.74Z" fill="#7df405" stroke="#7df405" stroke-width="0.7"/>
<path d="M560.02 408.12 L560.08 407.34 L604.88 467.74 L604.82 468.52Z" fill="#77f405" stroke="#77f405" stroke-width="0.7"/>
<path d="M559.95 408.89 L560.02 408.12 L604.82 468.52 L604.75 469.29Z" fill="#72f405" stroke="#72f405" stroke-width="0.7"/>
<path d="M559.89 409.67 L559.95 408.89 L604.75 469.29 L604.69 470.07Z" fill="#6cf405" stroke="#6cf405" stroke-width="0.7"/>
<path d="M559.83 410.45 L559.89 409.67 L604.69 470.07 L604.63 470.85Z" fill="#66f405" stroke="#66f405" stroke-width="0.7"/>
<path d="M559.76 411.23 L559.83 410.45 L604.63 470.85 L604.56 471.63Z" fill="#61f405" stroke="#61f405" stroke-width="0.7"/>
<path d="M559.7 412.01 L559.76 411.23 L604.56 471.63 L604.5 472.41Z" fill="#5bf405" stroke="#5bf405" stroke-width="0.7"/>
<path d="M559.63 412.79 L559.7 412.01 L604.5 472.41 L604.43 473.19Z" fill="#55f405" stroke="#55f405" stroke-width="0.7"/>
<path d="M559.57 413.56 L559.63 412.79 L604.43 473.19 L604.37 473.96Z" fill="#4ff405" stroke="#4ff405" stroke-width="0.7"/>
<path d="M559.5 414.34 L559.57 413.56 L604.37 473.96 L604.3 474.74Z" fill="#4af405" stroke="#4af405" stroke-width="0.7"/>
<path d="M559.44 415.12 L559.5 414.34 L604.3 474.74 L604.24 475.52Z" fill="#44f405" stroke="#44f405" stroke-width="0.7"/>
<path d="M559.37 415.87 L559.44 415.12 L604.24 475.52 L604.17 476.27Z" fill="#3ef405" stroke="#3ef405" stroke-width="0.7"/>
<path d="M559.28 416.86 L559.37 415.87 L604.17 476.27 L604.08 477.26Z" fill="#38f405" stroke="#38f405" stroke-width="0.7"/>
<path d="M559.19 417.85 L559.28 416.86 L604.08 477.26 L603.99 478.25Z" fill="#31f405" stroke="#31f405" stroke-width="0.7"/>
<path d="M559.1 418.85 L559.19 417.85 L603.99 478.25 L603.9 479.25Z" fill="#29f405" stroke="#29f405" stroke-width="0.7"/>
<path d="M559 419.84 L559.1 418.85 L603.9 479.25 L603.8 480.24Z" fill="#22f405" stroke="#22f405" stroke-width="0.7"/>
<path d="M558.91 420.83 L559 419.84 L603.8 480.24 L603.71 481.23Z" fill="#1bf405" stroke="#1bf405" stroke-width="0.7"/>
<path d="M558.82 421.82 L558.91 420.83 L603.71 481.23 L603.62 482.22Z" fill="#14f405" stroke="#14f405" stroke-width="0.7"/>
<path d="M558.73 422.82 L558.82 421.82 L603.62 482.22 L603.53 483.22Z" fill="#0cf405" stroke="#0cf405" stroke-width="0.7"/>
<path d="M558.64 423.81 L558.73 422.82 L603.53 483.22 L603.44 484.21Z" fill="#05f405" stroke="#05f405" stroke-width="0.7"/>
<path d="M558.54 424.8 L558.64 423.81 L603.44 484.21 L603.34 485.2Z" fill="#05f40b" stroke="#05f40b" stroke-width="0.7"/>
<path d="M558.45 425.8 L558.54 424.8 L603.34 485.2 L603.25 486.2Z" fill="#05f413" stroke="#05f413" stroke-width="0.7"/>
<path d="M558.36 426.79 L558.45 425.8 L603.25 486.2 L603.16 487.19Z" fill="#05f41a" stroke="#05f41a" stroke-width="0.7"/>
<path d="M558.27 427.78 L558.36 426.79 L603.16 487.19 L603.07 488.18Z" fill="#05f421" stroke="#05f421" stroke-width="0.7"/>
<path d="M558.17 428.78 L558.27 427.78 L603.07 488.18 L602.97 489.18Z" fill="#05f429" stroke="#05f429" stroke-width="0.7"/>
<path d="M558.08 429.77 L558.17 428.78 L602.97 489.18 L602.88 490.17Z" fill="#05f430" stroke="#05f430" stroke-width="0.7"/>
<path d="M557.99 430.76 L558.08 429.77 L602.88 490.17 L602.79 491.16Z" fill="#05f437" stroke="#05f437" stroke-width="0.7"/>
<path d="M557.9 431.76 L557.99 430.76 L602.79 491.16 L602.7 492.16Z" fill="#05f43e" stroke="#05f43e" stroke-width="0.7"/>
<path d="M557.81 432.75 L557.9 431.76 L602.7 492.16 L602.61 493.15Z" fill="#05f446" stroke="#05f446" stroke-width="0.7"/>
<path d="M557.71 433.74 L557.81 432.75 L602.61 493.15 L602.51 494.14Z" fill="#05f44d" stroke="#05f44d" stroke-width="0.7"/>
<path d="M557.62 434.42 L557.71 433.74 L602.51 494.14 L602.42 494.82Z" fill="#05f453" stroke="#05f453" stroke-width="0.7"/>
<path d="M557.49 435.3 L557.62 434.42 L602.42 494.82 L602.29 495.7Z" fill="#05f459" stroke="#05f459" stroke-width="0.7"/>
<path d="M557.36 436.18 L557.49 435.3 L602.29 495.7 L602.16 496.58Z" fill="#05f45f" stroke="#05f45f" stroke-width="0.7"/>
<path d="M557.23 437.06 L557.36 436.18 L602.16 496.58 L602.03 497.46Z" fill="#05f466" stroke="#05f466" stroke-width="0.7"/>
<path d="M557.09 437.95 L557.23 437.06 L602.03 497.46 L601.89 498.35Z" fill="#05f46c" stroke="#05f46c" stroke-width="0.7"/>
<path d="M556.96 438.83 L557.09 437.95 L601.89 498.35 L601.76 499.23Z" fill="#05f472" stroke="#05f472" stroke-width="0.7"/>
<path d="M556.83 439.71 L556.96 438.83 L601.76 499.23 L601.63 500.11Z" fill="#05f479" stroke="#05f479" stroke-width="0.7"/>
<path d="M556.7 440.6 L556.83 439.71 L601.63 500.11 L601.5 501Z" fill="#05f47f" stroke="#05f47f" stroke-width="0.7"/>
<path d="M556.57 441.48 L556.7 440.6 L601.5 501 L601.37 501.88Z" fill="#05f486" stroke="#05f486" stroke-width="0.7"/>
<path d="M556.44 442.36 L556.57 441.48 L601.37 501.88 L601.24 502.76Z" fill="#05f48c" stroke="#05f48c" stroke-width="0.7"/>
<path d="M556.3 443.25 L556.44 442.36 L601.24 502.76 L601.1 503.65Z" fill="#05f492" stroke="#05f492" stroke-width="0.7"/>
<path d="M556.17 444.13 L556.3 443.25 L601.1 503.65 L600.97 504.53Z" fill="#05f499" stroke="#05f499" stroke-width="0.7"/>
<path d="M556.04 445.01 L556.17 444.13 L600.97 504.53 L600.84 505.41Z" fill="#05f49f" stroke="#05f49f" stroke-width="0.7"/>
<path d="M555.91 445.89 L556.04 445.01 L600.84 505.41 L600.71 506.29Z" fill="#05f4a6" stroke="#05f4a6" stroke-width="0.7"/>
<path d="M555.78 446.78 L555.91 445.89 L600.71 506.29 L600.58 507.18Z" fill="#05f4ac" stroke="#05f4ac" stroke-width="0.7"/>
<path d="M555.64 447.66 L555.78 446.78 L600.58 507.18 L600.44 508.06Z" fill="#05f4b2" stroke="#05f4b2" stroke-width="0.7"/>
<path d="M555.51 448.54 L555.64 447.66 L600.44 508.06 L600.31 508.94Z" fill="#05f4b9" stroke="#05f4b9" stroke-width="0.7"/>
<path d="M555.38 449.41 L555.51 448.54 L600.31 508.94 L600.18 509.81Z" fill="#05f4bf" stroke="#05f4bf" stroke-width="0.7"/>
<path d="M555.25 450.21 L555.38 449.41 L600.18 509.81 L600.05 510.61Z" fill="#05f4c5" stroke="#05f4c5" stroke-width="0.7"/>
<path d="M555.12 451 L555.25 450.21 L600.05 510.61 L599.92 511.4Z" fill="#05f4cb" stroke="#05f4cb" stroke-width="0.7"/>
<path d="M554.99 451.8 L555.12 451 L599.92 511.4 L599.79 512.2Z" fill="#05f4d1" stroke="#05f4d1" stroke-width="0.7"/>
<path d="M554.85 452.59 L554.99 451.8 L599.79 512.2 L599.65 512.99Z" fill="#05f4d7" stroke="#05f4d7" stroke-width="0.7"/>
<path d="M554.72 453.39 L554.85 452.59 L599.65 512.99 L599.52 513.79Z" fill="#05f4dc" stroke="#05f4dc" stroke-width="0.7"/>
<path d="M554.59 454.18 L554.72 453.39 L599.52 513.79 L599.39 514.58Z" fill="#05f4e2" stroke="#05f4e2" stroke-width="0.7"/>
<path d="M554.46 454.97 L554.59 454.18 L599.39 514.58 L599.26 515.37Z" fill="#05f4e8" stroke="#05f4e8" stroke-width="0.7"/>
<path d="M554.33 455.77 L554.46 454.97 L599.26 515.37 L599.13 516.17Z" fill="#05f4ee" stroke="#05f4ee" stroke-width="0.7"/>
<path d="M554.2 456.56 L554.33 455.77 L599.13 516.17 L599 516.96Z" fill="#05f4f3" stroke="#05f4f3" stroke-width="0.7"/>
<path d="M554.06 457.36 L554.2 456.56 L599 516.96 L598.86 517.76Z" fill="#05f4f9" stroke="#05f4f9" stroke-width="0.7"/>
<path d="M553.93 458.15 L554.06 457.36 L598.86 517.76 L598.73 518.55Z" fill="#05f9fc" stroke="#05f9fc" stroke-width="0.7"/>
<path d="M553.8 458.95 L553.93 458.15 L598.73 518.55 L598.6 519.35Z" fill="#05f3fc" stroke="#05f3fc" stroke-width="0.7"/>
<path d="M553.67 459.74 L553.8 458.95 L598.6 519.35 L598.47 520.14Z" fill="#05eefc" stroke="#05eefc" stroke-width="0.7"/>
<path d="M553.54 460.54 L553.67 459.74 L598.47 520.14 L598.34 520.94Z" fill="#05e8fc" stroke="#05e8fc" stroke-width="0.7"/>
<path d="M553.4 461.33 L553.54 460.54 L598.34 520.94 L598.2 521.73Z" fill="#05e2fc" stroke="#05e2fc" stroke-width="0.7"/>
<path d="M553.22 462.25 L553.4 461.33 L598.2 521.73 L598.02 522.65Z" fill="#05dcfc" stroke="#05dcfc" stroke-width="0.7"/>
<path d="M553.03 463.17 L553.22 462.25 L598.02 522.65 L597.83 523.57Z" fill="#05d5fc" stroke="#05d5fc" stroke-width="0.7"/>
<path d="M552.84 464.08 L553.03 463.17 L597.83 523.57 L597.64 524.48Z" fill="#05cffc" stroke="#05cffc" stroke-width="0.7"/>
<path d="M552.65 465 L552.84 464.08 L597.64 524.48 L597.45 525.4Z" fill="#05c8fc" stroke="#05c8fc" stroke-width="0.7"/>
<path d="M552.46 465.91 L552.65 465 L597.45 525.4 L597.26 526.31Z" fill="#05c2fc" stroke="#05c2fc" stroke-width="0.7"/>
<path d="M552.28 466.83 L552.46 465.91 L597.26 526.31 L597.08 527.23Z" fill="#05bbfc" stroke="#05bbfc" stroke-width="0.7"/>
<path d="M552.09 467.74 L552.28 466.83 L597.08 527.23 L596.89 528.14Z" fill="#05b5fc" stroke="#05b5fc" stroke-width="0.7"/>
<path d="M551.9 468.66 L552.09 467.74 L596.89 528.14 L596.7 529.06Z" fill="#05aefc" stroke="#05aefc" stroke-width="0.7"/>
<path d="M551.71 469.57 L551.9 468.66 L596.7 529.06 L596.51 529.97Z" fill="#05a7fc" stroke="#05a7fc" stroke-width="0.7"/>
<path d="M551.52 470.49 L551.71 469.57 L596.51 529.97 L596.32 530.89Z" fill="#05a1fc" stroke="#05a1fc" stroke-width="0.7"/>
<path d="M551.33 471.4 L551.52 470.49 L596.32 530.89 L596.13 531.8Z" fill="#059afc" stroke="#059afc" stroke-width="0.7"/>
<path d="M551.15 472.14 L551.33 471.4 L596.13 531.8 L595.95 532.54Z" fill="#0594fc" stroke="#0594fc" stroke-width="0.7"/>
<path d="M550.76 472.75 L551.15 472.14 L595.95 532.54 L595.56 533.15Z" fill="#0590fc" stroke="#0590fc" stroke-width="0.7"/>
<path d="M550.21 473.62 L550.76 472.75 L595.56 533.15 L595.01 534.02Z" fill="#058bfc" stroke="#058bfc" stroke-width="0.7"/>
<path d="M549.66 474.5 L550.21 473.62 L595.01 534.02 L594.46 534.9Z" fill="#0585fc" stroke="#0585fc" stroke-width="0.7"/>
<path d="M548.88 475.18 L549.66 474.5 L594.46 534.9 L593.68 535.58Z" fill="#0580fc" stroke="#0580fc" stroke-width="0.7"/>
<path d="M548.1 475.71 L548.88 475.18 L593.68 535.58 L592.9 536.11Z" fill="#057dfc" stroke="#057dfc" stroke-width="0.7"/>
<path d="M547.31 476.11 L548.1 475.71 L592.9 536.11 L592.11 536.51Z" fill="#057afc" stroke="#057afc" stroke-width="0.7"/>
<path d="M546.53 476.37 L547.31 476.11 L592.11 536.51 L591.33 536.77Z" fill="#0579fc" stroke="#0579fc" stroke-width="0.7"/>
<path d="M545.74 476.63 L546.53 476.37 L591.33 536.77 L590.54 537.03Z" fill="#0578fc" stroke="#0578fc" stroke-width="0.7"/>
<path d="M544.96 476.77 L545.74 476.63 L590.54 537.03 L589.76 537.17Z" fill="#0577fc" stroke="#0577fc" stroke-width="0.7"/>
<path d="M544.18 476.91 L544.96 476.77 L589.76 537.17 L588.98 537.31Z" fill="#0577fc" stroke="#0577fc" stroke-width="0.7"/>
<path d="M543.39 477.05 L544.18 476.91 L588.98 537.31 L588.19 537.45Z" fill="#0577fc" stroke="#0577fc" stroke-width="0.7"/>
<path d="M542.61 477.19 L543.39 477.05 L588.19 537.45 L587.41 537.59Z" fill="#0577fc" stroke="#0577fc" stroke-width="0.7"/>
<path d="M541.82 477.34 L542.61 477.19 L587.41 537.59 L586.62 537.74Z" fill="#0577fc" stroke="#0577fc" stroke-width="0.7"/>
<path d="M541.04 477.48 L541.82 477.34 L586.62 537.74 L585.84 537.88Z" fill="#0577fc" stroke="#0577fc" stroke-width="0.7"/>
<path d="M540.26 477.62 L541.04 477.48 L585.84 537.88 L585.06 538.02Z" fill="#0577fc" stroke="#0577fc" stroke-width="0.7"/>
<path d="M539.47 477.76 L540.26 477.62 L585.06 538.02 L584.27 538.16Z" fill="#0577fc" stroke="#0577fc" stroke-width="0.7"/>
<path d="M538.69 477.9 L539.47 477.76 L584.27 538.16 L583.49 538.3Z" fill="#0577fc" stroke="#0577fc" stroke-width="0.7"/>
<path d="M537.9 478.04 L538.69 477.9 L583.49 538.3 L582.7 538.44Z" fill="#0577fc" stroke="#0577fc" stroke-width="0.7"/>
<path d="M537.12 478.18 L537.9 478.04 L582.7 538.44 L581.92 538.58Z" fill="#0577fc" stroke="#0577fc" stroke-width="0.7"/>
<path d="M536.34 478.32 L537.12 478.18 L581.92 538.58 L581.14 538.72Z" fill="#0577fc" stroke="#0577fc" stroke-width="0.7"/>
<path d="M535.55 478.46 L536.34 478.32 L581.14 538.72 L580.35 538.86Z" fill="#0577fc" stroke="#0577fc" stroke-width="0.7"/>
<path d="M534.77 478.6 L535.55 478.46 L580.35 538.86 L579.57 539Z" fill="#0577fc" stroke="#0577fc" stroke-width="0.7"/>
<path d="M533.98 478.74 L534.77 478.6 L579.57 539 L578.78 539.14Z" fill="#0577fc" stroke="#0577fc" stroke-width="0.7"/>
<path d="M533.2 478.88 L533.98 478.74 L578.78 539.14 L578 539.28Z" fill="#0577fc" stroke="#0577fc" stroke-width="0.7"/>
<defs><path id="pf4" d="M578 539.28 L579.6 539 L581.2 538.71 L582.8 538.42 L584.4 538.13 L586 537.85 L587.6 537.56 L589.2 537.27 L590.8 536.94 L592.4 536.41 L594 535.36 L595.12 533.85 L595.9 532.61 L596.45 530.25 L596.84 528.38 L597.22 526.52 L597.61 524.65 L597.99 522.78 L598.37 520.71 L598.76 518.4 L599.14 516.08 L599.53 513.76 L599.91 511.45 L600.29 509.07 L600.56 507.26 L600.83 505.46 L601.1 503.66 L601.37 501.86 L601.64 500.06 L601.91 498.25 L602.18 496.45 L602.45 494.65 L602.63 492.84 L602.82 490.82 L603.01 488.79 L603.2 486.76 L603.39 484.74 L603.58 482.71 L603.76 480.68 L603.95 478.66 L604.14 476.63 L604.33 474.44 L604.52 472.17 L604.7 469.9 L604.89 467.63 L605.08 465.36 L605.27 463.09 L605.46 460.82 L605.65 458.55 L605.83 456.43 L606.1 454.37 L606.37 452.3 L606.64 450.24 L606.91 448.17 L607.18 446.11 L607.56 444.03 L607.95 442 L608.5 439.49 L609.04 437.3 L609.59 435.47 L610.38 433.11 L611.16 431.34 L612.28 429.18 L613.88 427.16 L615.48 425.87 L617.08 424.81 L618.68 423.81 L620.28 422.87 L621.88 422.02 L623.48 421.2 L625.08 420.46 L626.68 419.76 L628.28 419.07 L629.88 418.41 L631.48 417.76 L633.08 417.11 L634.68 416.48 L636.28 415.88 L637.88 415.28 L639.48 414.69 L641.08 414.12 L642.68 413.55 L644.28 412.99 L645.88 412.42 L647.48 411.89 L649.08 411.36 L650.68 410.84 L652.28 410.31 L653.88 409.78 L655.48 409.26 L657.08 408.73 L658.68 408.22 L660.28 407.73 L661.88 407.25 L663.48 406.76 L665.08 406.33 L666.68 405.91 L668.28 405.49 L669.88 405.07 L671.48 404.65 L673.08 404.23 L674.68 403.81 L675.6 403.57"/></defs>
<g stroke="#fff" stroke-opacity="0.42" stroke-width="0.5" fill="none">
<use href="#pf4" transform="translate(-0 -0)"/>
<use href="#pf4" transform="translate(-1.18 -1.59)"/>
<use href="#pf4" transform="translate(-2.36 -3.18)"/>
<use href="#pf4" transform="translate(-3.54 -4.77)"/>
<use href="#pf4" transform="translate(-4.72 -6.36)"/>
<use href="#pf4" transform="translate(-5.89 -7.95)"/>
<use href="#pf4" transform="translate(-7.07 -9.54)"/>
<use href="#pf4" transform="translate(-8.25 -11.13)"/>
<use href="#pf4" transform="translate(-9.43 -12.72)"/>
<use href="#pf4" transform="translate(-10.61 -14.31)"/>
<use href="#pf4" transform="translate(-11.79 -15.89)"/>
<use href="#pf4" transform="translate(-12.97 -17.48)"/>
<use href="#pf4" transform="translate(-14.15 -19.07)"/>
<use href="#pf4" transform="translate(-15.33 -20.66)"/>
<use href="#pf4" transform="translate(-16.51 -22.25)"/>
<use href="#pf4" transform="translate(-17.68 -23.84)"/>
<use href="#pf4" transform="translate(-18.86 -25.43)"/>
<use href="#pf4" transform="translate(-20.04 -27.02)"/>
<use href="#pf4" transform="translate(-21.22 -28.61)"/>
<use href="#pf4" transform="translate(-22.4 -30.2)"/>
<use href="#pf4" transform="translate(-23.58 -31.79)"/>
<use href="#pf4" transform="translate(-24.76 -33.38)"/>
<use href="#pf4" transform="translate(-25.94 -34.97)"/>
<use href="#pf4" transform="translate(-27.12 -36.56)"/>
<use href="#pf4" transform="translate(-28.29 -38.15)"/>
<use href="#pf4" transform="translate(-29.47 -39.74)"/>
<use href="#pf4" transform="translate(-30.65 -41.33)"/>
<use href="#pf4" transform="translate(-31.83 -42.92)"/>
<use href="#pf4" transform="translate(-33.01 -44.51)"/>
<use href="#pf4" transform="translate(-34.19 -46.09)"/>
<use href="#pf4" transform="translate(-35.37 -47.68)"/>
<use href="#pf4" transform="translate(-36.55 -49.27)"/>
<use href="#pf4" transform="translate(-37.73 -50.86)"/>
<use href="#pf4" transform="translate(-38.91 -52.45)"/>
<use href="#pf4" transform="translate(-40.08 -54.04)"/>
<use href="#pf4" transform="translate(-41.26 -55.63)"/>
<use href="#pf4" transform="translate(-42.44 -57.22)"/>
<use href="#pf4" transform="translate(-43.62 -58.81)"/>
<use href="#pf4" transform="translate(-44.8 -60.4)"/>
<path d="M578 539.28 L533.2 478.88M579.99 538.93 L535.19 478.53M581.98 538.57 L537.18 478.17M583.98 538.21 L539.18 477.81M585.97 537.85 L541.17 477.45M587.96 537.5 L543.16 477.1M589.95 537.14 L545.15 476.74M591.94 536.56 L547.14 476.16M593.93 535.41 L549.13 475.01M595.93 532.57 L551.13 472.17M597.92 523.13 L553.12 462.73M599.91 511.45 L555.11 451.05M601.9 498.29 L557.1 437.89M603.89 479.28 L559.09 418.88M605.89 456.04 L561.09 395.64M607.88 442.37 L563.08 381.97M609.87 434.62 L565.07 374.22M611.86 429.93 L567.06 369.53M613.85 427.19 L569.05 366.79M615.84 425.63 L571.04 365.23M617.84 424.31 L573.04 363.91M619.83 423.13 L575.03 362.73M621.82 422.05 L577.02 361.65M623.81 421.03 L579.01 360.63M625.8 420.14 L581 359.74M627.8 419.28 L583 358.88M629.79 418.45 L584.99 358.05M631.78 417.64 L586.98 357.24M633.77 416.83 L588.97 356.43M635.76 416.07 L590.96 355.67M637.76 415.33 L592.96 354.93M639.75 414.59 L594.95 354.19M641.74 413.89 L596.94 353.49M643.73 413.18 L598.93 352.78M645.72 412.48 L600.92 352.08M647.71 411.82 L602.91 351.42M649.71 411.16 L604.91 350.76M651.7 410.5 L606.9 350.1M653.69 409.85 L608.89 349.45M655.68 409.19 L610.88 348.79M657.67 408.54 L612.87 348.14M659.67 407.92 L614.87 347.52M661.66 407.32 L616.86 346.92M663.65 406.71 L618.85 346.31M665.64 406.19 L620.84 345.79M667.63 405.66 L622.83 345.26M669.62 405.14 L624.82 344.74M671.62 404.62 L626.82 344.22M673.61 404.09 L628.81 343.69M675.6 403.57 L630.8 343.17" stroke-opacity="0.3"/>
</g>
<path d="M687.7 535 L566.2 556.8 L521.4 496.4 L521.4 328.8 L642.9 307 L687.7 367.4 L687.7 535" stroke="#000" stroke-width="0.9" fill="none" stroke-linejoin="miter"/>
<line x1="576.8" y1="554.9" x2="574.89" y2="552.33" stroke="#000" stroke-width="0.8"/>
<line x1="601.35" y1="550.49" x2="599.44" y2="547.92" stroke="#000" stroke-width="0.8"/>
<line x1="625.9" y1="546.09" x2="623.99" y2="543.52" stroke="#000" stroke-width="0.8"/>
<line x1="650.45" y1="541.68" x2="648.54" y2="539.11" stroke="#000" stroke-width="0.8"/>
<line x1="675" y1="537.28" x2="673.09" y2="534.71" stroke="#000" stroke-width="0.8"/>
<line x1="566.2" y1="556.8" x2="569.55" y2="556.2" stroke="#000" stroke-width="0.8"/>
<line x1="560.6" y1="549.25" x2="562.57" y2="548.9" stroke="#000" stroke-width="0.8"/>
<line x1="555" y1="541.7" x2="558.35" y2="541.1" stroke="#000" stroke-width="0.8"/>
<line x1="549.4" y1="534.15" x2="551.37" y2="533.8" stroke="#000" stroke-width="0.8"/>
<line x1="543.8" y1="526.6" x2="547.15" y2="526" stroke="#000" stroke-width="0.8"/>
<line x1="538.2" y1="519.05" x2="540.17" y2="518.7" stroke="#000" stroke-width="0.8"/>
<line x1="532.6" y1="511.5" x2="535.95" y2="510.9" stroke="#000" stroke-width="0.8"/>
<line x1="527" y1="503.95" x2="528.97" y2="503.6" stroke="#000" stroke-width="0.8"/>
<line x1="521.4" y1="496.4" x2="524.75" y2="495.8" stroke="#000" stroke-width="0.8"/>
<line x1="589.07" y1="552.7" x2="587.88" y2="551.09" stroke="#000" stroke-width="0.8"/>
<line x1="613.62" y1="548.29" x2="612.43" y2="546.69" stroke="#000" stroke-width="0.8"/>
<line x1="638.17" y1="543.89" x2="636.98" y2="542.28" stroke="#000" stroke-width="0.8"/>
<line x1="662.72" y1="539.48" x2="661.53" y2="537.88" stroke="#000" stroke-width="0.8"/>
<line x1="521.4" y1="440.53" x2="523.4" y2="440.18" stroke="#000" stroke-width="0.8"/>
<line x1="521.4" y1="384.67" x2="523.4" y2="384.32" stroke="#000" stroke-width="0.8"/>
<line x1="521.4" y1="468.47" x2="524.4" y2="467.97" stroke="#000" stroke-width="0.8"/>
<line x1="521.4" y1="412.6" x2="524.4" y2="412.1" stroke="#000" stroke-width="0.8"/>
<line x1="521.4" y1="356.73" x2="524.4" y2="356.23" stroke="#000" stroke-width="0.8"/>
<text x="579.4" y="565.1" font-size="9.5" text-anchor="middle" fill="#262626" transform="rotate(-5.5 579.4 561.8)">400</text>
<text x="604" y="560.7" font-size="9.5" text-anchor="middle" fill="#262626" transform="rotate(-5.5 604 557.4)">300</text>
<text x="628.6" y="556.3" font-size="9.5" text-anchor="middle" fill="#262626" transform="rotate(-5.5 628.6 553)">200</text>
<text x="652.6" y="551.9" font-size="9.5" text-anchor="middle" fill="#262626" transform="rotate(-5.5 652.6 548.6)">100</text>
<text x="677" y="547.3" font-size="9.5" text-anchor="middle" fill="#262626" transform="rotate(-5.5 677 544)">0</text>
<text x="510.6" y="501.7" font-size="9.5" text-anchor="middle" fill="#262626" transform="rotate(-4 510.6 498.4)">300</text>
<text x="522.4" y="517" font-size="9.5" text-anchor="middle" fill="#262626" transform="rotate(-4 522.4 513.7)">150</text>
<text x="538.4" y="531.9" font-size="9.5" text-anchor="middle" fill="#262626" transform="rotate(-4 538.4 528.6)">0</text>
<text x="544.5" y="547.3" font-size="9.5" text-anchor="middle" fill="#262626" transform="rotate(-4 544.5 544)">150</text>
<text x="555.2" y="562.6" font-size="9.5" text-anchor="middle" fill="#262626" transform="rotate(-4 555.2 559.3)">300</text>
<text x="630" y="570.9" font-size="11" text-anchor="middle" font-weight="bold" fill="#111" transform="rotate(-10 630 567.1)">Depth (nm)</text>
<text x="519" y="548.8" font-size="11" text-anchor="middle" font-weight="bold" fill="#111" transform="rotate(53.4 519 545)">R (nm)</text>
<text x="519" y="471.97" font-size="9.6" text-anchor="end" fill="#262626">10<tspan font-size="56%" dy="-0.65em">4</tspan></text>
<text x="519" y="416.1" font-size="9.6" text-anchor="end" fill="#262626">10<tspan font-size="56%" dy="-0.65em">12</tspan></text>
<text x="519" y="360.23" font-size="9.6" text-anchor="end" fill="#262626">10<tspan font-size="56%" dy="-0.65em">20</tspan></text>
<text x="496.8" y="413.3" font-size="11" text-anchor="middle" font-weight="bold" fill="#111" transform="rotate(-90 496.8 413.3)">Hole concentration (1/cm<tspan font-size="60%" dy="-0.5em">3</tspan><tspan dy="0.30em">)</tspan></text>
<text x="529" y="339.8" font-size="9.5" text-anchor="start" fill="#111">Model 4</text>
<line x1="549.6" y1="346.4" x2="556.88" y2="353.96" stroke="#000" stroke-width="1.5"/>
<path d="M560 357.2 L553.89 354.75 L556.95 354.03 L557.78 351.01Z" fill="#000"/>
<text x="622.4" y="528.2" font-size="9.5" text-anchor="middle" fill="#111">Model 3</text>
<line x1="626" y1="519.4" x2="633.25" y2="512.01" stroke="#000" stroke-width="1.5"/>
<path d="M636.4 508.8 L634.13 514.97 L633.32 511.94 L630.27 511.19Z" fill="#000"/>
<rect x="519.4" y="597.5" width="5.66" height="11.7" fill="#00008f"/>
<rect x="524.76" y="597.5" width="5.66" height="11.7" fill="#0000af"/>
<rect x="530.12" y="597.5" width="5.66" height="11.7" fill="#0000cf"/>
<rect x="535.49" y="597.5" width="5.66" height="11.7" fill="#0000ef"/>
<rect x="540.85" y="597.5" width="5.66" height="11.7" fill="#000fff"/>
<rect x="546.21" y="597.5" width="5.66" height="11.7" fill="#002fff"/>
<rect x="551.57" y="597.5" width="5.66" height="11.7" fill="#004fff"/>
<rect x="556.94" y="597.5" width="5.66" height="11.7" fill="#006fff"/>
<rect x="562.3" y="597.5" width="5.66" height="11.7" fill="#008fff"/>
<rect x="567.66" y="597.5" width="5.66" height="11.7" fill="#00afff"/>
<rect x="573.02" y="597.5" width="5.66" height="11.7" fill="#00cfff"/>
<rect x="578.39" y="597.5" width="5.66" height="11.7" fill="#00efff"/>
<rect x="583.75" y="597.5" width="5.66" height="11.7" fill="#0fffef"/>
<rect x="589.11" y="597.5" width="5.66" height="11.7" fill="#2fffcf"/>
<rect x="594.48" y="597.5" width="5.66" height="11.7" fill="#4fffaf"/>
<rect x="599.84" y="597.5" width="5.66" height="11.7" fill="#6fff8f"/>
<rect x="605.2" y="597.5" width="5.66" height="11.7" fill="#8fff6f"/>
<rect x="610.56" y="597.5" width="5.66" height="11.7" fill="#afff4f"/>
<rect x="615.92" y="597.5" width="5.66" height="11.7" fill="#cfff2f"/>
<rect x="621.29" y="597.5" width="5.66" height="11.7" fill="#efff0f"/>
<rect x="626.65" y="597.5" width="5.66" height="11.7" fill="#ffef00"/>
<rect x="632.01" y="597.5" width="5.66" height="11.7" fill="#ffcf00"/>
<rect x="637.38" y="597.5" width="5.66" height="11.7" fill="#ffaf00"/>
<rect x="642.74" y="597.5" width="5.66" height="11.7" fill="#ff8f00"/>
<rect x="648.1" y="597.5" width="5.66" height="11.7" fill="#ff6f00"/>
<rect x="653.46" y="597.5" width="5.66" height="11.7" fill="#ff4f00"/>
<rect x="658.83" y="597.5" width="5.66" height="11.7" fill="#ff2f00"/>
<rect x="664.19" y="597.5" width="5.66" height="11.7" fill="#ff0f00"/>
<rect x="669.55" y="597.5" width="5.66" height="11.7" fill="#ef0000"/>
<rect x="674.91" y="597.5" width="5.66" height="11.7" fill="#cf0000"/>
<rect x="680.27" y="597.5" width="5.66" height="11.7" fill="#af0000"/>
<rect x="685.64" y="597.5" width="5.66" height="11.7" fill="#8f0000"/>
<rect x="519.4" y="597.5" width="171.6" height="11.7" fill="none" stroke="#000" stroke-width="0.8"/>
<text x="513" y="619.1" font-size="9.5" text-anchor="start" fill="#262626">10<tspan font-size="56%" dy="-0.65em">0</tspan></text>
<text x="682.1" y="619.1" font-size="9.5" text-anchor="start" fill="#262626">10<tspan font-size="56%" dy="-0.65em">19</tspan></text>
<text x="605.2" y="634.4" font-size="11" text-anchor="middle" font-weight="bold" fill="#111">Hole concentration (1/cm<tspan font-size="60%" dy="-0.5em">3</tspan><tspan dy="0.30em">)</tspan></text>
</g>
</svg>
</body></html>
